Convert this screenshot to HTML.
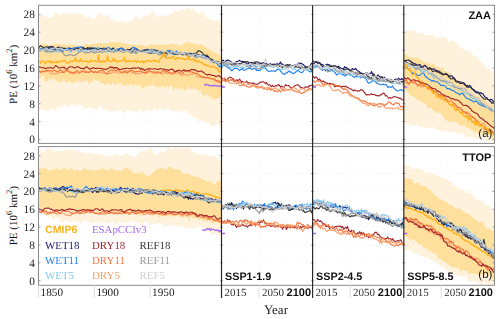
<!DOCTYPE html>
<html><head><meta charset="utf-8"><style>
html,body{margin:0;padding:0;background:#fff;width:500px;height:319px;overflow:hidden}
svg{display:block}
text{text-rendering:geometricPrecision;will-change:transform}
text.yl{will-change:auto}

</style></head><body>
<svg width="500" height="319" viewBox="0 0 500 319">
<rect width="500" height="319" fill="#fff"/>
<defs><clipPath id="c0"><rect x="38.5" y="5.3" width="456.0" height="138.1"/></clipPath><clipPath id="c1"><rect x="38.5" y="146.60000000000002" width="456.0" height="138.7"/></clipPath></defs>
<g clip-path="url(#c0)">
<line x1="38.5" y1="139.40" x2="494.5" y2="139.40" stroke="#f0f0f0" stroke-width="0.7" stroke-dasharray="1,1.5"/>
<line x1="38.5" y1="121.54" x2="494.5" y2="121.54" stroke="#f0f0f0" stroke-width="0.7" stroke-dasharray="1,1.5"/>
<line x1="38.5" y1="103.67" x2="494.5" y2="103.67" stroke="#f0f0f0" stroke-width="0.7" stroke-dasharray="1,1.5"/>
<line x1="38.5" y1="85.81" x2="494.5" y2="85.81" stroke="#f0f0f0" stroke-width="0.7" stroke-dasharray="1,1.5"/>
<line x1="38.5" y1="67.94" x2="494.5" y2="67.94" stroke="#f0f0f0" stroke-width="0.7" stroke-dasharray="1,1.5"/>
<line x1="38.5" y1="50.08" x2="494.5" y2="50.08" stroke="#f0f0f0" stroke-width="0.7" stroke-dasharray="1,1.5"/>
<line x1="38.5" y1="32.22" x2="494.5" y2="32.22" stroke="#f0f0f0" stroke-width="0.7" stroke-dasharray="1,1.5"/>
<line x1="38.5" y1="14.35" x2="494.5" y2="14.35" stroke="#f0f0f0" stroke-width="0.7" stroke-dasharray="1,1.5"/>
<line x1="94.29" y1="5.3" x2="94.29" y2="143.4" stroke="#f0f0f0" stroke-width="0.7" stroke-dasharray="1,1.5"/>
<line x1="150.09" y1="5.3" x2="150.09" y2="143.4" stroke="#f0f0f0" stroke-width="0.7" stroke-dasharray="1,1.5"/>
<line x1="259.01" y1="5.3" x2="259.01" y2="143.4" stroke="#f0f0f0" stroke-width="0.7" stroke-dasharray="1,1.5"/>
<line x1="350.15" y1="5.3" x2="350.15" y2="143.4" stroke="#f0f0f0" stroke-width="0.7" stroke-dasharray="1,1.5"/>
<line x1="441.15" y1="5.3" x2="441.15" y2="143.4" stroke="#f0f0f0" stroke-width="0.7" stroke-dasharray="1,1.5"/>
<polygon points="38.5,15.1 39.5,14.5 40.5,14.0 41.5,13.6 42.5,14.7 43.5,16.5 44.5,17.2 45.5,16.8 46.5,16.2 47.5,17.2 48.5,18.1 49.5,17.0 50.5,16.6 51.5,17.0 52.5,16.5 53.5,15.9 54.5,13.4 55.5,13.3 56.5,11.9 57.5,13.3 58.5,13.1 59.5,14.9 60.5,15.1 61.5,16.0 62.5,13.3 63.5,12.5 64.5,12.4 65.5,14.7 66.5,13.7 67.5,13.1 68.5,12.0 69.5,12.5 70.5,13.8 71.5,13.8 72.5,14.3 73.5,14.0 74.5,14.1 75.5,13.9 76.5,13.0 77.5,13.4 78.5,12.5 79.5,12.8 80.5,14.3 81.5,14.3 82.5,15.3 83.5,14.5 84.5,15.6 85.5,17.0 86.5,17.9 87.5,17.7 88.5,16.2 89.5,16.3 90.5,17.6 91.5,18.4 92.5,18.1 93.5,18.8 94.5,19.0 95.5,17.9 96.5,16.9 97.5,14.7 98.5,14.9 99.5,13.1 100.5,12.9 101.5,13.0 102.5,15.3 103.5,17.2 104.5,16.6 105.5,15.4 106.5,15.3 107.5,15.1 108.5,15.8 109.5,15.4 110.5,18.9 111.5,20.4 112.5,20.6 113.5,19.6 114.5,19.1 115.5,21.3 116.5,21.7 117.5,22.1 118.5,21.5 119.5,22.2 120.5,22.4 121.5,20.9 122.5,20.8 123.5,20.4 124.5,22.3 125.5,22.7 126.5,22.9 127.5,22.3 128.5,21.2 129.5,22.0 130.5,21.1 131.5,21.7 132.5,19.3 133.5,19.4 134.5,17.1 135.5,16.1 136.5,15.3 137.5,15.8 138.5,17.5 139.5,19.7 140.5,19.5 141.5,18.4 142.5,16.1 143.5,16.9 144.5,16.9 145.5,16.1 146.5,15.9 147.5,16.1 148.5,14.9 149.5,13.8 150.5,12.9 151.5,12.4 152.5,12.3 153.5,11.1 154.5,13.4 155.5,14.8 156.5,17.1 157.5,17.0 158.5,17.4 159.5,15.5 160.5,15.0 161.5,15.4 162.5,15.3 163.5,17.1 164.5,15.2 165.5,17.5 166.5,15.1 167.5,16.6 168.5,15.3 169.5,13.8 170.5,13.4 171.5,13.8 172.5,14.2 173.5,12.0 174.5,10.3 175.5,9.9 176.5,11.7 177.5,11.8 178.5,12.6 179.5,10.3 180.5,9.7 181.5,8.1 182.5,9.4 183.5,9.3 184.5,10.9 185.5,9.6 186.5,9.3 187.5,8.3 188.5,7.9 189.5,8.8 190.5,8.9 191.5,9.4 192.5,8.3 193.5,8.1 194.5,10.4 195.5,11.7 196.5,12.2 197.5,11.7 198.5,13.9 199.5,13.5 200.5,12.9 201.5,10.9 202.5,11.1 203.5,12.9 204.5,14.5 205.5,17.2 206.5,16.8 207.5,18.1 208.5,18.2 209.5,19.5 210.5,18.8 211.5,18.9 212.5,20.4 213.5,20.3 214.5,21.1 215.5,19.6 216.5,20.0 217.5,19.5 218.5,20.4 219.5,20.8 220.5,21.5 221.5,21.2 221.5,126.4 220.5,128.1 219.5,126.8 218.5,124.5 217.5,123.9 216.5,123.4 215.5,124.6 214.5,124.5 213.5,126.8 212.5,126.9 211.5,126.1 210.5,124.5 209.5,123.8 208.5,123.3 207.5,123.0 206.5,122.9 205.5,122.6 204.5,122.2 203.5,121.3 202.5,120.5 201.5,119.2 200.5,120.0 199.5,121.4 198.5,121.7 197.5,119.7 196.5,117.8 195.5,116.8 194.5,117.9 193.5,117.5 192.5,116.6 191.5,115.0 190.5,114.7 189.5,113.7 188.5,113.4 187.5,111.6 186.5,111.3 185.5,110.4 184.5,110.3 183.5,111.0 182.5,110.5 181.5,112.6 180.5,113.0 179.5,112.3 178.5,110.7 177.5,110.4 176.5,110.6 175.5,110.2 174.5,111.1 173.5,111.9 172.5,111.4 171.5,110.8 170.5,109.7 169.5,110.0 168.5,108.0 167.5,108.6 166.5,108.5 165.5,109.4 164.5,109.0 163.5,109.7 162.5,109.7 161.5,109.0 160.5,108.0 159.5,108.0 158.5,109.2 157.5,110.8 156.5,110.3 155.5,109.6 154.5,108.5 153.5,109.5 152.5,111.1 151.5,111.3 150.5,110.8 149.5,109.6 148.5,109.8 147.5,110.1 146.5,110.9 145.5,111.5 144.5,112.3 143.5,113.0 142.5,111.1 141.5,110.2 140.5,108.7 139.5,111.3 138.5,111.6 137.5,112.4 136.5,112.2 135.5,112.2 134.5,111.8 133.5,110.2 132.5,110.5 131.5,110.8 130.5,111.9 129.5,109.9 128.5,110.1 127.5,110.5 126.5,112.0 125.5,112.8 124.5,113.4 123.5,112.7 122.5,111.6 121.5,110.1 120.5,110.1 119.5,110.9 118.5,110.4 117.5,111.7 116.5,110.0 115.5,110.6 114.5,110.6 113.5,111.9 112.5,111.8 111.5,111.2 110.5,110.6 109.5,110.7 108.5,111.5 107.5,110.7 106.5,109.6 105.5,108.8 104.5,110.4 103.5,110.8 102.5,108.3 101.5,105.8 100.5,105.6 99.5,106.3 98.5,107.6 97.5,108.8 96.5,110.0 95.5,109.9 94.5,108.8 93.5,109.4 92.5,108.8 91.5,107.7 90.5,106.9 89.5,107.0 88.5,108.6 87.5,107.4 86.5,108.8 85.5,108.2 84.5,109.3 83.5,107.1 82.5,106.8 81.5,105.7 80.5,105.3 79.5,104.5 78.5,104.3 77.5,105.2 76.5,105.6 75.5,106.8 74.5,105.4 73.5,104.8 72.5,104.4 71.5,104.6 70.5,104.8 69.5,105.0 68.5,106.1 67.5,106.9 66.5,107.1 65.5,105.8 64.5,104.7 63.5,105.2 62.5,106.9 61.5,107.4 60.5,107.5 59.5,106.4 58.5,106.4 57.5,107.0 56.5,109.8 55.5,111.4 54.5,110.7 53.5,110.1 52.5,108.6 51.5,109.5 50.5,108.6 49.5,110.3 48.5,109.9 47.5,110.9 46.5,110.7 45.5,110.1 44.5,110.4 43.5,110.8 42.5,109.9 41.5,108.9 40.5,108.6 39.5,110.2 38.5,111.6" fill="#fff2dd"/>
<polygon points="38.5,45.2 39.5,45.1 40.5,44.9 41.5,44.7 42.5,43.9 43.5,43.4 44.5,43.7 45.5,43.7 46.5,44.2 47.5,44.6 48.5,45.4 49.5,45.2 50.5,45.8 51.5,45.4 52.5,44.9 53.5,44.4 54.5,44.1 55.5,43.4 56.5,43.8 57.5,43.9 58.5,44.1 59.5,44.9 60.5,44.8 61.5,44.3 62.5,44.4 63.5,44.5 64.5,44.0 65.5,45.0 66.5,45.3 67.5,44.9 68.5,44.4 69.5,44.8 70.5,44.7 71.5,43.9 72.5,44.8 73.5,45.4 74.5,45.6 75.5,45.3 76.5,45.9 77.5,45.0 78.5,45.7 79.5,45.2 80.5,45.9 81.5,45.7 82.5,46.1 83.5,44.6 84.5,44.5 85.5,44.2 86.5,44.0 87.5,44.3 88.5,44.9 89.5,44.7 90.5,44.1 91.5,44.3 92.5,43.9 93.5,43.6 94.5,43.6 95.5,43.6 96.5,43.4 97.5,42.9 98.5,43.0 99.5,43.6 100.5,43.1 101.5,43.4 102.5,43.6 103.5,43.3 104.5,43.2 105.5,43.4 106.5,43.5 107.5,43.1 108.5,43.2 109.5,42.5 110.5,42.0 111.5,41.6 112.5,41.9 113.5,42.0 114.5,42.2 115.5,42.2 116.5,42.0 117.5,42.2 118.5,42.4 119.5,42.3 120.5,43.0 121.5,42.7 122.5,43.2 123.5,42.8 124.5,42.9 125.5,43.2 126.5,44.5 127.5,44.0 128.5,44.3 129.5,45.0 130.5,44.8 131.5,44.5 132.5,44.8 133.5,44.9 134.5,45.3 135.5,45.4 136.5,45.4 137.5,45.3 138.5,45.1 139.5,44.2 140.5,45.1 141.5,44.8 142.5,45.2 143.5,45.6 144.5,46.3 145.5,45.6 146.5,46.4 147.5,45.9 148.5,45.4 149.5,44.9 150.5,44.4 151.5,44.0 152.5,44.6 153.5,44.8 154.5,44.6 155.5,45.0 156.5,45.2 157.5,43.9 158.5,44.4 159.5,44.4 160.5,44.9 161.5,44.0 162.5,44.9 163.5,44.1 164.5,44.2 165.5,44.3 166.5,44.9 167.5,44.8 168.5,45.0 169.5,44.7 170.5,44.0 171.5,43.7 172.5,43.8 173.5,44.0 174.5,44.2 175.5,44.3 176.5,44.3 177.5,44.7 178.5,45.3 179.5,45.7 180.5,45.4 181.5,45.3 182.5,44.6 183.5,43.4 184.5,43.0 185.5,42.4 186.5,42.1 187.5,41.8 188.5,42.1 189.5,42.6 190.5,43.2 191.5,43.2 192.5,43.6 193.5,43.7 194.5,44.0 195.5,44.4 196.5,44.5 197.5,44.8 198.5,44.7 199.5,44.6 200.5,44.7 201.5,44.6 202.5,44.8 203.5,45.5 204.5,46.2 205.5,46.8 206.5,48.0 207.5,48.2 208.5,48.7 209.5,49.1 210.5,49.9 211.5,50.2 212.5,51.2 213.5,51.9 214.5,52.5 215.5,52.7 216.5,53.8 217.5,53.6 218.5,54.2 219.5,54.8 220.5,55.5 221.5,55.9 221.5,98.0 220.5,95.6 219.5,97.5 218.5,97.8 217.5,98.7 216.5,98.5 215.5,99.0 214.5,99.8 213.5,97.3 212.5,100.0 211.5,95.9 210.5,98.4 209.5,97.0 208.5,95.3 207.5,95.2 206.5,93.2 205.5,95.4 204.5,97.8 203.5,95.8 202.5,94.0 201.5,94.8 200.5,88.9 199.5,91.3 198.5,90.4 197.5,90.2 196.5,89.0 195.5,90.1 194.5,86.4 193.5,88.2 192.5,89.7 191.5,89.2 190.5,88.2 189.5,89.4 188.5,85.3 187.5,89.4 186.5,89.1 185.5,90.8 184.5,91.1 183.5,87.3 182.5,89.1 181.5,88.7 180.5,89.8 179.5,87.3 178.5,87.4 177.5,90.9 176.5,88.8 175.5,87.5 174.5,89.0 173.5,91.4 172.5,86.9 171.5,85.8 170.5,84.9 169.5,88.3 168.5,86.9 167.5,86.6 166.5,86.0 165.5,87.0 164.5,88.7 163.5,85.4 162.5,86.3 161.5,85.5 160.5,87.5 159.5,86.2 158.5,87.6 157.5,86.9 156.5,86.3 155.5,85.3 154.5,87.4 153.5,84.2 152.5,83.8 151.5,85.0 150.5,86.9 149.5,86.3 148.5,84.6 147.5,85.8 146.5,88.3 145.5,86.2 144.5,85.9 143.5,88.8 142.5,89.1 141.5,87.5 140.5,84.9 139.5,84.6 138.5,86.9 137.5,84.9 136.5,85.5 135.5,83.9 134.5,85.7 133.5,86.2 132.5,84.1 131.5,85.4 130.5,83.7 129.5,83.6 128.5,86.6 127.5,84.5 126.5,86.3 125.5,84.0 124.5,85.4 123.5,85.3 122.5,86.1 121.5,82.1 120.5,83.3 119.5,84.8 118.5,82.8 117.5,81.8 116.5,85.7 115.5,85.2 114.5,83.6 113.5,83.6 112.5,82.3 111.5,86.0 110.5,83.6 109.5,85.6 108.5,83.8 107.5,83.4 106.5,83.1 105.5,86.3 104.5,84.6 103.5,83.1 102.5,82.3 101.5,84.2 100.5,82.7 99.5,81.2 98.5,80.9 97.5,81.3 96.5,80.3 95.5,80.7 94.5,80.2 93.5,76.8 92.5,82.7 91.5,82.1 90.5,81.8 89.5,83.5 88.5,84.3 87.5,82.3 86.5,79.3 85.5,81.4 84.5,81.7 83.5,82.0 82.5,79.9 81.5,82.9 80.5,82.3 79.5,83.2 78.5,79.7 77.5,80.6 76.5,82.7 75.5,81.6 74.5,82.6 73.5,83.5 72.5,82.7 71.5,82.9 70.5,81.6 69.5,80.5 68.5,83.1 67.5,81.7 66.5,82.0 65.5,82.0 64.5,80.2 63.5,79.3 62.5,80.8 61.5,80.9 60.5,83.5 59.5,83.6 58.5,81.3 57.5,80.3 56.5,82.7 55.5,79.7 54.5,78.7 53.5,78.3 52.5,81.1 51.5,76.6 50.5,80.1 49.5,81.7 48.5,77.9 47.5,80.5 46.5,81.6 45.5,81.8 44.5,80.0 43.5,75.2 42.5,76.1 41.5,76.3 40.5,77.9 39.5,77.9 38.5,78.6" fill="#ffdf9c"/>
<polygon points="403.8,32.0 404.8,31.6 405.8,30.3 406.8,30.6 407.8,30.4 408.8,31.0 409.8,30.2 410.8,30.5 411.8,30.6 412.8,30.9 413.8,30.5 414.8,30.8 415.8,32.4 416.8,33.2 417.8,33.6 418.8,32.8 419.8,33.5 420.8,33.2 421.8,33.0 422.8,33.4 423.8,34.4 424.8,34.9 425.8,35.5 426.8,35.2 427.8,35.4 428.8,34.4 429.8,35.9 430.8,35.0 431.8,35.2 432.8,34.2 433.8,36.0 434.8,37.0 435.8,38.3 436.8,37.3 437.8,37.6 438.8,36.9 439.8,37.6 440.8,37.8 441.8,37.6 442.8,37.1 443.8,36.8 444.8,36.7 445.8,37.8 446.8,38.4 447.8,39.7 448.8,41.3 449.8,41.5 450.8,41.0 451.8,40.2 452.8,40.4 453.8,41.1 454.8,42.4 455.8,43.2 456.8,43.3 457.8,44.1 458.8,45.0 459.8,46.9 460.8,47.2 461.8,48.2 462.8,48.6 463.8,49.9 464.8,50.3 465.8,51.1 466.8,51.2 467.8,50.7 468.8,51.0 469.8,51.2 470.8,52.8 471.8,52.9 472.8,54.9 473.8,55.8 474.8,56.8 475.8,55.7 476.8,56.4 477.8,58.0 478.8,59.5 479.8,60.6 480.8,61.2 481.8,62.8 482.8,63.3 483.8,64.5 484.8,65.7 485.8,68.5 486.8,68.8 487.8,68.9 488.8,67.8 489.8,69.8 490.8,70.3 491.8,71.4 492.8,71.8 493.8,73.7 494.5,74.9 494.5,142.0 493.8,142.9 492.8,141.8 491.8,142.0 490.8,140.7 489.8,141.2 488.8,141.5 487.8,141.6 486.8,141.1 485.8,141.4 484.8,139.7 483.8,138.7 482.8,138.2 481.8,139.3 480.8,139.8 479.8,139.4 478.8,138.7 477.8,138.2 476.8,138.6 475.8,138.7 474.8,139.0 473.8,137.1 472.8,137.8 471.8,137.0 470.8,137.6 469.8,136.8 468.8,136.4 467.8,137.3 466.8,138.0 465.8,138.6 464.8,136.5 463.8,134.9 462.8,133.3 461.8,134.1 460.8,133.6 459.8,133.4 458.8,133.3 457.8,133.2 456.8,132.8 455.8,131.9 454.8,131.8 453.8,132.0 452.8,132.1 451.8,131.5 450.8,131.8 449.8,131.7 448.8,131.6 447.8,130.4 446.8,131.1 445.8,131.0 444.8,131.6 443.8,130.8 442.8,131.8 441.8,132.0 440.8,130.7 439.8,129.7 438.8,129.2 437.8,130.5 436.8,129.9 435.8,129.5 434.8,128.4 433.8,127.0 432.8,126.6 431.8,127.3 430.8,128.4 429.8,128.4 428.8,127.2 427.8,127.3 426.8,128.7 425.8,128.7 424.8,127.7 423.8,126.7 422.8,126.4 421.8,127.4 420.8,126.8 419.8,127.9 418.8,126.6 417.8,125.6 416.8,124.3 415.8,125.1 414.8,125.1 413.8,125.3 412.8,125.2 411.8,126.1 410.8,125.8 409.8,124.2 408.8,123.5 407.8,123.8 406.8,124.5 405.8,123.7 404.8,122.2 403.8,122.0" fill="#fff2dd"/>
<polygon points="403.8,54.4 404.8,54.6 405.8,54.1 406.8,54.9 407.8,56.6 408.8,56.9 409.8,56.9 410.8,57.0 411.8,57.2 412.8,57.4 413.8,57.3 414.8,57.7 415.8,57.5 416.8,57.9 417.8,58.5 418.8,58.8 419.8,58.8 420.8,59.8 421.8,60.5 422.8,61.5 423.8,61.9 424.8,62.4 425.8,63.6 426.8,62.8 427.8,63.4 428.8,62.3 429.8,64.2 430.8,65.1 431.8,64.6 432.8,63.4 433.8,63.3 434.8,65.2 435.8,66.5 436.8,66.5 437.8,66.7 438.8,67.1 439.8,67.5 440.8,68.5 441.8,67.6 442.8,68.8 443.8,68.4 444.8,70.9 445.8,71.2 446.8,72.0 447.8,72.4 448.8,72.8 449.8,73.5 450.8,73.2 451.8,74.5 452.8,76.0 453.8,78.2 454.8,78.9 455.8,79.9 456.8,80.1 457.8,80.9 458.8,81.4 459.8,82.7 460.8,83.3 461.8,83.6 462.8,83.7 463.8,84.7 464.8,85.1 465.8,86.5 466.8,87.0 467.8,88.5 468.8,88.2 469.8,89.4 470.8,90.1 471.8,91.1 472.8,92.7 473.8,93.5 474.8,95.5 475.8,95.6 476.8,95.8 477.8,95.4 478.8,95.8 479.8,97.0 480.8,98.0 481.8,98.3 482.8,98.1 483.8,98.7 484.8,98.3 485.8,100.3 486.8,100.8 487.8,102.4 488.8,102.8 489.8,104.1 490.8,104.4 491.8,104.4 492.8,104.4 493.8,104.8 494.5,105.7 494.5,139.0 493.8,138.9 492.8,138.9 491.8,138.2 490.8,137.1 489.8,136.0 488.8,135.1 487.8,135.0 486.8,134.4 485.8,135.1 484.8,134.7 483.8,134.4 482.8,133.3 481.8,133.1 480.8,132.9 479.8,133.3 478.8,134.5 477.8,134.1 476.8,132.5 475.8,132.0 474.8,132.6 473.8,132.6 472.8,131.1 471.8,130.0 470.8,129.7 469.8,128.6 468.8,127.9 467.8,127.9 466.8,127.6 465.8,127.1 464.8,125.4 463.8,126.1 462.8,125.6 461.8,126.6 460.8,125.7 459.8,125.3 458.8,124.6 457.8,123.5 456.8,121.8 455.8,122.4 454.8,121.8 453.8,122.7 452.8,120.9 451.8,121.0 450.8,121.4 449.8,122.0 448.8,121.4 447.8,120.7 446.8,120.6 445.8,120.9 444.8,119.1 443.8,117.8 442.8,115.6 441.8,114.9 440.8,112.9 439.8,112.8 438.8,112.3 437.8,113.0 436.8,113.5 435.8,112.6 434.8,111.0 433.8,110.4 432.8,109.9 431.8,109.2 430.8,107.3 429.8,107.5 428.8,108.7 427.8,108.7 426.8,106.6 425.8,104.4 424.8,103.2 423.8,103.0 422.8,103.0 421.8,102.5 420.8,100.9 419.8,100.6 418.8,100.1 417.8,101.0 416.8,99.1 415.8,98.7 414.8,97.0 413.8,96.5 412.8,95.5 411.8,96.4 410.8,95.9 409.8,95.0 408.8,93.1 407.8,92.2 406.8,90.8 405.8,90.6 404.8,89.1 403.8,90.1" fill="#ffdf9c"/>
<polyline points="38.5,48.7 39.5,48.2 40.5,49.0 41.5,48.7 42.5,48.9 43.5,48.0 44.5,47.7 45.5,48.1 46.5,48.0 47.5,48.9 48.5,48.5 49.5,47.7 50.5,46.8 51.5,46.3 52.5,47.4 53.5,48.3 54.5,49.6 55.5,49.0 56.5,48.1 57.5,48.7 58.5,49.5 59.5,49.9 60.5,49.5 61.5,50.6 62.5,51.3 63.5,50.8 64.5,49.8 65.5,49.5 66.5,49.1 67.5,48.5 68.5,48.2 69.5,48.1 70.5,48.6 71.5,48.6 72.5,50.2 73.5,49.9 74.5,49.8 75.5,48.6 76.5,49.2 77.5,49.8 78.5,49.6 79.5,49.0 80.5,47.7 81.5,47.5 82.5,48.2 83.5,49.1 84.5,49.0 85.5,48.6 86.5,48.6 87.5,49.4 88.5,49.3 89.5,49.2 90.5,48.0 91.5,47.8 92.5,48.7 93.5,48.6 94.5,49.0 95.5,48.3 96.5,49.2 97.5,49.0 98.5,48.9 99.5,49.1 100.5,49.4 101.5,48.6 102.5,48.5 103.5,48.2 104.5,48.8 105.5,49.0 106.5,49.8 107.5,50.5 108.5,50.2 109.5,50.3 110.5,50.5 111.5,51.3 112.5,51.5 113.5,50.9 114.5,50.3 115.5,50.0 116.5,49.4 117.5,49.6 118.5,49.0 119.5,49.5 120.5,48.5 121.5,48.4 122.5,48.6 123.5,49.9 124.5,50.8 125.5,50.8 126.5,50.3 127.5,49.4 128.5,49.7 129.5,49.7 130.5,50.4 131.5,51.2 132.5,51.3 133.5,50.4 134.5,49.2 135.5,48.5 136.5,48.8 137.5,49.9 138.5,50.8 139.5,50.7 140.5,50.5 141.5,51.1 142.5,51.7 143.5,51.1 144.5,50.4 145.5,50.8 146.5,51.5 147.5,52.4 148.5,52.9 149.5,53.2 150.5,53.4 151.5,53.2 152.5,52.0 153.5,51.3 154.5,51.2 155.5,51.8 156.5,52.4 157.5,52.2 158.5,52.0 159.5,52.3 160.5,52.9 161.5,53.5 162.5,53.4 163.5,53.6 164.5,53.8 165.5,52.2 166.5,51.4 167.5,51.1 168.5,51.9 169.5,52.4 170.5,53.3 171.5,53.6 172.5,53.0 173.5,53.5 174.5,53.6 175.5,53.6 176.5,52.8 177.5,53.3 178.5,53.6 179.5,54.0 180.5,53.6 181.5,53.5 182.5,53.3 183.5,54.0 184.5,54.2 185.5,54.3 186.5,54.0 187.5,55.7 188.5,55.3 189.5,56.1 190.5,54.7 191.5,55.1 192.5,54.8 193.5,55.3 194.5,56.1 195.5,55.9 196.5,55.3 197.5,54.4 198.5,54.6 199.5,55.2 200.5,56.4 201.5,56.8 202.5,57.5 203.5,58.0 204.5,58.3 205.5,57.5 206.5,56.6 207.5,56.2 208.5,58.1 209.5,58.6 210.5,60.3 211.5,60.2 212.5,61.8 213.5,62.1 214.5,62.1 215.5,61.6 216.5,61.5 217.5,62.0 218.5,62.2 219.5,62.6 220.5,63.6 221.5,63.4" fill="none" stroke="#18186f" stroke-width="1.15" stroke-linejoin="round" stroke-opacity="1.0"/>
<polyline points="38.5,48.3 39.5,48.6 40.5,48.9 41.5,49.2 42.5,48.1 43.5,48.7 44.5,48.0 45.5,49.0 46.5,48.6 47.5,47.8 48.5,47.1 49.5,47.2 50.5,49.0 51.5,49.5 52.5,49.5 53.5,48.2 54.5,48.7 55.5,49.4 56.5,50.1 57.5,49.3 58.5,47.8 59.5,48.2 60.5,49.5 61.5,50.6 62.5,50.7 63.5,49.8 64.5,49.0 65.5,49.0 66.5,48.3 67.5,48.6 68.5,48.1 69.5,49.1 70.5,49.4 71.5,49.4 72.5,48.7 73.5,47.9 74.5,47.8 75.5,47.8 76.5,47.8 77.5,47.2 78.5,47.4 79.5,47.1 80.5,47.1 81.5,46.6 82.5,47.5 83.5,48.3 84.5,49.9 85.5,49.2 86.5,48.7 87.5,48.2 88.5,48.8 89.5,48.9 90.5,49.3 91.5,49.3 92.5,48.9 93.5,47.5 94.5,47.9 95.5,48.5 96.5,48.5 97.5,47.9 98.5,48.0 99.5,48.9 100.5,49.0 101.5,49.1 102.5,49.1 103.5,48.6 104.5,48.2 105.5,48.1 106.5,48.7 107.5,47.9 108.5,47.5 109.5,48.1 110.5,49.8 111.5,49.0 112.5,49.8 113.5,48.6 114.5,50.0 115.5,49.4 116.5,50.3 117.5,50.0 118.5,48.9 119.5,48.8 120.5,48.4 121.5,47.8 122.5,48.8 123.5,49.4 124.5,51.4 125.5,49.7 126.5,50.0 127.5,49.9 128.5,51.1 129.5,50.4 130.5,49.2 131.5,48.5 132.5,47.6 133.5,47.4 134.5,47.6 135.5,48.3 136.5,49.0 137.5,49.0 138.5,50.4 139.5,51.1 140.5,51.2 141.5,51.0 142.5,50.1 143.5,50.1 144.5,50.0 145.5,49.9 146.5,50.0 147.5,49.1 148.5,49.7 149.5,50.7 150.5,51.0 151.5,51.1 152.5,50.1 153.5,50.0 154.5,49.4 155.5,50.5 156.5,52.2 157.5,53.0 158.5,52.1 159.5,51.5 160.5,51.2 161.5,51.9 162.5,51.8 163.5,52.2 164.5,52.2 165.5,51.8 166.5,51.6 167.5,50.6 168.5,50.8 169.5,50.4 170.5,51.2 171.5,51.0 172.5,51.8 173.5,52.1 174.5,52.0 175.5,51.7 176.5,51.1 177.5,52.2 178.5,53.4 179.5,54.3 180.5,54.0 181.5,54.0 182.5,53.0 183.5,53.9 184.5,53.1 185.5,52.6 186.5,53.2 187.5,54.3 188.5,55.2 189.5,54.2 190.5,53.5 191.5,54.1 192.5,53.5 193.5,53.4 194.5,53.7 195.5,54.5 196.5,55.5 197.5,55.4 198.5,56.5 199.5,55.7 200.5,56.1 201.5,54.8 202.5,55.1 203.5,56.2 204.5,57.2 205.5,58.6 206.5,58.5 207.5,59.0 208.5,59.0 209.5,59.3 210.5,60.0 211.5,60.9 212.5,61.9 213.5,62.3 214.5,62.0 215.5,62.3 216.5,62.9 217.5,64.2 218.5,65.8 219.5,66.6 220.5,66.6 221.5,65.8" fill="none" stroke="#1f7ff0" stroke-width="1.15" stroke-linejoin="round" stroke-opacity="1.0"/>
<polyline points="38.5,48.5 39.5,48.8 40.5,49.0 41.5,50.0 42.5,50.0 43.5,50.1 44.5,49.1 45.5,50.2 46.5,50.6 47.5,52.2 48.5,51.8 49.5,52.3 50.5,51.2 51.5,51.2 52.5,51.9 53.5,51.4 54.5,51.6 55.5,51.1 56.5,52.0 57.5,51.8 58.5,51.6 59.5,51.0 60.5,50.8 61.5,49.6 62.5,49.6 63.5,49.1 64.5,49.5 65.5,50.0 66.5,50.6 67.5,49.9 68.5,50.9 69.5,51.3 70.5,52.5 71.5,51.2 72.5,50.5 73.5,50.4 74.5,50.9 75.5,50.0 76.5,50.1 77.5,51.5 78.5,51.4 79.5,51.6 80.5,50.2 81.5,51.2 82.5,51.4 83.5,50.5 84.5,50.7 85.5,50.8 86.5,51.3 87.5,51.0 88.5,50.3 89.5,50.1 90.5,51.2 91.5,50.7 92.5,51.4 93.5,49.9 94.5,50.8 95.5,50.2 96.5,49.5 97.5,49.1 98.5,48.6 99.5,49.8 100.5,50.7 101.5,50.7 102.5,50.3 103.5,50.3 104.5,51.0 105.5,52.5 106.5,51.8 107.5,51.3 108.5,50.4 109.5,50.9 110.5,52.0 111.5,52.0 112.5,51.4 113.5,50.8 114.5,50.5 115.5,51.5 116.5,51.6 117.5,51.3 118.5,50.0 119.5,50.4 120.5,51.4 121.5,51.6 122.5,50.8 123.5,50.5 124.5,49.6 125.5,49.3 126.5,49.8 127.5,50.4 128.5,51.4 129.5,51.6 130.5,52.3 131.5,52.1 132.5,52.7 133.5,52.8 134.5,52.7 135.5,51.9 136.5,51.9 137.5,51.6 138.5,51.3 139.5,51.1 140.5,50.5 141.5,50.5 142.5,50.5 143.5,51.4 144.5,50.6 145.5,50.7 146.5,50.9 147.5,52.0 148.5,51.6 149.5,52.0 150.5,51.4 151.5,52.0 152.5,52.4 153.5,52.7 154.5,52.7 155.5,52.6 156.5,52.8 157.5,53.0 158.5,52.6 159.5,53.5 160.5,52.5 161.5,52.0 162.5,50.9 163.5,51.6 164.5,51.6 165.5,51.8 166.5,52.6 167.5,52.7 168.5,53.3 169.5,53.4 170.5,53.5 171.5,53.6 172.5,54.3 173.5,55.0 174.5,54.6 175.5,53.8 176.5,53.1 177.5,53.7 178.5,54.3 179.5,54.5 180.5,54.3 181.5,54.5 182.5,54.8 183.5,55.1 184.5,54.0 185.5,53.9 186.5,53.6 187.5,55.4 188.5,55.7 189.5,55.8 190.5,54.4 191.5,54.6 192.5,55.3 193.5,55.8 194.5,57.1 195.5,57.0 196.5,57.7 197.5,56.8 198.5,57.1 199.5,55.7 200.5,55.7 201.5,55.8 202.5,56.8 203.5,56.2 204.5,57.1 205.5,57.5 206.5,58.8 207.5,58.6 208.5,59.1 209.5,60.0 210.5,59.9 211.5,59.9 212.5,60.2 213.5,61.4 214.5,62.1 215.5,62.1 216.5,62.0 217.5,62.6 218.5,63.9 219.5,64.2 220.5,65.5 221.5,65.7" fill="none" stroke="#84c8ec" stroke-width="1.15" stroke-linejoin="round" stroke-opacity="1.0"/>
<polyline points="38.5,47.4 39.5,46.8 40.5,45.7 41.5,46.3 42.5,47.0 43.5,47.5 44.5,47.8 45.5,46.8 46.5,47.4 47.5,46.6 48.5,47.4 49.5,46.9 50.5,47.1 51.5,46.8 52.5,46.5 53.5,47.1 54.5,48.1 55.5,49.0 56.5,48.5 57.5,47.8 58.5,47.0 59.5,47.8 60.5,47.2 61.5,48.3 62.5,47.9 63.5,48.5 64.5,48.1 65.5,48.9 66.5,49.5 67.5,49.9 68.5,49.5 69.5,49.9 70.5,50.1 71.5,50.0 72.5,50.1 73.5,49.6 74.5,49.7 75.5,48.5 76.5,48.3 77.5,48.6 78.5,48.5 79.5,49.0 80.5,48.8 81.5,49.6 82.5,48.1 83.5,47.9 84.5,48.1 85.5,48.9 86.5,49.0 87.5,47.5 88.5,48.3 89.5,47.9 90.5,49.6 91.5,48.3 92.5,49.0 93.5,48.5 94.5,49.9 95.5,49.1 96.5,48.9 97.5,49.7 98.5,49.7 99.5,49.7 100.5,48.4 101.5,48.3 102.5,49.3 103.5,50.4 104.5,50.6 105.5,49.1 106.5,48.8 107.5,49.8 108.5,51.2 109.5,51.2 110.5,50.2 111.5,49.7 112.5,48.4 113.5,48.1 114.5,48.7 115.5,49.1 116.5,51.1 117.5,50.6 118.5,50.6 119.5,49.9 120.5,50.8 121.5,51.4 122.5,50.4 123.5,49.7 124.5,50.2 125.5,50.6 126.5,50.0 127.5,49.8 128.5,50.2 129.5,50.0 130.5,49.3 131.5,48.9 132.5,49.7 133.5,50.0 134.5,51.1 135.5,51.4 136.5,50.6 137.5,50.3 138.5,50.4 139.5,51.5 140.5,51.9 141.5,51.2 142.5,50.6 143.5,50.6 144.5,50.4 145.5,49.8 146.5,49.9 147.5,50.2 148.5,51.2 149.5,50.0 150.5,49.8 151.5,49.4 152.5,50.0 153.5,50.9 154.5,50.4 155.5,51.0 156.5,50.3 157.5,51.0 158.5,51.0 159.5,51.7 160.5,51.5 161.5,52.2 162.5,51.8 163.5,52.8 164.5,52.0 165.5,53.3 166.5,53.0 167.5,53.5 168.5,52.4 169.5,53.3 170.5,52.4 171.5,52.7 172.5,53.2 173.5,53.8 174.5,54.1 175.5,54.4 176.5,54.5 177.5,54.1 178.5,53.4 179.5,52.8 180.5,53.9 181.5,54.2 182.5,54.7 183.5,53.9 184.5,53.5 185.5,53.9 186.5,53.8 187.5,54.1 188.5,53.2 189.5,53.6 190.5,53.2 191.5,54.2 192.5,54.7 193.5,54.1 194.5,54.1 195.5,53.3 196.5,53.1 197.5,51.6 198.5,50.6 199.5,51.0 200.5,51.4 201.5,52.2 202.5,52.8 203.5,54.0 204.5,55.3 205.5,55.4 206.5,55.1 207.5,55.6 208.5,56.7 209.5,58.5 210.5,58.5 211.5,59.4 212.5,59.8 213.5,60.6 214.5,60.7 215.5,61.0 216.5,61.2 217.5,61.5 218.5,62.3 219.5,62.4 220.5,63.7 221.5,63.6" fill="none" stroke="#353535" stroke-width="1.15" stroke-linejoin="round" stroke-opacity="1.0"/>
<polyline points="38.5,50.4 39.5,51.0 40.5,50.9 41.5,50.4 42.5,48.9 43.5,49.0 44.5,50.9 45.5,51.5 46.5,52.2 47.5,50.5 48.5,50.6 49.5,50.5 50.5,52.1 51.5,51.6 52.5,51.6 53.5,50.8 54.5,50.7 55.5,50.4 56.5,50.1 57.5,49.4 58.5,49.8 59.5,50.3 60.5,51.7 61.5,51.2 62.5,52.3 63.5,53.3 64.5,55.2 65.5,55.7 66.5,55.6 67.5,55.5 68.5,54.7 69.5,55.0 70.5,54.5 71.5,54.7 72.5,55.4 73.5,55.6 74.5,55.5 75.5,54.8 76.5,54.6 77.5,53.5 78.5,52.7 79.5,51.9 80.5,51.4 81.5,50.9 82.5,50.3 83.5,51.7 84.5,52.6 85.5,53.2 86.5,52.1 87.5,52.6 88.5,52.5 89.5,52.5 90.5,51.5 91.5,51.5 92.5,52.3 93.5,52.2 94.5,53.2 95.5,51.9 96.5,52.4 97.5,50.7 98.5,52.2 99.5,51.6 100.5,52.2 101.5,51.7 102.5,52.6 103.5,52.0 104.5,51.4 105.5,49.9 106.5,50.6 107.5,50.8 108.5,51.4 109.5,50.9 110.5,50.8 111.5,50.6 112.5,51.3 113.5,52.4 114.5,51.7 115.5,51.4 116.5,50.3 117.5,51.7 118.5,51.3 119.5,51.4 120.5,50.6 121.5,51.6 122.5,51.7 123.5,52.2 124.5,52.1 125.5,51.9 126.5,51.1 127.5,51.3 128.5,51.6 129.5,52.4 130.5,52.6 131.5,53.2 132.5,52.7 133.5,51.8 134.5,52.0 135.5,53.4 136.5,53.5 137.5,52.0 138.5,50.9 139.5,51.0 140.5,50.8 141.5,51.2 142.5,50.8 143.5,51.1 144.5,51.6 145.5,52.0 146.5,52.6 147.5,52.5 148.5,53.4 149.5,53.3 150.5,53.0 151.5,52.1 152.5,53.3 153.5,53.7 154.5,53.5 155.5,52.6 156.5,52.7 157.5,53.6 158.5,54.6 159.5,55.0 160.5,54.7 161.5,54.0 162.5,52.9 163.5,53.8 164.5,54.3 165.5,56.5 166.5,56.0 167.5,54.4 168.5,52.1 169.5,51.7 170.5,52.1 171.5,52.1 172.5,52.0 173.5,53.1 174.5,53.6 175.5,53.5 176.5,53.9 177.5,53.8 178.5,54.1 179.5,52.9 180.5,52.9 181.5,53.6 182.5,53.6 183.5,54.0 184.5,54.2 185.5,54.9 186.5,55.2 187.5,54.3 188.5,55.3 189.5,55.8 190.5,56.7 191.5,55.1 192.5,53.9 193.5,54.4 194.5,56.5 195.5,57.3 196.5,57.5 197.5,56.3 198.5,56.1 199.5,55.5 200.5,56.3 201.5,56.0 202.5,57.0 203.5,57.9 204.5,58.5 205.5,57.7 206.5,57.6 207.5,58.3 208.5,58.1 209.5,58.8 210.5,59.7 211.5,61.1 212.5,62.3 213.5,62.7 214.5,62.9 215.5,62.2 216.5,62.0 217.5,62.4 218.5,63.0 219.5,63.7 220.5,64.2 221.5,65.4" fill="none" stroke="#9a9a9a" stroke-width="1.15" stroke-linejoin="round" stroke-opacity="1.0"/>
<polyline points="38.5,50.1 39.5,50.0 40.5,50.3 41.5,50.0 42.5,50.8 43.5,49.5 44.5,49.4 45.5,47.8 46.5,48.1 47.5,48.5 48.5,50.0 49.5,49.9 50.5,49.6 51.5,48.7 52.5,48.7 53.5,48.1 54.5,48.3 55.5,47.8 56.5,48.5 57.5,48.5 58.5,49.1 59.5,48.5 60.5,47.8 61.5,49.1 62.5,49.0 63.5,50.5 64.5,49.9 65.5,50.4 66.5,49.0 67.5,49.2 68.5,50.3 69.5,50.5 70.5,49.8 71.5,49.5 72.5,50.1 73.5,51.3 74.5,50.5 75.5,50.6 76.5,49.0 77.5,50.4 78.5,49.7 79.5,49.2 80.5,48.1 81.5,48.4 82.5,50.6 83.5,50.5 84.5,50.6 85.5,49.9 86.5,50.9 87.5,50.9 88.5,51.1 89.5,50.6 90.5,50.5 91.5,50.0 92.5,49.8 93.5,49.5 94.5,50.1 95.5,49.4 96.5,50.5 97.5,50.3 98.5,51.0 99.5,50.1 100.5,49.5 101.5,49.8 102.5,50.6 103.5,50.8 104.5,51.1 105.5,50.5 106.5,50.5 107.5,49.2 108.5,49.9 109.5,49.8 110.5,50.4 111.5,50.7 112.5,51.0 113.5,49.7 114.5,49.2 115.5,48.1 116.5,50.1 117.5,51.4 118.5,51.9 119.5,51.4 120.5,50.0 121.5,50.5 122.5,50.8 123.5,51.6 124.5,50.9 125.5,51.4 126.5,50.3 127.5,50.9 128.5,50.7 129.5,51.6 130.5,51.0 131.5,50.1 132.5,49.6 133.5,50.1 134.5,51.1 135.5,50.7 136.5,51.0 137.5,50.8 138.5,51.8 139.5,51.9 140.5,52.4 141.5,52.4 142.5,52.6 143.5,52.2 144.5,52.9 145.5,51.6 146.5,52.0 147.5,51.0 148.5,51.9 149.5,50.8 150.5,50.0 151.5,50.0 152.5,50.2 153.5,51.5 154.5,51.0 155.5,52.1 156.5,52.1 157.5,52.7 158.5,51.7 159.5,51.2 160.5,50.8 161.5,50.9 162.5,51.4 163.5,52.0 164.5,51.6 165.5,51.5 166.5,51.2 167.5,52.0 168.5,53.2 169.5,54.0 170.5,53.8 171.5,52.1 172.5,51.1 173.5,50.4 174.5,51.7 175.5,52.1 176.5,53.1 177.5,52.5 178.5,53.0 179.5,53.8 180.5,53.9 181.5,53.8 182.5,52.7 183.5,53.6 184.5,53.4 185.5,53.3 186.5,52.3 187.5,52.2 188.5,53.1 189.5,55.2 190.5,55.6 191.5,55.9 192.5,54.8 193.5,54.9 194.5,54.3 195.5,54.2 196.5,54.5 197.5,55.8 198.5,55.0 199.5,55.7 200.5,55.1 201.5,56.3 202.5,56.7 203.5,57.5 204.5,58.4 205.5,59.0 206.5,59.4 207.5,58.7 208.5,59.6 209.5,60.7 210.5,62.6 211.5,62.7 212.5,61.2 213.5,61.0 214.5,60.4 215.5,61.2 216.5,62.1 217.5,62.4 218.5,63.0 219.5,61.9 220.5,62.5 221.5,63.0" fill="none" stroke="#d0d0d0" stroke-width="1.15" stroke-linejoin="round" stroke-opacity="1.0"/>
<polyline points="38.5,61.2 39.5,61.2 40.5,63.3 41.5,60.8 42.5,60.9 43.5,61.1 44.5,62.7 45.5,63.5 46.5,62.0 47.5,61.1 48.5,61.4 49.5,62.6 50.5,60.9 51.5,62.9 52.5,62.9 53.5,61.7 54.5,62.2 55.5,62.3 56.5,62.9 57.5,60.8 58.5,62.6 59.5,61.3 60.5,61.0 61.5,61.7 62.5,61.4 63.5,60.8 64.5,60.2 65.5,60.8 66.5,62.8 67.5,63.2 68.5,62.1 69.5,62.5 70.5,61.1 71.5,61.4 72.5,61.7 73.5,60.6 74.5,60.7 75.5,57.6 76.5,61.2 77.5,60.6 78.5,61.8 79.5,61.2 80.5,58.8 81.5,61.4 82.5,61.2 83.5,61.5 84.5,61.3 85.5,60.8 86.5,61.0 87.5,62.0 88.5,61.9 89.5,62.4 90.5,59.9 91.5,61.0 92.5,61.0 93.5,61.5 94.5,60.9 95.5,60.9 96.5,61.9 97.5,61.4 98.5,54.8 99.5,62.4 100.5,62.1 101.5,60.8 102.5,61.9 103.5,60.6 104.5,62.2 105.5,61.0 106.5,60.5 107.5,55.9 108.5,60.6 109.5,61.3 110.5,61.3 111.5,61.2 112.5,60.7 113.5,58.1 114.5,61.2 115.5,59.5 116.5,61.3 117.5,62.0 118.5,61.3 119.5,60.8 120.5,60.9 121.5,61.0 122.5,60.6 123.5,60.6 124.5,57.3 125.5,62.0 126.5,61.0 127.5,61.8 128.5,60.8 129.5,61.1 130.5,60.9 131.5,61.4 132.5,61.7 133.5,61.3 134.5,60.5 135.5,60.5 136.5,62.5 137.5,60.9 138.5,60.9 139.5,62.4 140.5,62.1 141.5,61.7 142.5,60.9 143.5,63.2 144.5,61.6 145.5,61.8 146.5,61.2 147.5,60.2 148.5,60.3 149.5,61.7 150.5,61.7 151.5,61.2 152.5,60.5 153.5,60.3 154.5,61.2 155.5,60.0 156.5,61.5 157.5,61.2 158.5,62.1 159.5,60.0 160.5,58.3 161.5,57.5 162.5,54.9 163.5,56.8 164.5,52.9 165.5,57.9 166.5,57.7 167.5,57.8 168.5,57.6 169.5,58.0 170.5,58.7 171.5,56.7 172.5,57.3 173.5,56.6 174.5,59.2 175.5,59.0 176.5,58.7 177.5,57.2 178.5,58.4 179.5,58.2 180.5,58.6 181.5,58.5 182.5,59.2 183.5,58.5 184.5,59.7 185.5,59.3 186.5,58.9 187.5,59.2 188.5,56.0 189.5,60.2 190.5,59.4 191.5,60.0 192.5,59.5 193.5,58.7 194.5,61.0 195.5,59.8 196.5,61.6 197.5,61.8 198.5,60.6 199.5,61.6 200.5,62.4 201.5,62.5 202.5,62.7 203.5,64.7 204.5,64.3 205.5,65.2 206.5,65.0 207.5,66.0 208.5,65.5 209.5,66.3 210.5,67.1 211.5,66.9 212.5,66.7 213.5,66.4 214.5,67.7 215.5,68.1 216.5,67.8 217.5,68.2 218.5,70.1 219.5,72.5 220.5,70.9 221.5,72.3" fill="none" stroke="#ffb21c" stroke-width="1.3" stroke-linejoin="round" stroke-opacity="1.0"/>
<polyline points="38.5,70.9 39.5,70.4 40.5,72.4 41.5,72.2 42.5,72.2 43.5,71.4 44.5,71.6 45.5,71.7 46.5,71.8 47.5,71.0 48.5,71.2 49.5,71.6 50.5,73.4 51.5,73.9 52.5,73.6 53.5,73.2 54.5,73.4 55.5,74.1 56.5,74.0 57.5,73.5 58.5,72.7 59.5,72.3 60.5,72.5 61.5,72.5 62.5,72.0 63.5,70.8 64.5,70.3 65.5,69.7 66.5,70.8 67.5,71.2 68.5,71.3 69.5,71.7 70.5,72.1 71.5,73.0 72.5,73.5 73.5,74.1 74.5,73.4 75.5,73.1 76.5,72.3 77.5,73.2 78.5,73.1 79.5,72.6 80.5,72.0 81.5,71.1 82.5,71.1 83.5,71.4 84.5,71.1 85.5,70.9 86.5,71.3 87.5,72.0 88.5,72.7 89.5,71.5 90.5,71.1 91.5,70.6 92.5,71.6 93.5,71.7 94.5,72.5 95.5,72.5 96.5,72.8 97.5,72.3 98.5,72.7 99.5,72.5 100.5,73.0 101.5,72.9 102.5,73.2 103.5,72.7 104.5,72.7 105.5,73.2 106.5,73.7 107.5,73.6 108.5,73.5 109.5,73.1 110.5,73.6 111.5,73.1 112.5,72.0 113.5,72.0 114.5,72.1 115.5,72.6 116.5,71.8 117.5,71.3 118.5,73.0 119.5,73.3 120.5,73.0 121.5,72.2 122.5,71.7 123.5,73.5 124.5,72.7 125.5,71.8 126.5,70.8 127.5,71.2 128.5,72.1 129.5,71.0 130.5,71.4 131.5,72.5 132.5,72.7 133.5,73.1 134.5,71.9 135.5,74.2 136.5,73.8 137.5,74.0 138.5,73.4 139.5,73.5 140.5,73.3 141.5,73.1 142.5,72.6 143.5,72.0 144.5,72.7 145.5,72.8 146.5,73.4 147.5,72.6 148.5,72.0 149.5,71.6 150.5,71.2 151.5,71.8 152.5,72.5 153.5,73.4 154.5,73.4 155.5,73.7 156.5,73.4 157.5,73.1 158.5,73.0 159.5,72.3 160.5,73.4 161.5,73.5 162.5,74.1 163.5,72.8 164.5,72.7 165.5,72.3 166.5,73.4 167.5,73.3 168.5,73.3 169.5,73.4 170.5,73.9 171.5,74.0 172.5,74.2 173.5,73.7 174.5,73.8 175.5,73.3 176.5,73.1 177.5,73.1 178.5,72.9 179.5,74.1 180.5,75.2 181.5,75.1 182.5,75.2 183.5,74.4 184.5,74.8 185.5,74.4 186.5,74.6 187.5,75.7 188.5,75.4 189.5,74.6 190.5,74.1 191.5,73.8 192.5,74.3 193.5,72.1 194.5,73.0 195.5,73.9 196.5,76.2 197.5,76.5 198.5,77.3 199.5,77.2 200.5,77.5 201.5,76.5 202.5,76.7 203.5,77.1 204.5,78.0 205.5,77.8 206.5,77.8 207.5,77.8 208.5,78.4 209.5,78.8 210.5,79.0 211.5,78.9 212.5,78.5 213.5,79.9 214.5,80.3 215.5,81.3 216.5,81.0 217.5,82.5 218.5,82.0 219.5,81.9 220.5,81.9 221.5,83.3" fill="none" stroke="#f7a26e" stroke-width="1.15" stroke-linejoin="round" stroke-opacity="1.0"/>
<polyline points="38.5,70.6 39.5,71.5 40.5,72.3 41.5,71.5 42.5,71.1 43.5,71.0 44.5,71.7 45.5,70.9 46.5,70.9 47.5,70.4 48.5,70.5 49.5,70.5 50.5,70.6 51.5,71.0 52.5,71.1 53.5,70.4 54.5,70.6 55.5,70.6 56.5,71.4 57.5,72.0 58.5,71.2 59.5,70.3 60.5,69.9 61.5,70.7 62.5,72.5 63.5,72.7 64.5,72.1 65.5,71.4 66.5,70.7 67.5,70.4 68.5,71.3 69.5,71.9 70.5,73.0 71.5,72.0 72.5,72.7 73.5,72.5 74.5,72.9 75.5,71.4 76.5,70.6 77.5,70.7 78.5,72.0 79.5,72.9 80.5,72.3 81.5,71.7 82.5,71.1 83.5,71.8 84.5,72.0 85.5,72.6 86.5,72.0 87.5,72.2 88.5,72.2 89.5,72.4 90.5,71.3 91.5,71.3 92.5,72.1 93.5,72.4 94.5,72.1 95.5,71.4 96.5,72.2 97.5,72.6 98.5,71.3 99.5,71.1 100.5,70.2 101.5,70.6 102.5,70.6 103.5,71.1 104.5,71.9 105.5,73.2 106.5,73.7 107.5,73.7 108.5,71.7 109.5,71.0 110.5,70.1 111.5,70.3 112.5,70.1 113.5,70.3 114.5,70.4 115.5,70.5 116.5,70.1 117.5,69.5 118.5,70.3 119.5,71.0 120.5,72.2 121.5,72.5 122.5,72.3 123.5,72.2 124.5,70.9 125.5,72.2 126.5,72.5 127.5,73.1 128.5,71.4 129.5,71.0 130.5,70.2 131.5,70.4 132.5,70.6 133.5,71.6 134.5,71.8 135.5,71.9 136.5,71.4 137.5,71.8 138.5,71.1 139.5,71.2 140.5,71.3 141.5,71.1 142.5,72.5 143.5,72.0 144.5,73.5 145.5,72.0 146.5,72.6 147.5,71.1 148.5,71.0 149.5,70.8 150.5,71.7 151.5,71.8 152.5,72.3 153.5,71.6 154.5,72.3 155.5,72.0 156.5,72.7 157.5,71.7 158.5,72.4 159.5,72.4 160.5,73.1 161.5,71.8 162.5,70.7 163.5,70.2 164.5,71.1 165.5,71.8 166.5,71.9 167.5,71.4 168.5,72.4 169.5,72.8 170.5,72.8 171.5,72.7 172.5,73.1 173.5,73.4 174.5,72.5 175.5,71.5 176.5,70.9 177.5,71.0 178.5,71.7 179.5,72.5 180.5,73.0 181.5,73.3 182.5,73.2 183.5,72.5 184.5,71.3 185.5,71.0 186.5,71.0 187.5,71.8 188.5,71.9 189.5,71.8 190.5,71.6 191.5,71.7 192.5,72.4 193.5,72.7 194.5,73.1 195.5,73.3 196.5,73.4 197.5,73.5 198.5,74.8 199.5,75.3 200.5,76.2 201.5,76.3 202.5,77.6 203.5,77.0 204.5,77.6 205.5,77.2 206.5,77.8 207.5,77.0 208.5,77.5 209.5,78.0 210.5,78.3 211.5,79.0 212.5,78.9 213.5,78.8 214.5,78.9 215.5,79.9 216.5,81.2 217.5,80.6 218.5,81.1 219.5,81.1 220.5,82.9 221.5,82.0" fill="none" stroke="#f5763f" stroke-width="1.15" stroke-linejoin="round" stroke-opacity="1.0"/>
<polyline points="38.5,67.0 39.5,66.7 40.5,67.2 41.5,67.7 42.5,67.7 43.5,67.6 44.5,68.2 45.5,68.9 46.5,68.3 47.5,67.8 48.5,67.9 49.5,67.9 50.5,67.7 51.5,67.6 52.5,68.5 53.5,68.3 54.5,67.0 55.5,65.7 56.5,65.8 57.5,66.8 58.5,67.7 59.5,68.0 60.5,67.8 61.5,67.6 62.5,67.3 63.5,67.6 64.5,67.3 65.5,68.7 66.5,69.1 67.5,69.0 68.5,67.6 69.5,67.0 70.5,66.7 71.5,66.8 72.5,66.7 73.5,67.8 74.5,67.9 75.5,67.9 76.5,67.0 77.5,66.7 78.5,67.0 79.5,67.5 80.5,68.4 81.5,68.2 82.5,68.7 83.5,68.4 84.5,68.6 85.5,67.4 86.5,66.8 87.5,67.1 88.5,68.5 89.5,69.1 90.5,69.1 91.5,68.4 92.5,68.2 93.5,67.6 94.5,68.2 95.5,68.5 96.5,68.6 97.5,68.1 98.5,68.2 99.5,68.5 100.5,68.3 101.5,68.7 102.5,68.7 103.5,69.1 104.5,69.0 105.5,69.3 106.5,69.3 107.5,68.9 108.5,68.1 109.5,67.8 110.5,66.7 111.5,67.7 112.5,67.2 113.5,68.4 114.5,67.5 115.5,67.9 116.5,67.6 117.5,68.0 118.5,68.7 119.5,69.5 120.5,69.5 121.5,69.7 122.5,68.7 123.5,68.8 124.5,68.6 125.5,68.6 126.5,68.3 127.5,68.2 128.5,68.5 129.5,68.7 130.5,68.5 131.5,68.2 132.5,68.4 133.5,67.9 134.5,68.0 135.5,68.4 136.5,68.0 137.5,68.0 138.5,67.7 139.5,68.1 140.5,69.5 141.5,68.2 142.5,69.5 143.5,69.1 144.5,70.5 145.5,69.9 146.5,69.4 147.5,68.7 148.5,69.2 149.5,68.6 150.5,68.9 151.5,69.0 152.5,69.0 153.5,69.0 154.5,68.7 155.5,68.7 156.5,69.3 157.5,69.4 158.5,69.4 159.5,68.9 160.5,68.5 161.5,68.9 162.5,69.0 163.5,69.0 164.5,69.7 165.5,69.4 166.5,70.1 167.5,69.8 168.5,70.4 169.5,69.8 170.5,69.7 171.5,68.9 172.5,69.4 173.5,70.0 174.5,71.4 175.5,71.7 176.5,71.4 177.5,70.5 178.5,70.2 179.5,70.1 180.5,70.8 181.5,71.1 182.5,70.8 183.5,69.9 184.5,70.1 185.5,70.6 186.5,70.9 187.5,70.8 188.5,70.6 189.5,70.6 190.5,69.9 191.5,69.3 192.5,69.8 193.5,69.5 194.5,70.2 195.5,69.8 196.5,70.9 197.5,71.3 198.5,71.8 199.5,71.1 200.5,71.3 201.5,71.0 202.5,72.0 203.5,72.4 204.5,73.2 205.5,74.2 206.5,74.5 207.5,75.0 208.5,74.4 209.5,74.4 210.5,74.8 211.5,75.4 212.5,75.2 213.5,75.5 214.5,75.5 215.5,76.6 216.5,76.6 217.5,76.1 218.5,75.5 219.5,76.3 220.5,77.1 221.5,77.3" fill="none" stroke="#a3282c" stroke-width="1.15" stroke-linejoin="round" stroke-opacity="1.0"/>
<polyline points="204.0,85.1 205.0,85.0 206.0,84.5 207.0,84.4 208.0,84.8 209.0,85.5 210.0,85.5 211.0,85.5 212.0,85.8 213.0,86.0 214.0,85.1 215.0,85.8 216.0,85.7 217.0,85.7 218.0,86.0 219.0,86.2 220.0,86.3 221.0,85.9 221.5,86.3" fill="none" stroke="#a56cf0" stroke-width="1.4" stroke-linejoin="round" stroke-opacity="1.0"/>
<polyline points="221.5,61.1 222.5,60.3 223.5,60.4 224.5,61.9 225.5,61.4 226.5,60.5 227.5,60.1 228.5,60.7 229.5,60.6 230.5,61.4 231.5,62.1 232.5,63.0 233.5,63.2 234.5,63.4 235.5,62.3 236.5,61.6 237.5,61.6 238.5,60.9 239.5,60.3 240.5,61.1 241.5,61.8 242.5,61.2 243.5,62.7 244.5,61.6 245.5,62.2 246.5,63.8 247.5,64.1 248.5,63.5 249.5,65.3 250.5,65.9 251.5,64.1 252.5,64.2 253.5,64.2 254.5,64.2 255.5,63.3 256.5,64.4 257.5,64.2 258.5,64.4 259.5,63.8 260.5,63.4 261.5,63.0 262.5,63.2 263.5,62.5 264.5,63.7 265.5,64.0 266.5,63.4 267.5,64.1 268.5,64.3 269.5,63.7 270.5,63.8 271.5,64.7 272.5,64.2 273.5,64.3 274.5,64.1 275.5,65.2 276.5,63.9 277.5,63.8 278.5,64.4 279.5,63.8 280.5,62.0 281.5,64.3 282.5,64.1 283.5,65.0 284.5,65.9 285.5,66.6 286.5,65.7 287.5,66.3 288.5,65.8 289.5,65.8 290.5,65.8 291.5,65.7 292.5,66.1 293.5,65.9 294.5,65.1 295.5,64.7 296.5,64.8 297.5,63.8 298.5,63.1 299.5,63.2 300.5,63.4 301.5,63.4 302.5,64.3 303.5,64.5 304.5,66.2 305.5,66.3 306.5,67.7 307.5,67.8 308.5,68.0 309.5,66.7 310.5,65.2 311.5,63.4 312.5,63.0 312.6,63.8" fill="none" stroke="#18186f" stroke-width="1.15" stroke-linejoin="round" stroke-opacity="1.0"/>
<polyline points="221.5,65.0 222.5,66.2 223.5,64.9 224.5,65.7 225.5,65.4 226.5,66.6 227.5,67.3 228.5,68.2 229.5,68.3 230.5,69.1 231.5,70.8 232.5,70.3 233.5,69.2 234.5,68.0 235.5,68.4 236.5,68.4 237.5,68.6 238.5,69.4 239.5,70.6 240.5,69.8 241.5,69.0 242.5,68.4 243.5,70.1 244.5,70.2 245.5,69.7 246.5,69.0 247.5,68.9 248.5,67.9 249.5,68.2 250.5,68.4 251.5,69.3 252.5,69.5 253.5,68.2 254.5,68.6 255.5,68.9 256.5,70.5 257.5,70.1 258.5,70.7 259.5,70.4 260.5,70.1 261.5,67.7 262.5,67.6 263.5,67.9 264.5,67.7 265.5,67.9 266.5,69.6 267.5,71.0 268.5,71.2 269.5,71.1 270.5,71.1 271.5,70.9 272.5,71.0 273.5,70.9 274.5,71.3 275.5,71.4 276.5,70.2 277.5,69.0 278.5,69.6 279.5,69.7 280.5,71.0 281.5,72.1 282.5,73.5 283.5,73.9 284.5,74.4 285.5,73.1 286.5,73.0 287.5,72.6 288.5,71.2 289.5,71.0 290.5,72.1 291.5,72.1 292.5,73.3 293.5,73.6 294.5,73.0 295.5,72.0 296.5,71.7 297.5,70.5 298.5,70.6 299.5,71.7 300.5,72.1 301.5,72.8 302.5,72.2 303.5,71.1 304.5,69.8 305.5,68.7 306.5,68.8 307.5,68.8 308.5,70.7 309.5,71.1 310.5,72.1 311.5,71.4 312.5,71.5 312.6,70.8" fill="none" stroke="#1f7ff0" stroke-width="1.15" stroke-linejoin="round" stroke-opacity="1.0"/>
<polyline points="221.5,65.6 222.5,65.1 223.5,65.2 224.5,64.3 225.5,63.6 226.5,63.7 227.5,64.1 228.5,65.4 229.5,67.5 230.5,66.5 231.5,67.1 232.5,67.3 233.5,66.7 234.5,65.7 235.5,66.2 236.5,66.5 237.5,66.6 238.5,66.6 239.5,67.1 240.5,67.6 241.5,67.1 242.5,67.0 243.5,67.8 244.5,67.5 245.5,67.1 246.5,66.5 247.5,66.2 248.5,64.9 249.5,64.7 250.5,65.0 251.5,64.4 252.5,64.7 253.5,65.6 254.5,65.7 255.5,65.1 256.5,66.9 257.5,66.6 258.5,65.7 259.5,65.1 260.5,65.7 261.5,65.6 262.5,66.6 263.5,67.4 264.5,67.4 265.5,67.2 266.5,66.3 267.5,65.7 268.5,64.7 269.5,65.4 270.5,66.2 271.5,66.6 272.5,67.0 273.5,67.5 274.5,66.8 275.5,66.2 276.5,66.9 277.5,67.3 278.5,67.6 279.5,69.0 280.5,69.2 281.5,69.5 282.5,69.2 283.5,69.3 284.5,69.2 285.5,69.0 286.5,67.8 287.5,66.9 288.5,67.3 289.5,67.0 290.5,67.4 291.5,67.7 292.5,69.3 293.5,69.0 294.5,68.7 295.5,69.4 296.5,70.4 297.5,69.9 298.5,69.3 299.5,69.5 300.5,69.2 301.5,68.6 302.5,69.3 303.5,69.5 304.5,70.2 305.5,69.7 306.5,70.4 307.5,69.6 308.5,70.9 309.5,70.3 310.5,70.0 311.5,68.8 312.5,68.6 312.6,67.6" fill="none" stroke="#84c8ec" stroke-width="1.15" stroke-linejoin="round" stroke-opacity="1.0"/>
<polyline points="221.5,79.6 222.5,78.5 223.5,78.7 224.5,78.9 225.5,80.1 226.5,80.1 227.5,79.3 228.5,78.0 229.5,77.2 230.5,77.2 231.5,77.7 232.5,78.7 233.5,79.1 234.5,81.1 235.5,80.4 236.5,79.8 237.5,80.4 238.5,80.3 239.5,79.1 240.5,80.3 241.5,82.3 242.5,81.4 243.5,82.0 244.5,82.5 245.5,82.2 246.5,81.1 247.5,82.2 248.5,83.1 249.5,82.9 250.5,83.0 251.5,83.2 252.5,83.6 253.5,82.8 254.5,83.9 255.5,84.1 256.5,84.3 257.5,84.3 258.5,83.8 259.5,82.6 260.5,82.0 261.5,82.1 262.5,81.7 263.5,81.8 264.5,82.6 265.5,83.7 266.5,82.5 267.5,84.2 268.5,85.0 269.5,84.9 270.5,85.3 271.5,86.7 272.5,85.2 273.5,86.7 274.5,86.2 275.5,85.5 276.5,86.1 277.5,85.8 278.5,84.4 279.5,85.4 280.5,87.2 281.5,86.0 282.5,86.7 283.5,87.3 284.5,87.1 285.5,84.6 286.5,85.5 287.5,85.7 288.5,85.5 289.5,86.3 290.5,87.8 291.5,87.8 292.5,87.9 293.5,86.9 294.5,86.1 295.5,85.5 296.5,85.0 297.5,84.9 298.5,85.1 299.5,86.2 300.5,87.6 301.5,87.6 302.5,87.8 303.5,88.2 304.5,88.0 305.5,86.9 306.5,87.2 307.5,86.8 308.5,87.1 309.5,85.6 310.5,85.7 311.5,85.2 312.5,85.7 312.6,85.7" fill="none" stroke="#a3282c" stroke-width="1.15" stroke-linejoin="round" stroke-opacity="1.0"/>
<polyline points="221.5,81.1 222.5,80.5 223.5,80.8 224.5,80.5 225.5,81.8 226.5,80.4 227.5,81.0 228.5,80.1 229.5,81.0 230.5,79.5 231.5,80.3 232.5,79.3 233.5,81.4 234.5,80.1 235.5,81.6 236.5,82.1 237.5,82.2 238.5,81.2 239.5,82.6 240.5,82.7 241.5,83.8 242.5,84.9 243.5,85.3 244.5,84.9 245.5,85.4 246.5,86.2 247.5,86.8 248.5,87.2 249.5,87.2 250.5,86.7 251.5,86.6 252.5,85.9 253.5,85.4 254.5,85.9 255.5,86.2 256.5,86.7 257.5,86.1 258.5,87.1 259.5,87.7 260.5,87.5 261.5,86.0 262.5,87.9 263.5,88.9 264.5,88.0 265.5,87.9 266.5,89.1 267.5,89.9 268.5,88.9 269.5,88.2 270.5,90.3 271.5,89.7 272.5,89.6 273.5,90.0 274.5,91.3 275.5,90.3 276.5,91.5 277.5,91.8 278.5,90.7 279.5,90.5 280.5,92.0 281.5,90.8 282.5,89.1 283.5,90.4 284.5,90.8 285.5,89.6 286.5,89.5 287.5,90.2 288.5,89.8 289.5,90.1 290.5,89.6 291.5,89.7 292.5,89.8 293.5,90.8 294.5,90.8 295.5,91.2 296.5,91.7 297.5,92.0 298.5,91.8 299.5,91.9 300.5,93.0 301.5,93.5 302.5,93.2 303.5,92.2 304.5,92.4 305.5,91.6 306.5,90.7 307.5,89.8 308.5,88.9 309.5,88.5 310.5,88.7 311.5,89.2 312.5,89.3 312.6,91.0" fill="none" stroke="#f5763f" stroke-width="1.15" stroke-linejoin="round" stroke-opacity="1.0"/>
<polyline points="221.5,80.3 222.5,79.5 223.5,78.9 224.5,77.6 225.5,78.6 226.5,79.2 227.5,81.2 228.5,82.2 229.5,83.1 230.5,83.2 231.5,83.1 232.5,83.1 233.5,83.3 234.5,83.2 235.5,83.2 236.5,83.6 237.5,83.2 238.5,83.8 239.5,85.6 240.5,85.6 241.5,85.5 242.5,84.5 243.5,84.0 244.5,82.8 245.5,81.9 246.5,82.4 247.5,84.4 248.5,84.2 249.5,84.4 250.5,85.3 251.5,85.7 252.5,84.6 253.5,85.0 254.5,86.5 255.5,87.3 256.5,87.3 257.5,88.3 258.5,87.9 259.5,86.7 260.5,87.1 261.5,86.3 262.5,86.7 263.5,88.4 264.5,89.2 265.5,88.1 266.5,88.3 267.5,87.2 268.5,87.2 269.5,87.0 270.5,88.6 271.5,88.8 272.5,89.2 273.5,88.7 274.5,88.5 275.5,87.7 276.5,88.5 277.5,89.7 278.5,90.0 279.5,89.4 280.5,88.6 281.5,88.4 282.5,88.0 283.5,87.7 284.5,88.0 285.5,88.9 286.5,89.5 287.5,89.3 288.5,89.5 289.5,89.2 290.5,89.2 291.5,88.8 292.5,88.2 293.5,87.3 294.5,87.6 295.5,88.8 296.5,88.7 297.5,90.3 298.5,90.9 299.5,90.9 300.5,89.3 301.5,88.7 302.5,88.7 303.5,89.0 304.5,89.6 305.5,90.9 306.5,91.2 307.5,90.1 308.5,90.0 309.5,89.9 310.5,89.7 311.5,90.0 312.5,90.2 312.6,89.6" fill="none" stroke="#f7a26e" stroke-width="1.15" stroke-linejoin="round" stroke-opacity="1.0"/>
<polyline points="221.5,61.1 222.5,62.6 223.5,63.0 224.5,61.9 225.5,63.1 226.5,63.9 227.5,62.6 228.5,63.2 229.5,63.9 230.5,63.7 231.5,64.8 232.5,65.0 233.5,64.4 234.5,64.1 235.5,64.6 236.5,63.2 237.5,63.6 238.5,64.0 239.5,63.5 240.5,63.7 241.5,63.3 242.5,62.8 243.5,62.0 244.5,62.5 245.5,61.9 246.5,62.1 247.5,61.5 248.5,62.4 249.5,62.8 250.5,62.6 251.5,62.4 252.5,62.7 253.5,63.2 254.5,61.9 255.5,62.3 256.5,61.8 257.5,62.1 258.5,62.1 259.5,63.2 260.5,63.5 261.5,64.0 262.5,65.3 263.5,65.4 264.5,66.4 265.5,65.6 266.5,65.6 267.5,65.1 268.5,64.6 269.5,63.9 270.5,64.8 271.5,64.8 272.5,64.7 273.5,64.9 274.5,65.3 275.5,64.8 276.5,65.8 277.5,65.1 278.5,65.6 279.5,66.0 280.5,66.9 281.5,67.0 282.5,67.7 283.5,65.8 284.5,65.7 285.5,65.1 286.5,65.0 287.5,64.5 288.5,65.3 289.5,64.6 290.5,65.1 291.5,65.9 292.5,65.8 293.5,66.1 294.5,67.2 295.5,66.4 296.5,66.8 297.5,67.2 298.5,67.3 299.5,67.1 300.5,68.5 301.5,66.7 302.5,67.5 303.5,67.9 304.5,68.2 305.5,67.2 306.5,67.1 307.5,66.6 308.5,67.3 309.5,67.7 310.5,68.9 311.5,70.1 312.5,69.8 312.6,69.0" fill="none" stroke="#353535" stroke-width="1.15" stroke-linejoin="round" stroke-opacity="1.0"/>
<polyline points="221.5,62.1 222.5,62.3 223.5,64.0 224.5,64.6 225.5,65.7 226.5,65.9 227.5,65.4 228.5,63.8 229.5,62.5 230.5,63.5 231.5,63.6 232.5,63.7 233.5,64.0 234.5,65.5 235.5,65.0 236.5,65.0 237.5,65.2 238.5,64.9 239.5,64.5 240.5,64.8 241.5,64.2 242.5,64.1 243.5,65.1 244.5,64.6 245.5,64.7 246.5,65.3 247.5,66.4 248.5,66.7 249.5,67.6 250.5,67.5 251.5,66.9 252.5,66.2 253.5,65.7 254.5,66.1 255.5,66.5 256.5,68.2 257.5,68.8 258.5,68.6 259.5,68.3 260.5,67.7 261.5,66.5 262.5,65.9 263.5,66.3 264.5,65.3 265.5,65.6 266.5,64.9 267.5,66.1 268.5,65.1 269.5,66.1 270.5,65.1 271.5,65.6 272.5,65.7 273.5,65.9 274.5,65.5 275.5,66.1 276.5,65.2 277.5,64.8 278.5,65.5 279.5,64.9 280.5,65.5 281.5,66.3 282.5,65.7 283.5,65.5 284.5,65.8 285.5,66.7 286.5,66.4 287.5,67.3 288.5,67.9 289.5,67.2 290.5,65.2 291.5,66.3 292.5,65.8 293.5,65.5 294.5,67.1 295.5,67.9 296.5,67.1 297.5,66.0 298.5,65.9 299.5,64.9 300.5,65.3 301.5,66.0 302.5,66.8 303.5,67.6 304.5,68.7 305.5,69.0 306.5,68.3 307.5,68.8 308.5,67.7 309.5,67.0 310.5,66.0 311.5,66.9 312.5,67.3 312.6,67.7" fill="none" stroke="#9a9a9a" stroke-width="1.15" stroke-linejoin="round" stroke-opacity="1.0"/>
<polyline points="221.5,61.7 222.5,62.0 223.5,61.8 224.5,61.6 225.5,63.0 226.5,63.1 227.5,63.5 228.5,62.8 229.5,62.6 230.5,62.4 231.5,63.1 232.5,62.5 233.5,61.9 234.5,62.6 235.5,62.7 236.5,62.6 237.5,63.2 238.5,64.8 239.5,65.1 240.5,65.2 241.5,64.9 242.5,64.1 243.5,64.4 244.5,64.1 245.5,65.2 246.5,65.2 247.5,64.8 248.5,64.8 249.5,64.6 250.5,64.0 251.5,64.2 252.5,65.8 253.5,65.2 254.5,64.4 255.5,64.9 256.5,64.7 257.5,64.1 258.5,64.8 259.5,66.2 260.5,65.5 261.5,64.8 262.5,65.2 263.5,64.6 264.5,62.1 265.5,58.6 266.5,62.2 267.5,63.5 268.5,63.4 269.5,64.0 270.5,65.3 271.5,65.4 272.5,66.3 273.5,66.5 274.5,65.9 275.5,65.3 276.5,66.9 277.5,67.0 278.5,67.2 279.5,67.3 280.5,67.5 281.5,65.4 282.5,65.4 283.5,65.6 284.5,67.1 285.5,67.8 286.5,69.2 287.5,69.3 288.5,68.3 289.5,67.2 290.5,66.9 291.5,66.2 292.5,66.7 293.5,66.6 294.5,65.7 295.5,64.9 296.5,64.5 297.5,63.3 298.5,64.5 299.5,65.4 300.5,66.2 301.5,67.8 302.5,69.3 303.5,68.5 304.5,69.4 305.5,69.5 306.5,69.0 307.5,68.6 308.5,68.1 309.5,67.0 310.5,66.8 311.5,67.2 312.5,66.8 312.6,67.6" fill="none" stroke="#d0d0d0" stroke-width="1.15" stroke-linejoin="round" stroke-opacity="1.0"/>
<polyline points="312.6,64.0 313.6,63.4 314.6,62.9 315.6,62.4 316.6,61.4 317.6,63.0 318.6,63.3 319.6,62.7 320.6,63.4 321.6,65.3 322.6,64.4 323.6,65.6 324.6,66.2 325.6,65.8 326.6,64.3 327.6,64.3 328.6,65.0 329.6,64.7 330.6,66.4 331.6,66.4 332.6,66.6 333.6,66.1 334.6,67.6 335.6,66.9 336.6,66.7 337.6,67.3 338.6,66.2 339.6,67.8 340.6,67.7 341.6,69.2 342.6,68.4 343.6,69.0 344.6,66.6 345.6,67.6 346.6,67.5 347.6,68.9 348.6,69.0 349.6,69.8 350.6,70.2 351.6,69.9 352.6,68.6 353.6,69.5 354.6,69.3 355.6,68.4 356.6,69.9 357.6,70.8 358.6,71.3 359.6,71.9 360.6,73.4 361.6,73.9 362.6,74.4 363.6,73.9 364.6,74.0 365.6,73.3 366.6,73.4 367.6,73.0 368.6,74.0 369.6,73.9 370.6,73.4 371.6,71.6 372.6,74.3 373.6,73.9 374.6,75.2 375.6,75.6 376.6,77.7 377.6,75.1 378.6,75.3 379.6,76.9 380.6,77.3 381.6,76.8 382.6,78.9 383.6,78.6 384.6,77.3 385.6,78.5 386.6,78.8 387.6,78.8 388.6,79.4 389.6,79.8 390.6,79.4 391.6,80.5 392.6,81.0 393.6,81.3 394.6,79.6 395.6,80.3 396.6,80.0 397.6,79.1 398.6,78.2 399.6,79.3 400.6,79.7 401.6,78.6 402.6,79.2 403.6,80.9 403.8,82.6" fill="none" stroke="#18186f" stroke-width="1.15" stroke-linejoin="round" stroke-opacity="1.0"/>
<polyline points="312.6,67.3 313.6,67.5 314.6,67.0 315.6,67.1 316.6,66.6 317.6,65.7 318.6,66.6 319.6,68.1 320.6,69.0 321.6,69.3 322.6,70.4 323.6,69.5 324.6,69.3 325.6,70.9 326.6,70.0 327.6,69.6 328.6,71.1 329.6,71.5 330.6,69.7 331.6,69.9 332.6,70.8 333.6,71.0 334.6,72.3 335.6,73.2 336.6,75.0 337.6,74.2 338.6,73.9 339.6,72.8 340.6,73.2 341.6,73.2 342.6,74.9 343.6,74.4 344.6,75.9 345.6,75.8 346.6,74.8 347.6,74.3 348.6,74.2 349.6,73.7 350.6,74.4 351.6,75.3 352.6,76.0 353.6,77.0 354.6,77.3 355.6,76.4 356.6,76.8 357.6,76.2 358.6,76.3 359.6,76.5 360.6,77.9 361.6,77.0 362.6,76.8 363.6,77.2 364.6,77.8 365.6,78.2 366.6,80.1 367.6,82.3 368.6,83.1 369.6,83.0 370.6,82.3 371.6,81.4 372.6,80.5 373.6,80.6 374.6,81.0 375.6,82.0 376.6,82.8 377.6,83.7 378.6,84.0 379.6,84.3 380.6,84.7 381.6,84.7 382.6,83.9 383.6,84.4 384.6,84.7 385.6,84.6 386.6,85.0 387.6,87.4 388.6,86.9 389.6,86.7 390.6,87.3 391.6,87.1 392.6,85.9 393.6,87.8 394.6,88.9 395.6,89.4 396.6,90.8 397.6,91.0 398.6,90.8 399.6,90.3 400.6,89.9 401.6,89.8 402.6,90.6 403.6,90.4 403.8,91.0" fill="none" stroke="#1f7ff0" stroke-width="1.15" stroke-linejoin="round" stroke-opacity="1.0"/>
<polyline points="312.6,66.3 313.6,67.1 314.6,66.9 315.6,65.4 316.6,65.3 317.6,65.4 318.6,66.5 319.6,67.3 320.6,67.0 321.6,67.0 322.6,67.1 323.6,66.1 324.6,65.3 325.6,66.5 326.6,67.1 327.6,66.9 328.6,68.4 329.6,69.9 330.6,70.6 331.6,70.6 332.6,71.6 333.6,70.6 334.6,70.1 335.6,70.2 336.6,70.5 337.6,72.1 338.6,73.3 339.6,73.4 340.6,74.2 341.6,73.4 342.6,71.7 343.6,71.3 344.6,71.0 345.6,70.8 346.6,71.5 347.6,73.2 348.6,74.4 349.6,75.4 350.6,75.1 351.6,75.8 352.6,75.5 353.6,74.4 354.6,74.4 355.6,75.2 356.6,75.2 357.6,75.8 358.6,77.2 359.6,76.8 360.6,76.7 361.6,76.4 362.6,76.1 363.6,75.2 364.6,76.4 365.6,76.7 366.6,77.9 367.6,77.7 368.6,77.6 369.6,78.3 370.6,78.2 371.6,78.6 372.6,79.2 373.6,80.5 374.6,80.7 375.6,81.2 376.6,81.4 377.6,80.7 378.6,81.0 379.6,80.1 380.6,80.1 381.6,79.6 382.6,80.8 383.6,81.4 384.6,80.8 385.6,81.1 386.6,81.0 387.6,81.6 388.6,80.7 389.6,82.2 390.6,82.1 391.6,83.1 392.6,83.2 393.6,83.5 394.6,83.5 395.6,83.2 396.6,83.2 397.6,83.3 398.6,83.5 399.6,84.2 400.6,84.1 401.6,83.2 402.6,82.3 403.6,82.5 403.8,82.0" fill="none" stroke="#84c8ec" stroke-width="1.15" stroke-linejoin="round" stroke-opacity="1.0"/>
<polyline points="312.6,77.1 313.6,76.8 314.6,78.1 315.6,77.0 316.6,77.4 317.6,79.0 318.6,80.1 319.6,79.0 320.6,80.5 321.6,81.3 322.6,81.4 323.6,81.1 324.6,82.1 325.6,82.6 326.6,83.0 327.6,83.4 328.6,83.9 329.6,83.2 330.6,83.5 331.6,84.2 332.6,84.1 333.6,84.7 334.6,86.8 335.6,86.5 336.6,86.3 337.6,86.1 338.6,86.3 339.6,85.5 340.6,87.0 341.6,86.4 342.6,86.7 343.6,86.3 344.6,86.7 345.6,86.1 346.6,87.1 347.6,87.1 348.6,88.0 349.6,88.6 350.6,89.0 351.6,89.4 352.6,90.4 353.6,90.8 354.6,89.8 355.6,90.7 356.6,90.8 357.6,91.3 358.6,90.8 359.6,91.0 360.6,89.9 361.6,89.7 362.6,90.0 363.6,91.5 364.6,92.6 365.6,94.0 366.6,95.1 367.6,94.6 368.6,94.7 369.6,95.0 370.6,94.1 371.6,93.7 372.6,94.7 373.6,94.5 374.6,94.5 375.6,95.4 376.6,95.6 377.6,95.6 378.6,95.9 379.6,95.6 380.6,94.6 381.6,94.8 382.6,93.5 383.6,92.9 384.6,93.9 385.6,95.9 386.6,95.5 387.6,97.0 388.6,98.2 389.6,97.7 390.6,97.9 391.6,98.2 392.6,97.4 393.6,96.6 394.6,96.7 395.6,96.9 396.6,97.2 397.6,97.4 398.6,97.8 399.6,98.6 400.6,98.2 401.6,99.5 402.6,99.8 403.6,99.9 403.8,99.6" fill="none" stroke="#a3282c" stroke-width="1.15" stroke-linejoin="round" stroke-opacity="1.0"/>
<polyline points="312.6,80.4 313.6,80.7 314.6,82.3 315.6,82.1 316.6,80.7 317.6,80.7 318.6,81.2 319.6,81.0 320.6,81.6 321.6,82.4 322.6,84.1 323.6,84.7 324.6,83.8 325.6,84.2 326.6,84.5 327.6,84.5 328.6,84.1 329.6,84.9 330.6,84.9 331.6,84.0 332.6,83.9 333.6,83.9 334.6,84.9 335.6,84.8 336.6,85.9 337.6,85.6 338.6,85.6 339.6,86.1 340.6,86.9 341.6,88.0 342.6,88.4 343.6,89.7 344.6,88.8 345.6,89.3 346.6,89.3 347.6,90.9 348.6,91.5 349.6,93.0 350.6,94.3 351.6,95.3 352.6,95.8 353.6,96.7 354.6,97.4 355.6,97.2 356.6,97.9 357.6,97.8 358.6,98.2 359.6,99.4 360.6,100.7 361.6,100.8 362.6,100.8 363.6,101.1 364.6,100.9 365.6,101.6 366.6,102.2 367.6,103.1 368.6,103.7 369.6,103.5 370.6,102.9 371.6,104.2 372.6,105.3 373.6,105.3 374.6,105.9 375.6,105.5 376.6,104.8 377.6,104.1 378.6,103.9 379.6,103.5 380.6,104.2 381.6,103.8 382.6,104.0 383.6,104.8 384.6,105.5 385.6,104.5 386.6,104.1 387.6,103.1 388.6,101.8 389.6,102.0 390.6,103.3 391.6,103.6 392.6,104.8 393.6,104.9 394.6,103.8 395.6,102.8 396.6,102.7 397.6,103.5 398.6,103.2 399.6,104.9 400.6,106.7 401.6,107.2 402.6,106.4 403.6,106.9 403.8,106.1" fill="none" stroke="#f5763f" stroke-width="1.15" stroke-linejoin="round" stroke-opacity="1.0"/>
<polyline points="312.6,85.6 313.6,85.6 314.6,85.8 315.6,85.7 316.6,84.7 317.6,84.9 318.6,85.1 319.6,84.8 320.6,86.0 321.6,86.3 322.6,85.9 323.6,86.1 324.6,85.8 325.6,84.4 326.6,84.3 327.6,84.5 328.6,84.5 329.6,85.9 330.6,87.1 331.6,88.6 332.6,90.0 333.6,90.6 334.6,90.4 335.6,90.6 336.6,90.2 337.6,89.4 338.6,90.1 339.6,91.0 340.6,91.0 341.6,92.2 342.6,93.6 343.6,92.5 344.6,92.6 345.6,92.4 346.6,92.6 347.6,92.4 348.6,94.4 349.6,95.3 350.6,96.0 351.6,96.5 352.6,96.8 353.6,96.6 354.6,97.2 355.6,98.3 356.6,97.8 357.6,98.9 358.6,99.7 359.6,100.1 360.6,101.1 361.6,102.0 362.6,103.1 363.6,103.0 364.6,103.5 365.6,103.6 366.6,105.3 367.6,104.9 368.6,105.5 369.6,104.8 370.6,103.9 371.6,103.9 372.6,104.3 373.6,103.4 374.6,103.6 375.6,104.5 376.6,105.1 377.6,105.8 378.6,107.2 379.6,106.8 380.6,106.8 381.6,106.3 382.6,106.0 383.6,105.9 384.6,106.8 385.6,107.9 386.6,108.5 387.6,108.3 388.6,107.6 389.6,109.0 390.6,107.8 391.6,107.7 392.6,108.9 393.6,109.0 394.6,108.1 395.6,108.3 396.6,108.0 397.6,107.2 398.6,108.9 399.6,109.1 400.6,109.4 401.6,109.8 402.6,109.6 403.6,108.4 403.8,109.3" fill="none" stroke="#f7a26e" stroke-width="1.15" stroke-linejoin="round" stroke-opacity="1.0"/>
<polyline points="312.6,60.4 313.6,61.7 314.6,61.7 315.6,61.7 316.6,62.3 317.6,63.1 318.6,62.2 319.6,62.9 320.6,64.7 321.6,65.5 322.6,66.7 323.6,66.7 324.6,66.8 325.6,65.1 326.6,65.3 327.6,65.0 328.6,66.1 329.6,66.3 330.6,66.8 331.6,65.8 332.6,66.5 333.6,65.9 334.6,65.6 335.6,66.0 336.6,66.6 337.6,66.7 338.6,68.2 339.6,69.2 340.6,69.7 341.6,70.3 342.6,70.8 343.6,69.5 344.6,69.8 345.6,69.4 346.6,69.0 347.6,68.7 348.6,69.8 349.6,70.1 350.6,71.4 351.6,71.1 352.6,71.2 353.6,72.7 354.6,73.1 355.6,73.5 356.6,75.1 357.6,74.5 358.6,73.1 359.6,73.2 360.6,73.2 361.6,73.0 362.6,73.8 363.6,74.8 364.6,73.7 365.6,73.2 366.6,74.7 367.6,76.3 368.6,76.3 369.6,78.5 370.6,78.6 371.6,77.5 372.6,75.3 373.6,76.1 374.6,75.2 375.6,76.9 376.6,77.8 377.6,79.3 378.6,78.0 379.6,79.3 380.6,78.0 381.6,78.0 382.6,76.9 383.6,78.6 384.6,78.6 385.6,78.7 386.6,79.0 387.6,80.7 388.6,80.9 389.6,80.7 390.6,82.1 391.6,82.2 392.6,81.9 393.6,81.3 394.6,80.1 395.6,79.0 396.6,79.9 397.6,80.6 398.6,80.6 399.6,82.4 400.6,82.0 401.6,81.5 402.6,81.9 403.6,82.9 403.8,82.3" fill="none" stroke="#353535" stroke-width="1.15" stroke-linejoin="round" stroke-opacity="1.0"/>
<polyline points="312.6,66.7 313.6,65.3 314.6,64.8 315.6,65.3 316.6,65.2 317.6,65.9 318.6,67.1 319.6,67.4 320.6,68.6 321.6,68.5 322.6,68.1 323.6,69.2 324.6,69.3 325.6,69.0 326.6,69.4 327.6,71.9 328.6,71.4 329.6,71.5 330.6,70.3 331.6,70.1 332.6,68.6 333.6,68.7 334.6,68.8 335.6,69.7 336.6,71.2 337.6,71.2 338.6,71.2 339.6,71.3 340.6,71.2 341.6,70.8 342.6,72.0 343.6,72.3 344.6,73.4 345.6,74.4 346.6,74.4 347.6,73.7 348.6,73.1 349.6,71.9 350.6,71.9 351.6,71.7 352.6,72.9 353.6,72.7 354.6,72.6 355.6,72.0 356.6,73.2 357.6,72.6 358.6,73.9 359.6,74.1 360.6,75.9 361.6,75.1 362.6,75.8 363.6,75.1 364.6,76.6 365.6,76.5 366.6,77.3 367.6,78.1 368.6,79.3 369.6,78.8 370.6,79.2 371.6,79.3 372.6,78.7 373.6,79.0 374.6,79.0 375.6,79.2 376.6,79.7 377.6,80.1 378.6,81.3 379.6,81.0 380.6,80.6 381.6,81.3 382.6,81.2 383.6,79.5 384.6,81.3 385.6,82.0 386.6,80.6 387.6,81.4 388.6,82.0 389.6,80.6 390.6,80.4 391.6,81.1 392.6,80.2 393.6,80.8 394.6,81.2 395.6,81.5 396.6,82.0 397.6,83.2 398.6,83.4 399.6,83.4 400.6,82.8 401.6,82.9 402.6,83.6 403.6,84.5 403.8,85.0" fill="none" stroke="#9a9a9a" stroke-width="1.15" stroke-linejoin="round" stroke-opacity="1.0"/>
<polyline points="312.6,64.5 313.6,64.5 314.6,65.2 315.6,65.1 316.6,64.9 317.6,64.8 318.6,65.2 319.6,67.6 320.6,68.0 321.6,68.8 322.6,68.5 323.6,68.7 324.6,66.1 325.6,65.6 326.6,65.9 327.6,66.1 328.6,66.5 329.6,68.1 330.6,68.4 331.6,68.2 332.6,68.4 333.6,67.1 334.6,67.0 335.6,67.8 336.6,68.5 337.6,69.5 338.6,70.1 339.6,70.3 340.6,69.5 341.6,69.6 342.6,70.4 343.6,71.5 344.6,71.3 345.6,72.1 346.6,73.0 347.6,73.4 348.6,72.2 349.6,72.4 350.6,72.9 351.6,73.1 352.6,72.0 353.6,73.3 354.6,73.6 355.6,74.8 356.6,74.7 357.6,75.2 358.6,75.0 359.6,75.9 360.6,75.2 361.6,74.7 362.6,75.1 363.6,74.8 364.6,74.2 365.6,73.4 366.6,73.5 367.6,73.3 368.6,73.7 369.6,74.5 370.6,75.8 371.6,76.5 372.6,76.5 373.6,77.6 374.6,76.6 375.6,75.5 376.6,76.2 377.6,77.3 378.6,77.6 379.6,78.7 380.6,79.2 381.6,78.8 382.6,79.0 383.6,78.4 384.6,78.4 385.6,78.5 386.6,78.4 387.6,78.8 388.6,79.6 389.6,79.6 390.6,80.0 391.6,80.5 392.6,80.5 393.6,80.0 394.6,80.7 395.6,80.4 396.6,80.3 397.6,80.4 398.6,81.6 399.6,81.4 400.6,82.3 401.6,83.5 402.6,83.3 403.6,82.8 403.8,83.7" fill="none" stroke="#d0d0d0" stroke-width="1.15" stroke-linejoin="round" stroke-opacity="1.0"/>
<polyline points="403.8,61.1 404.8,60.9 405.8,60.5 406.8,60.3 407.8,60.2 408.8,60.0 409.8,60.9 410.8,61.1 411.8,62.6 412.8,62.5 413.8,63.7 414.8,63.7 415.8,64.1 416.8,65.3 417.8,65.0 418.8,64.9 419.8,64.4 420.8,66.0 421.8,67.1 422.8,67.0 423.8,66.0 424.8,65.3 425.8,66.2 426.8,66.9 427.8,69.0 428.8,68.3 429.8,69.1 430.8,68.3 431.8,69.4 432.8,69.0 433.8,68.8 434.8,69.6 435.8,70.6 436.8,70.4 437.8,71.5 438.8,71.0 439.8,73.2 440.8,73.0 441.8,74.3 442.8,74.1 443.8,74.8 444.8,74.5 445.8,74.0 446.8,74.1 447.8,74.8 448.8,76.9 449.8,75.9 450.8,75.9 451.8,75.9 452.8,76.9 453.8,77.5 454.8,78.7 455.8,80.9 456.8,81.1 457.8,81.3 458.8,81.7 459.8,83.3 460.8,83.3 461.8,83.3 462.8,82.9 463.8,83.0 464.8,83.8 465.8,85.0 466.8,87.1 467.8,87.1 468.8,86.1 469.8,85.5 470.8,86.4 471.8,88.7 472.8,89.6 473.8,89.5 474.8,90.8 475.8,91.0 476.8,92.5 477.8,92.1 478.8,92.4 479.8,93.4 480.8,92.7 481.8,93.5 482.8,93.5 483.8,95.4 484.8,97.0 485.8,97.3 486.8,97.8 487.8,99.3 488.8,99.8 489.8,100.6 490.8,99.3 491.8,99.6 492.8,100.7 493.8,102.3 494.5,103.2" fill="none" stroke="#18186f" stroke-width="1.15" stroke-linejoin="round" stroke-opacity="1.0"/>
<polyline points="403.8,65.5 404.8,66.4 405.8,66.7 406.8,67.8 407.8,68.7 408.8,69.3 409.8,70.0 410.8,71.2 411.8,72.3 412.8,73.6 413.8,73.1 414.8,73.5 415.8,73.7 416.8,74.6 417.8,75.6 418.8,75.5 419.8,75.4 420.8,74.5 421.8,73.3 422.8,72.8 423.8,73.2 424.8,75.6 425.8,76.4 426.8,77.5 427.8,78.3 428.8,78.9 429.8,79.5 430.8,80.2 431.8,81.2 432.8,80.5 433.8,80.9 434.8,81.1 435.8,81.8 436.8,81.7 437.8,82.0 438.8,83.2 439.8,84.0 440.8,85.4 441.8,85.7 442.8,85.4 443.8,85.2 444.8,85.9 445.8,86.6 446.8,88.6 447.8,88.5 448.8,88.9 449.8,88.6 450.8,89.6 451.8,90.4 452.8,90.3 453.8,90.7 454.8,91.7 455.8,92.7 456.8,92.9 457.8,93.2 458.8,93.8 459.8,94.9 460.8,93.7 461.8,93.4 462.8,93.2 463.8,95.1 464.8,96.2 465.8,97.5 466.8,98.4 467.8,98.7 468.8,98.8 469.8,99.8 470.8,100.1 471.8,100.7 472.8,101.1 473.8,102.1 474.8,101.4 475.8,101.3 476.8,101.4 477.8,102.8 478.8,103.7 479.8,104.6 480.8,105.0 481.8,105.4 482.8,105.8 483.8,106.5 484.8,106.7 485.8,107.1 486.8,107.4 487.8,107.5 488.8,107.9 489.8,108.0 490.8,108.1 491.8,109.2 492.8,110.1 493.8,111.2 494.5,110.8" fill="none" stroke="#1f7ff0" stroke-width="1.15" stroke-linejoin="round" stroke-opacity="1.0"/>
<polyline points="403.8,64.1 404.8,63.9 405.8,64.9 406.8,64.8 407.8,66.3 408.8,64.9 409.8,65.1 410.8,65.4 411.8,66.9 412.8,67.5 413.8,67.5 414.8,67.3 415.8,68.2 416.8,66.9 417.8,67.7 418.8,67.6 419.8,69.7 420.8,70.9 421.8,71.1 422.8,72.2 423.8,71.6 424.8,71.3 425.8,69.3 426.8,71.1 427.8,72.8 428.8,74.4 429.8,73.5 430.8,73.4 431.8,75.1 432.8,76.0 433.8,78.3 434.8,77.8 435.8,76.9 436.8,76.8 437.8,77.2 438.8,79.0 439.8,80.0 440.8,80.6 441.8,81.9 442.8,81.5 443.8,81.7 444.8,81.7 445.8,81.9 446.8,83.6 447.8,84.4 448.8,85.3 449.8,85.4 450.8,85.7 451.8,86.0 452.8,86.6 453.8,86.6 454.8,87.7 455.8,87.1 456.8,87.8 457.8,88.1 458.8,88.7 459.8,88.9 460.8,88.8 461.8,90.3 462.8,90.6 463.8,91.7 464.8,92.7 465.8,94.0 466.8,93.5 467.8,93.3 468.8,94.4 469.8,96.0 470.8,97.3 471.8,97.7 472.8,98.9 473.8,98.8 474.8,98.8 475.8,99.1 476.8,100.0 477.8,101.3 478.8,102.5 479.8,103.0 480.8,103.4 481.8,104.1 482.8,104.0 483.8,104.2 484.8,104.1 485.8,105.7 486.8,106.7 487.8,107.8 488.8,108.1 489.8,109.4 490.8,110.4 491.8,110.7 492.8,111.0 493.8,110.8 494.5,113.4" fill="none" stroke="#84c8ec" stroke-width="1.15" stroke-linejoin="round" stroke-opacity="1.0"/>
<polyline points="403.8,60.6 404.8,61.0 405.8,61.5 406.8,62.7 407.8,63.3 408.8,64.1 409.8,64.2 410.8,63.8 411.8,64.6 412.8,64.6 413.8,66.1 414.8,64.9 415.8,65.3 416.8,65.2 417.8,65.7 418.8,66.9 419.8,67.3 420.8,67.8 421.8,66.9 422.8,67.4 423.8,68.5 424.8,69.0 425.8,69.6 426.8,70.1 427.8,69.4 428.8,68.7 429.8,67.6 430.8,68.8 431.8,70.3 432.8,71.6 433.8,71.3 434.8,70.6 435.8,71.2 436.8,71.8 437.8,72.3 438.8,72.2 439.8,71.8 440.8,72.7 441.8,73.1 442.8,74.9 443.8,74.2 444.8,73.8 445.8,73.5 446.8,74.6 447.8,75.4 448.8,76.2 449.8,77.7 450.8,79.0 451.8,79.0 452.8,78.1 453.8,78.9 454.8,79.7 455.8,81.5 456.8,82.0 457.8,82.4 458.8,82.0 459.8,81.7 460.8,82.0 461.8,82.2 462.8,82.5 463.8,84.0 464.8,84.9 465.8,85.7 466.8,85.5 467.8,85.6 468.8,87.3 469.8,86.8 470.8,87.9 471.8,88.0 472.8,89.2 473.8,90.6 474.8,91.6 475.8,92.6 476.8,93.0 477.8,92.2 478.8,93.7 479.8,94.3 480.8,95.7 481.8,96.9 482.8,97.7 483.8,99.0 484.8,99.3 485.8,98.9 486.8,98.9 487.8,99.5 488.8,99.9 489.8,101.2 490.8,101.6 491.8,103.4 492.8,102.7 493.8,103.3 494.5,103.7" fill="none" stroke="#353535" stroke-width="1.15" stroke-linejoin="round" stroke-opacity="1.0"/>
<polyline points="403.8,62.0 404.8,63.1 405.8,63.0 406.8,63.3 407.8,62.7 408.8,63.2 409.8,64.7 410.8,65.1 411.8,66.0 412.8,65.7 413.8,67.5 414.8,68.0 415.8,69.6 416.8,68.6 417.8,69.0 418.8,68.1 419.8,69.2 420.8,69.6 421.8,69.7 422.8,69.3 423.8,68.9 424.8,69.3 425.8,69.9 426.8,70.5 427.8,71.1 428.8,71.9 429.8,73.1 430.8,73.6 431.8,73.8 432.8,74.1 433.8,75.1 434.8,75.5 435.8,76.4 436.8,77.3 437.8,78.4 438.8,78.5 439.8,79.5 440.8,80.4 441.8,80.9 442.8,80.4 443.8,80.7 444.8,81.0 445.8,81.8 446.8,81.8 447.8,82.3 448.8,82.5 449.8,82.3 450.8,82.8 451.8,82.4 452.8,84.6 453.8,85.9 454.8,87.7 455.8,87.3 456.8,87.5 457.8,88.0 458.8,88.7 459.8,89.1 460.8,88.6 461.8,88.8 462.8,88.6 463.8,88.9 464.8,88.7 465.8,89.8 466.8,91.5 467.8,92.1 468.8,93.5 469.8,94.4 470.8,95.6 471.8,95.3 472.8,95.4 473.8,96.8 474.8,97.5 475.8,97.8 476.8,98.3 477.8,98.3 478.8,99.6 479.8,100.7 480.8,102.5 481.8,103.5 482.8,104.0 483.8,104.9 484.8,105.4 485.8,105.5 486.8,105.9 487.8,106.5 488.8,108.2 489.8,109.7 490.8,110.7 491.8,110.6 492.8,110.3 493.8,110.8 494.5,112.2" fill="none" stroke="#9a9a9a" stroke-width="1.15" stroke-linejoin="round" stroke-opacity="1.0"/>
<polyline points="403.8,61.7 404.8,62.4 405.8,63.0 406.8,63.7 407.8,63.7 408.8,64.8 409.8,65.2 410.8,66.4 411.8,66.5 412.8,67.0 413.8,67.0 414.8,66.6 415.8,66.5 416.8,66.2 417.8,66.2 418.8,67.3 419.8,67.8 420.8,69.0 421.8,69.6 422.8,68.2 423.8,68.5 424.8,67.4 425.8,69.7 426.8,69.5 427.8,71.1 428.8,72.2 429.8,72.3 430.8,72.8 431.8,72.5 432.8,72.9 433.8,73.7 434.8,74.2 435.8,75.5 436.8,75.2 437.8,77.5 438.8,78.0 439.8,78.0 440.8,76.2 441.8,76.7 442.8,78.0 443.8,78.9 444.8,79.1 445.8,80.1 446.8,80.4 447.8,80.7 448.8,80.4 449.8,81.0 450.8,82.6 451.8,83.7 452.8,84.2 453.8,84.2 454.8,84.5 455.8,86.2 456.8,86.3 457.8,86.9 458.8,86.6 459.8,86.9 460.8,87.1 461.8,87.3 462.8,88.0 463.8,88.6 464.8,89.5 465.8,91.1 466.8,91.4 467.8,91.6 468.8,93.0 469.8,93.2 470.8,93.9 471.8,93.8 472.8,95.2 473.8,96.2 474.8,96.5 475.8,97.6 476.8,98.6 477.8,99.1 478.8,99.5 479.8,99.5 480.8,100.1 481.8,100.7 482.8,100.8 483.8,102.2 484.8,103.8 485.8,106.1 486.8,107.1 487.8,106.3 488.8,106.9 489.8,106.6 490.8,107.8 491.8,108.7 492.8,109.2 493.8,110.4 494.5,110.0" fill="none" stroke="#d0d0d0" stroke-width="1.15" stroke-linejoin="round" stroke-opacity="1.0"/>
<polyline points="403.8,81.7 404.8,81.7 405.8,83.0 406.8,83.7 407.8,83.5 408.8,82.8 409.8,82.2 410.8,82.5 411.8,82.4 412.8,82.9 413.8,83.7 414.8,83.6 415.8,83.5 416.8,84.1 417.8,84.6 418.8,84.6 419.8,85.5 420.8,87.1 421.8,87.0 422.8,85.5 423.8,85.2 424.8,85.7 425.8,86.9 426.8,87.1 427.8,88.8 428.8,88.2 429.8,87.8 430.8,87.5 431.8,90.2 432.8,92.0 433.8,92.4 434.8,92.8 435.8,93.9 436.8,95.4 437.8,95.6 438.8,96.1 439.8,97.6 440.8,98.6 441.8,99.3 442.8,99.2 443.8,99.6 444.8,99.4 445.8,100.3 446.8,101.0 447.8,102.0 448.8,103.1 449.8,104.2 450.8,105.4 451.8,104.6 452.8,105.3 453.8,105.1 454.8,106.1 455.8,106.0 456.8,107.6 457.8,109.2 458.8,109.9 459.8,109.2 460.8,109.3 461.8,110.1 462.8,112.3 463.8,112.1 464.8,111.9 465.8,111.5 466.8,113.0 467.8,114.8 468.8,116.1 469.8,117.9 470.8,118.3 471.8,118.3 472.8,116.8 473.8,117.8 474.8,119.3 475.8,120.8 476.8,122.0 477.8,122.2 478.8,123.9 479.8,124.1 480.8,124.2 481.8,123.6 482.8,123.2 483.8,123.5 484.8,124.7 485.8,126.8 486.8,129.5 487.8,130.0 488.8,130.1 489.8,129.0 490.8,130.3 491.8,131.3 492.8,132.3 493.8,132.8 494.5,133.4" fill="none" stroke="#f7a26e" stroke-width="1.15" stroke-linejoin="round" stroke-opacity="1.0"/>
<polyline points="403.8,79.4 404.8,80.6 405.8,80.2 406.8,81.4 407.8,82.8 408.8,84.4 409.8,83.0 410.8,82.0 411.8,81.7 412.8,82.0 413.8,82.2 414.8,80.9 415.8,83.0 416.8,84.3 417.8,85.9 418.8,85.3 419.8,84.7 420.8,84.5 421.8,85.0 422.8,85.1 423.8,86.3 424.8,86.0 425.8,86.4 426.8,87.1 427.8,87.9 428.8,89.4 429.8,89.0 430.8,88.4 431.8,89.0 432.8,89.1 433.8,91.7 434.8,91.1 435.8,91.4 436.8,91.5 437.8,93.3 438.8,95.1 439.8,94.8 440.8,95.7 441.8,95.4 442.8,96.5 443.8,96.1 444.8,97.4 445.8,98.8 446.8,99.5 447.8,100.7 448.8,101.2 449.8,101.3 450.8,101.0 451.8,101.0 452.8,102.4 453.8,103.9 454.8,103.7 455.8,105.1 456.8,106.1 457.8,107.8 458.8,107.3 459.8,107.5 460.8,108.0 461.8,109.8 462.8,110.5 463.8,111.9 464.8,112.0 465.8,113.6 466.8,112.6 467.8,113.0 468.8,113.2 469.8,114.5 470.8,116.3 471.8,116.0 472.8,117.7 473.8,117.5 474.8,118.7 475.8,119.5 476.8,120.8 477.8,121.6 478.8,123.5 479.8,124.3 480.8,124.8 481.8,124.8 482.8,126.0 483.8,128.1 484.8,129.4 485.8,129.1 486.8,129.8 487.8,130.1 488.8,131.4 489.8,131.7 490.8,130.1 491.8,130.5 492.8,132.1 493.8,133.6 494.5,134.2" fill="none" stroke="#f5763f" stroke-width="1.15" stroke-linejoin="round" stroke-opacity="1.0"/>
<polyline points="403.8,64.7 404.8,66.0 405.8,68.4 406.8,64.8 407.8,68.2 408.8,70.2 409.8,68.2 410.8,70.9 411.8,74.4 412.8,74.6 413.8,74.5 414.8,71.4 415.8,75.8 416.8,77.6 417.8,77.7 418.8,79.1 419.8,84.5 420.8,81.1 421.8,81.2 422.8,83.9 423.8,84.3 424.8,85.4 425.8,86.4 426.8,88.3 427.8,88.3 428.8,87.1 429.8,89.2 430.8,90.7 431.8,90.2 432.8,93.1 433.8,93.3 434.8,91.6 435.8,94.1 436.8,97.0 437.8,97.2 438.8,95.7 439.8,97.7 440.8,96.3 441.8,96.0 442.8,99.4 443.8,99.6 444.8,100.7 445.8,100.7 446.8,101.9 447.8,101.5 448.8,103.5 449.8,104.8 450.8,104.4 451.8,106.4 452.8,103.7 453.8,105.8 454.8,109.7 455.8,110.9 456.8,109.7 457.8,110.0 458.8,109.3 459.8,112.3 460.8,113.6 461.8,111.4 462.8,115.0 463.8,115.7 464.8,116.4 465.8,115.0 466.8,117.9 467.8,115.7 468.8,120.4 469.8,119.2 470.8,118.1 471.8,122.1 472.8,122.4 473.8,120.6 474.8,125.1 475.8,121.4 476.8,123.8 477.8,125.6 478.8,121.6 479.8,126.6 480.8,125.8 481.8,126.5 482.8,125.7 483.8,128.2 484.8,126.9 485.8,127.7 486.8,129.1 487.8,128.6 488.8,133.0 489.8,129.8 490.8,131.2 491.8,132.4 492.8,133.4 493.8,135.1 494.5,135.6" fill="none" stroke="#ffb21c" stroke-width="1.3" stroke-linejoin="round" stroke-opacity="1.0"/>
<polyline points="403.8,77.5 404.8,78.1 405.8,78.8 406.8,78.8 407.8,78.0 408.8,78.8 409.8,79.6 410.8,80.6 411.8,80.3 412.8,80.0 413.8,79.9 414.8,80.0 415.8,80.5 416.8,81.0 417.8,80.9 418.8,81.3 419.8,82.1 420.8,82.8 421.8,83.3 422.8,82.7 423.8,83.2 424.8,83.5 425.8,84.3 426.8,84.2 427.8,84.9 428.8,85.6 429.8,86.9 430.8,87.1 431.8,88.1 432.8,88.4 433.8,88.5 434.8,88.8 435.8,89.3 436.8,90.6 437.8,90.9 438.8,91.4 439.8,92.0 440.8,93.1 441.8,94.0 442.8,94.6 443.8,94.9 444.8,95.4 445.8,95.9 446.8,96.4 447.8,96.6 448.8,96.9 449.8,98.1 450.8,98.6 451.8,99.0 452.8,98.5 453.8,99.0 454.8,99.7 455.8,99.9 456.8,99.8 457.8,100.3 458.8,100.6 459.8,101.9 460.8,102.4 461.8,103.9 462.8,104.9 463.8,105.5 464.8,105.4 465.8,105.2 466.8,105.5 467.8,106.5 468.8,107.0 469.8,108.1 470.8,108.9 471.8,110.7 472.8,111.3 473.8,112.2 474.8,112.5 475.8,113.2 476.8,113.3 477.8,114.4 478.8,116.0 479.8,117.4 480.8,118.3 481.8,118.2 482.8,119.5 483.8,119.9 484.8,121.3 485.8,121.6 486.8,122.3 487.8,123.2 488.8,124.0 489.8,125.2 490.8,125.8 491.8,126.6 492.8,127.2 493.8,128.0 494.5,128.4" fill="none" stroke="#a3282c" stroke-width="1.15" stroke-linejoin="round" stroke-opacity="1.0"/>
<line x1="221.5" y1="87" x2="225.0" y2="87" stroke="#a56cf0" stroke-width="1.4"/>
<line x1="312.6" y1="87" x2="316.1" y2="87" stroke="#a56cf0" stroke-width="1.4"/>
<line x1="403.8" y1="87" x2="407.3" y2="87" stroke="#a56cf0" stroke-width="1.4"/>
</g><g clip-path="url(#c1)">
<line x1="38.5" y1="280.70" x2="494.5" y2="280.70" stroke="#f0f0f0" stroke-width="0.7" stroke-dasharray="1,1.5"/>
<line x1="38.5" y1="262.84" x2="494.5" y2="262.84" stroke="#f0f0f0" stroke-width="0.7" stroke-dasharray="1,1.5"/>
<line x1="38.5" y1="244.97" x2="494.5" y2="244.97" stroke="#f0f0f0" stroke-width="0.7" stroke-dasharray="1,1.5"/>
<line x1="38.5" y1="227.11" x2="494.5" y2="227.11" stroke="#f0f0f0" stroke-width="0.7" stroke-dasharray="1,1.5"/>
<line x1="38.5" y1="209.24" x2="494.5" y2="209.24" stroke="#f0f0f0" stroke-width="0.7" stroke-dasharray="1,1.5"/>
<line x1="38.5" y1="191.38" x2="494.5" y2="191.38" stroke="#f0f0f0" stroke-width="0.7" stroke-dasharray="1,1.5"/>
<line x1="38.5" y1="173.52" x2="494.5" y2="173.52" stroke="#f0f0f0" stroke-width="0.7" stroke-dasharray="1,1.5"/>
<line x1="38.5" y1="155.65" x2="494.5" y2="155.65" stroke="#f0f0f0" stroke-width="0.7" stroke-dasharray="1,1.5"/>
<line x1="94.29" y1="146.60000000000002" x2="94.29" y2="285.3" stroke="#f0f0f0" stroke-width="0.7" stroke-dasharray="1,1.5"/>
<line x1="150.09" y1="146.60000000000002" x2="150.09" y2="285.3" stroke="#f0f0f0" stroke-width="0.7" stroke-dasharray="1,1.5"/>
<line x1="259.01" y1="146.60000000000002" x2="259.01" y2="285.3" stroke="#f0f0f0" stroke-width="0.7" stroke-dasharray="1,1.5"/>
<line x1="350.15" y1="146.60000000000002" x2="350.15" y2="285.3" stroke="#f0f0f0" stroke-width="0.7" stroke-dasharray="1,1.5"/>
<line x1="441.15" y1="146.60000000000002" x2="441.15" y2="285.3" stroke="#f0f0f0" stroke-width="0.7" stroke-dasharray="1,1.5"/>
<polygon points="38.5,151.1 39.5,150.5 40.5,150.5 41.5,151.3 42.5,152.3 43.5,151.5 44.5,151.5 45.5,149.3 46.5,149.6 47.5,149.1 48.5,148.9 49.5,148.3 50.5,148.6 51.5,149.9 52.5,150.9 53.5,150.2 54.5,151.4 55.5,151.2 56.5,151.1 57.5,150.7 58.5,151.0 59.5,151.2 60.5,150.9 61.5,150.6 62.5,151.2 63.5,150.6 64.5,149.8 65.5,150.0 66.5,150.0 67.5,150.0 68.5,148.9 69.5,149.4 70.5,149.7 71.5,150.2 72.5,150.0 73.5,150.3 74.5,149.3 75.5,149.3 76.5,149.8 77.5,151.2 78.5,151.8 79.5,151.4 80.5,151.5 81.5,151.7 82.5,151.5 83.5,152.4 84.5,152.7 85.5,153.6 86.5,153.9 87.5,153.5 88.5,152.8 89.5,152.6 90.5,152.5 91.5,153.5 92.5,153.1 93.5,154.0 94.5,154.3 95.5,154.0 96.5,153.7 97.5,154.0 98.5,154.3 99.5,153.9 100.5,153.4 101.5,153.5 102.5,154.1 103.5,155.0 104.5,156.5 105.5,157.1 106.5,157.2 107.5,156.8 108.5,156.9 109.5,156.1 110.5,155.9 111.5,155.3 112.5,155.5 113.5,154.9 114.5,154.5 115.5,154.4 116.5,154.0 117.5,154.7 118.5,154.9 119.5,155.8 120.5,155.7 121.5,156.2 122.5,155.9 123.5,155.6 124.5,154.3 125.5,153.3 126.5,152.3 127.5,154.3 128.5,154.6 129.5,156.1 130.5,155.9 131.5,156.4 132.5,156.7 133.5,156.6 134.5,157.1 135.5,157.2 136.5,156.1 137.5,154.7 138.5,153.2 139.5,152.2 140.5,151.5 141.5,150.0 142.5,151.3 143.5,151.4 144.5,151.9 145.5,149.7 146.5,149.7 147.5,149.2 148.5,149.0 149.5,147.9 150.5,147.3 151.5,147.9 152.5,149.5 153.5,152.3 154.5,154.2 155.5,155.8 156.5,155.6 157.5,155.6 158.5,153.3 159.5,152.5 160.5,150.7 161.5,150.9 162.5,151.3 163.5,152.3 164.5,152.7 165.5,151.0 166.5,149.4 167.5,147.9 168.5,147.4 169.5,148.5 170.5,149.8 171.5,149.6 172.5,148.7 173.5,147.4 174.5,147.7 175.5,147.2 176.5,147.4 177.5,147.9 178.5,148.9 179.5,148.2 180.5,147.9 181.5,146.7 182.5,148.0 183.5,147.5 184.5,148.4 185.5,147.6 186.5,147.9 187.5,147.5 188.5,146.8 189.5,148.4 190.5,149.7 191.5,151.5 192.5,152.2 193.5,152.5 194.5,153.1 195.5,152.3 196.5,153.4 197.5,153.8 198.5,154.3 199.5,153.8 200.5,154.1 201.5,155.0 202.5,154.2 203.5,154.4 204.5,153.8 205.5,155.2 206.5,154.5 207.5,155.6 208.5,155.6 209.5,156.9 210.5,156.3 211.5,156.0 212.5,156.0 213.5,155.3 214.5,155.9 215.5,156.2 216.5,157.4 217.5,158.2 218.5,158.5 219.5,159.9 220.5,160.3 221.5,159.8 221.5,237.8 220.5,237.0 219.5,236.3 218.5,235.7 217.5,234.3 216.5,233.1 215.5,232.5 214.5,234.3 213.5,234.9 212.5,235.0 211.5,233.5 210.5,232.0 209.5,230.6 208.5,230.6 207.5,230.5 206.5,230.5 205.5,229.5 204.5,230.1 203.5,228.3 202.5,228.7 201.5,226.1 200.5,225.8 199.5,225.3 198.5,225.9 197.5,227.1 196.5,227.0 195.5,228.3 194.5,227.5 193.5,228.8 192.5,228.1 191.5,229.3 190.5,227.5 189.5,228.0 188.5,227.5 187.5,228.4 186.5,227.6 185.5,227.8 184.5,225.8 183.5,226.8 182.5,225.5 181.5,226.9 180.5,226.4 179.5,226.9 178.5,226.1 177.5,225.1 176.5,225.3 175.5,226.0 174.5,224.9 173.5,226.3 172.5,225.9 171.5,226.1 170.5,224.3 169.5,225.1 168.5,226.0 167.5,225.4 166.5,225.1 165.5,226.3 164.5,226.1 163.5,226.3 162.5,224.1 161.5,224.8 160.5,223.3 159.5,223.0 158.5,222.7 157.5,223.5 156.5,223.9 155.5,224.0 154.5,223.6 153.5,223.7 152.5,224.1 151.5,225.0 150.5,224.2 149.5,224.1 148.5,222.8 147.5,223.2 146.5,220.5 145.5,221.2 144.5,222.6 143.5,225.7 142.5,225.6 141.5,224.6 140.5,223.3 139.5,222.6 138.5,223.2 137.5,223.2 136.5,223.1 135.5,222.3 134.5,222.3 133.5,220.8 132.5,220.0 131.5,220.6 130.5,221.5 129.5,222.1 128.5,222.9 127.5,223.8 126.5,223.4 125.5,222.1 124.5,222.2 123.5,223.8 122.5,222.8 121.5,222.6 120.5,221.8 119.5,222.9 118.5,223.6 117.5,223.6 116.5,223.9 115.5,224.3 114.5,224.5 113.5,223.8 112.5,221.3 111.5,221.3 110.5,222.2 109.5,224.2 108.5,224.0 107.5,223.5 106.5,222.8 105.5,223.5 104.5,222.7 103.5,222.6 102.5,222.6 101.5,223.3 100.5,223.9 99.5,222.0 98.5,222.9 97.5,221.0 96.5,222.3 95.5,221.3 94.5,222.7 93.5,222.8 92.5,223.0 91.5,223.2 90.5,223.2 89.5,223.0 88.5,222.5 87.5,221.9 86.5,221.3 85.5,220.3 84.5,219.8 83.5,220.3 82.5,221.7 81.5,223.2 80.5,223.4 79.5,223.0 78.5,221.4 77.5,221.8 76.5,222.6 75.5,221.4 74.5,220.8 73.5,219.9 72.5,221.4 71.5,221.8 70.5,222.2 69.5,223.1 68.5,221.2 67.5,220.8 66.5,218.9 65.5,221.8 64.5,221.0 63.5,222.4 62.5,221.4 61.5,222.9 60.5,221.8 59.5,219.4 58.5,217.8 57.5,218.3 56.5,218.0 55.5,218.2 54.5,218.9 53.5,220.6 52.5,220.5 51.5,216.3 50.5,216.0 49.5,215.7 48.5,218.7 47.5,217.3 46.5,216.3 45.5,214.6 44.5,214.4 43.5,215.4 42.5,214.6 41.5,213.7 40.5,211.9 39.5,211.6 38.5,211.2" fill="#fff2dd"/>
<polygon points="38.5,168.9 39.5,167.9 40.5,167.5 41.5,169.0 42.5,168.7 43.5,168.7 44.5,167.8 45.5,168.3 46.5,168.6 47.5,169.9 48.5,170.5 49.5,170.5 50.5,170.1 51.5,169.6 52.5,169.6 53.5,170.5 54.5,168.8 55.5,168.6 56.5,167.8 57.5,170.2 58.5,169.6 59.5,169.6 60.5,169.5 61.5,169.9 62.5,168.5 63.5,167.7 64.5,167.2 65.5,168.9 66.5,168.6 67.5,170.5 68.5,170.2 69.5,170.2 70.5,168.7 71.5,168.0 72.5,168.7 73.5,170.0 74.5,170.6 75.5,171.0 76.5,169.4 77.5,169.8 78.5,170.7 79.5,170.4 80.5,171.0 81.5,170.3 82.5,170.0 83.5,168.3 84.5,166.9 85.5,168.7 86.5,169.4 87.5,169.9 88.5,169.8 89.5,170.1 90.5,170.4 91.5,169.7 92.5,170.4 93.5,169.8 94.5,171.1 95.5,170.1 96.5,170.1 97.5,169.5 98.5,170.0 99.5,169.2 100.5,169.0 101.5,167.8 102.5,168.6 103.5,169.0 104.5,169.3 105.5,170.1 106.5,169.3 107.5,171.1 108.5,170.8 109.5,170.3 110.5,168.4 111.5,167.9 112.5,168.7 113.5,169.5 114.5,170.7 115.5,170.7 116.5,170.8 117.5,170.4 118.5,170.2 119.5,170.3 120.5,170.6 121.5,171.2 122.5,170.7 123.5,169.1 124.5,168.1 125.5,168.6 126.5,168.1 127.5,168.4 128.5,168.5 129.5,169.7 130.5,169.5 131.5,170.6 132.5,172.2 133.5,173.0 134.5,173.0 135.5,173.3 136.5,173.0 137.5,174.2 138.5,173.0 139.5,173.9 140.5,171.7 141.5,172.7 142.5,172.3 143.5,173.3 144.5,174.2 145.5,175.5 146.5,175.6 147.5,176.2 148.5,175.7 149.5,175.8 150.5,174.0 151.5,174.0 152.5,172.7 153.5,172.3 154.5,171.5 155.5,170.3 156.5,169.2 157.5,168.8 158.5,168.9 159.5,168.6 160.5,167.8 161.5,167.4 162.5,168.2 163.5,168.8 164.5,169.4 165.5,169.1 166.5,169.1 167.5,168.2 168.5,166.9 169.5,166.9 170.5,166.8 171.5,168.2 172.5,167.5 173.5,169.1 174.5,169.0 175.5,170.1 176.5,169.5 177.5,169.5 178.5,168.4 179.5,169.2 180.5,170.3 181.5,171.9 182.5,173.3 183.5,173.7 184.5,173.9 185.5,173.1 186.5,173.5 187.5,173.6 188.5,173.6 189.5,175.3 190.5,174.8 191.5,176.0 192.5,175.3 193.5,177.0 194.5,176.5 195.5,176.5 196.5,176.5 197.5,176.7 198.5,177.2 199.5,177.6 200.5,178.3 201.5,179.1 202.5,179.0 203.5,180.0 204.5,179.6 205.5,180.9 206.5,181.1 207.5,182.0 208.5,181.5 209.5,181.4 210.5,181.1 211.5,182.2 212.5,183.6 213.5,185.0 214.5,184.5 215.5,184.1 216.5,182.3 217.5,181.2 218.5,180.5 219.5,181.1 220.5,181.5 221.5,180.9 221.5,223.3 220.5,226.1 219.5,223.7 218.5,223.3 217.5,222.5 216.5,222.1 215.5,222.7 214.5,222.1 213.5,222.8 212.5,223.7 211.5,222.6 210.5,222.5 209.5,219.8 208.5,220.3 207.5,222.3 206.5,221.2 205.5,219.5 204.5,220.8 203.5,221.4 202.5,220.2 201.5,219.0 200.5,218.8 199.5,221.1 198.5,220.0 197.5,218.3 196.5,216.4 195.5,218.6 194.5,217.5 193.5,218.9 192.5,218.6 191.5,216.7 190.5,216.3 189.5,222.0 188.5,218.7 187.5,216.2 186.5,214.9 185.5,216.6 184.5,216.9 183.5,218.7 182.5,216.8 181.5,217.9 180.5,215.9 179.5,217.2 178.5,215.0 177.5,215.4 176.5,215.8 175.5,217.7 174.5,213.9 173.5,215.6 172.5,216.9 171.5,215.4 170.5,216.1 169.5,217.2 168.5,213.8 167.5,214.1 166.5,216.8 165.5,217.8 164.5,214.7 163.5,212.6 162.5,216.6 161.5,214.0 160.5,215.9 159.5,218.4 158.5,216.9 157.5,214.3 156.5,213.0 155.5,215.0 154.5,213.0 153.5,214.3 152.5,216.4 151.5,215.7 150.5,213.8 149.5,214.3 148.5,214.0 147.5,214.3 146.5,213.8 145.5,216.3 144.5,212.9 143.5,213.3 142.5,215.3 141.5,215.2 140.5,213.5 139.5,216.7 138.5,215.5 137.5,213.3 136.5,213.6 135.5,211.0 134.5,212.2 133.5,213.4 132.5,211.0 131.5,214.7 130.5,211.2 129.5,211.8 128.5,213.9 127.5,213.8 126.5,211.5 125.5,211.5 124.5,212.3 123.5,213.6 122.5,213.3 121.5,211.3 120.5,213.9 119.5,213.2 118.5,212.9 117.5,212.5 116.5,210.5 115.5,212.2 114.5,214.4 113.5,211.4 112.5,214.7 111.5,209.8 110.5,214.0 109.5,210.8 108.5,212.1 107.5,212.8 106.5,209.0 105.5,212.3 104.5,213.3 103.5,212.2 102.5,210.6 101.5,212.3 100.5,211.2 99.5,212.4 98.5,210.7 97.5,210.1 96.5,212.7 95.5,209.7 94.5,209.3 93.5,212.0 92.5,212.1 91.5,208.0 90.5,212.9 89.5,211.1 88.5,212.2 87.5,210.5 86.5,210.4 85.5,211.7 84.5,210.1 83.5,208.6 82.5,211.0 81.5,209.8 80.5,212.2 79.5,209.8 78.5,211.5 77.5,210.9 76.5,212.3 75.5,209.8 74.5,210.2 73.5,212.0 72.5,212.7 71.5,213.2 70.5,208.2 69.5,210.8 68.5,208.2 67.5,209.5 66.5,208.7 65.5,209.3 64.5,209.5 63.5,209.7 62.5,209.6 61.5,211.1 60.5,210.2 59.5,209.3 58.5,212.8 57.5,210.3 56.5,211.1 55.5,210.5 54.5,210.0 53.5,208.7 52.5,207.4 51.5,211.5 50.5,208.5 49.5,209.3 48.5,207.7 47.5,207.3 46.5,211.5 45.5,208.3 44.5,210.2 43.5,208.8 42.5,209.4 41.5,212.3 40.5,206.8 39.5,208.0 38.5,209.7" fill="#ffdf9c"/>
<polygon points="403.8,164.0 404.8,164.6 405.8,165.1 406.8,165.0 407.8,165.2 408.8,165.5 409.8,166.3 410.8,167.2 411.8,169.2 412.8,169.2 413.8,169.6 414.8,168.8 415.8,167.5 416.8,167.8 417.8,168.1 418.8,169.8 419.8,169.6 420.8,169.4 421.8,168.5 422.8,169.4 423.8,171.2 424.8,172.1 425.8,172.3 426.8,172.8 427.8,172.8 428.8,172.6 429.8,171.2 430.8,173.1 431.8,174.0 432.8,174.9 433.8,173.2 434.8,173.3 435.8,174.8 436.8,176.2 437.8,176.4 438.8,176.6 439.8,176.3 440.8,177.1 441.8,177.5 442.8,178.2 443.8,178.0 444.8,178.2 445.8,179.1 446.8,179.9 447.8,180.3 448.8,181.0 449.8,181.0 450.8,181.0 451.8,181.8 452.8,183.9 453.8,186.0 454.8,185.6 455.8,186.2 456.8,186.4 457.8,187.6 458.8,187.7 459.8,188.4 460.8,190.3 461.8,189.8 462.8,190.2 463.8,189.4 464.8,190.7 465.8,191.7 466.8,193.0 467.8,193.0 468.8,192.5 469.8,192.7 470.8,193.0 471.8,194.5 472.8,195.0 473.8,196.8 474.8,197.1 475.8,199.1 476.8,199.7 477.8,199.9 478.8,200.5 479.8,200.8 480.8,201.3 481.8,199.7 482.8,201.5 483.8,202.8 484.8,204.8 485.8,204.8 486.8,205.2 487.8,204.9 488.8,204.9 489.8,206.0 490.8,207.3 491.8,209.7 492.8,209.5 493.8,209.8 494.5,208.3 494.5,286.4 493.8,286.3 492.8,285.7 491.8,285.5 490.8,285.7 489.8,286.0 488.8,285.6 487.8,284.5 486.8,283.7 485.8,282.9 484.8,283.0 483.8,282.1 482.8,283.9 481.8,285.0 480.8,285.4 479.8,284.6 478.8,283.4 477.8,282.8 476.8,281.1 475.8,280.9 474.8,280.9 473.8,281.7 472.8,280.8 471.8,281.1 470.8,281.3 469.8,282.2 468.8,282.1 467.8,280.0 466.8,278.6 465.8,276.3 464.8,276.6 463.8,276.3 462.8,276.9 461.8,276.1 460.8,276.2 459.8,276.1 458.8,276.5 457.8,275.7 456.8,274.7 455.8,273.9 454.8,274.1 453.8,273.7 452.8,272.6 451.8,271.8 450.8,272.5 449.8,273.3 448.8,272.5 447.8,271.4 446.8,269.9 445.8,269.2 444.8,268.2 443.8,266.6 442.8,266.2 441.8,265.8 440.8,266.1 439.8,265.7 438.8,264.6 437.8,263.9 436.8,263.3 435.8,263.0 434.8,261.6 433.8,260.5 432.8,259.9 431.8,260.1 430.8,260.4 429.8,259.1 428.8,257.9 427.8,256.7 426.8,256.8 425.8,257.9 424.8,257.4 423.8,257.0 422.8,255.7 421.8,256.9 420.8,256.1 419.8,255.3 418.8,253.4 417.8,252.9 416.8,253.5 415.8,254.0 414.8,253.5 413.8,252.9 412.8,252.1 411.8,251.2 410.8,250.6 409.8,248.9 408.8,249.8 407.8,249.6 406.8,251.2 405.8,250.9 404.8,249.9 403.8,249.5" fill="#fff2dd"/>
<polygon points="403.8,176.7 404.8,177.8 405.8,179.1 406.8,178.5 407.8,178.8 408.8,179.1 409.8,178.8 410.8,178.5 411.8,179.5 412.8,181.7 413.8,183.0 414.8,183.5 415.8,183.9 416.8,182.8 417.8,182.4 418.8,183.0 419.8,184.9 420.8,185.4 421.8,185.5 422.8,185.9 423.8,186.0 424.8,185.9 425.8,186.2 426.8,188.0 427.8,189.4 428.8,189.0 429.8,189.6 430.8,189.9 431.8,192.1 432.8,192.7 433.8,194.2 434.8,194.9 435.8,195.4 436.8,196.4 437.8,197.4 438.8,198.5 439.8,199.5 440.8,199.2 441.8,200.2 442.8,200.3 443.8,200.9 444.8,201.0 445.8,201.3 446.8,202.3 447.8,202.9 448.8,204.3 449.8,204.9 450.8,205.5 451.8,204.8 452.8,205.5 453.8,206.6 454.8,208.3 455.8,209.0 456.8,208.7 457.8,208.4 458.8,208.6 459.8,208.7 460.8,209.2 461.8,210.2 462.8,211.0 463.8,213.1 464.8,212.4 465.8,213.6 466.8,212.7 467.8,214.0 468.8,213.8 469.8,215.1 470.8,215.5 471.8,216.5 472.8,217.3 473.8,218.8 474.8,219.3 475.8,220.2 476.8,220.1 477.8,221.0 478.8,222.3 479.8,221.8 480.8,222.1 481.8,220.7 482.8,222.2 483.8,223.1 484.8,226.5 485.8,227.5 486.8,229.2 487.8,228.5 488.8,228.7 489.8,228.7 490.8,229.5 491.8,230.5 492.8,231.0 493.8,231.0 494.5,230.6 494.5,278.8 493.8,279.1 492.8,280.5 491.8,278.6 490.8,277.0 489.8,276.2 488.8,275.7 487.8,275.5 486.8,274.3 485.8,275.0 484.8,274.3 483.8,274.7 482.8,274.3 481.8,274.8 480.8,275.1 479.8,274.8 478.8,274.9 477.8,275.0 476.8,274.0 475.8,273.8 474.8,273.8 473.8,274.3 472.8,273.2 471.8,273.2 470.8,273.3 469.8,275.1 468.8,273.6 467.8,273.3 466.8,270.4 465.8,271.2 464.8,270.6 463.8,270.3 462.8,269.3 461.8,270.9 460.8,271.5 459.8,269.9 458.8,267.7 457.8,268.7 456.8,267.7 455.8,268.3 454.8,266.6 453.8,268.3 452.8,266.7 451.8,267.4 450.8,266.0 449.8,266.0 448.8,264.5 447.8,264.2 446.8,263.0 445.8,262.6 444.8,262.1 443.8,261.9 442.8,260.5 441.8,260.0 440.8,258.8 439.8,259.0 438.8,258.5 437.8,257.9 436.8,255.8 435.8,253.5 434.8,253.1 433.8,252.4 432.8,253.6 431.8,251.2 430.8,251.0 429.8,250.0 428.8,250.9 427.8,250.4 426.8,247.5 425.8,249.0 424.8,248.3 423.8,248.8 422.8,245.7 421.8,244.6 420.8,245.0 419.8,244.4 418.8,243.9 417.8,243.0 416.8,241.9 415.8,242.1 414.8,240.5 413.8,240.1 412.8,239.4 411.8,239.7 410.8,240.6 409.8,239.8 408.8,239.1 407.8,237.8 406.8,236.7 405.8,236.6 404.8,236.5 403.8,236.0" fill="#ffdf9c"/>
<polyline points="38.5,189.8 39.5,189.7 40.5,190.3 41.5,190.8 42.5,190.6 43.5,189.8 44.5,189.4 45.5,189.8 46.5,190.8 47.5,190.6 48.5,190.3 49.5,189.4 50.5,189.6 51.5,189.7 52.5,190.1 53.5,189.9 54.5,189.3 55.5,189.5 56.5,190.3 57.5,190.9 58.5,190.2 59.5,189.9 60.5,189.9 61.5,189.9 62.5,189.6 63.5,189.4 64.5,190.0 65.5,190.1 66.5,190.5 67.5,190.4 68.5,190.5 69.5,190.1 70.5,189.8 71.5,190.4 72.5,190.7 73.5,190.1 74.5,189.3 75.5,189.5 76.5,190.1 77.5,190.8 78.5,190.5 79.5,191.1 80.5,190.5 81.5,190.8 82.5,189.8 83.5,190.6 84.5,190.7 85.5,190.5 86.5,190.4 87.5,189.7 88.5,190.2 89.5,190.0 90.5,189.7 91.5,189.4 92.5,189.7 93.5,190.5 94.5,190.6 95.5,189.8 96.5,190.4 97.5,191.1 98.5,191.8 99.5,190.5 100.5,189.8 101.5,189.7 102.5,189.8 103.5,190.7 104.5,190.6 105.5,191.2 106.5,190.1 107.5,189.7 108.5,189.2 109.5,189.8 110.5,190.0 111.5,190.2 112.5,190.3 113.5,190.5 114.5,191.2 115.5,191.0 116.5,190.5 117.5,189.9 118.5,190.6 119.5,190.8 120.5,190.8 121.5,190.1 122.5,190.5 123.5,190.5 124.5,190.4 125.5,190.1 126.5,190.4 127.5,191.2 128.5,191.7 129.5,191.6 130.5,191.0 131.5,190.5 132.5,190.6 133.5,190.2 134.5,190.3 135.5,189.2 136.5,189.5 137.5,189.3 138.5,189.5 139.5,189.9 140.5,189.9 141.5,190.2 142.5,189.9 143.5,189.9 144.5,190.6 145.5,190.5 146.5,190.9 147.5,189.8 148.5,189.8 149.5,189.6 150.5,190.0 151.5,190.0 152.5,190.2 153.5,190.9 154.5,191.1 155.5,191.0 156.5,190.2 157.5,191.3 158.5,192.0 159.5,192.4 160.5,191.6 161.5,190.7 162.5,190.4 163.5,190.2 164.5,190.5 165.5,190.3 166.5,189.9 167.5,190.1 168.5,190.6 169.5,190.1 170.5,190.0 171.5,190.4 172.5,191.1 173.5,191.2 174.5,190.1 175.5,190.7 176.5,190.2 177.5,190.3 178.5,189.9 179.5,191.4 180.5,191.7 181.5,191.3 182.5,190.6 183.5,191.0 184.5,192.2 185.5,191.5 186.5,190.8 187.5,190.1 188.5,190.8 189.5,191.6 190.5,192.3 191.5,191.7 192.5,191.4 193.5,191.1 194.5,192.2 195.5,192.9 196.5,193.0 197.5,192.4 198.5,192.8 199.5,193.5 200.5,195.2 201.5,194.9 202.5,195.4 203.5,194.0 204.5,194.0 205.5,193.3 206.5,193.8 207.5,193.8 208.5,194.0 209.5,194.4 210.5,194.7 211.5,195.4 212.5,195.6 213.5,195.9 214.5,196.4 215.5,196.9 216.5,197.4 217.5,197.3 218.5,197.7 219.5,198.3 220.5,198.4 221.5,199.3" fill="none" stroke="#ffb21c" stroke-width="1.3" stroke-linejoin="round" stroke-opacity="1.0"/>
<polyline points="38.5,190.5 39.5,189.0 40.5,188.8 41.5,188.1 42.5,189.3 43.5,190.0 44.5,190.0 45.5,190.3 46.5,189.3 47.5,190.0 48.5,189.9 49.5,189.5 50.5,190.1 51.5,190.0 52.5,189.5 53.5,188.3 54.5,188.3 55.5,188.5 56.5,189.3 57.5,190.3 58.5,189.2 59.5,188.4 60.5,188.0 61.5,187.4 62.5,186.7 63.5,186.5 64.5,188.0 65.5,188.0 66.5,188.2 67.5,188.8 68.5,190.3 69.5,189.7 70.5,190.0 71.5,190.1 72.5,191.2 73.5,191.6 74.5,189.9 75.5,190.5 76.5,189.7 77.5,190.3 78.5,190.2 79.5,190.6 80.5,192.6 81.5,191.9 82.5,191.5 83.5,190.4 84.5,189.4 85.5,190.2 86.5,190.7 87.5,190.4 88.5,190.8 89.5,190.6 90.5,191.1 91.5,191.5 92.5,192.4 93.5,191.8 94.5,189.4 95.5,187.6 96.5,188.0 97.5,188.5 98.5,188.4 99.5,189.3 100.5,188.9 101.5,189.9 102.5,190.6 103.5,190.4 104.5,190.6 105.5,190.9 106.5,191.3 107.5,191.4 108.5,190.3 109.5,190.1 110.5,189.2 111.5,189.8 112.5,190.6 113.5,190.0 114.5,189.8 115.5,188.8 116.5,190.1 117.5,189.7 118.5,190.4 119.5,188.8 120.5,187.4 121.5,188.3 122.5,189.3 123.5,189.4 124.5,188.5 125.5,188.9 126.5,189.0 127.5,189.0 128.5,190.1 129.5,190.4 130.5,190.1 131.5,189.4 132.5,190.3 133.5,192.6 134.5,192.8 135.5,193.7 136.5,193.6 137.5,194.3 138.5,194.0 139.5,193.5 140.5,191.8 141.5,191.4 142.5,191.5 143.5,191.6 144.5,191.0 145.5,189.5 146.5,189.9 147.5,190.8 148.5,190.9 149.5,191.7 150.5,192.5 151.5,193.3 152.5,193.9 153.5,193.4 154.5,193.3 155.5,192.8 156.5,192.8 157.5,193.8 158.5,194.7 159.5,193.6 160.5,192.9 161.5,192.1 162.5,193.8 163.5,195.0 164.5,193.8 165.5,193.0 166.5,192.7 167.5,193.2 168.5,192.9 169.5,193.6 170.5,194.0 171.5,195.2 172.5,193.0 173.5,191.7 174.5,192.3 175.5,191.9 176.5,192.7 177.5,192.4 178.5,193.7 179.5,194.5 180.5,195.1 181.5,194.7 182.5,196.0 183.5,195.1 184.5,196.0 185.5,196.6 186.5,197.3 187.5,196.9 188.5,197.4 189.5,197.0 190.5,198.9 191.5,198.3 192.5,199.0 193.5,199.0 194.5,198.1 195.5,197.4 196.5,195.9 197.5,196.8 198.5,195.8 199.5,195.7 200.5,195.1 201.5,196.1 202.5,196.4 203.5,196.0 204.5,197.6 205.5,199.1 206.5,200.4 207.5,199.1 208.5,198.9 209.5,198.8 210.5,198.6 211.5,199.0 212.5,199.1 213.5,200.0 214.5,199.5 215.5,199.6 216.5,201.7 217.5,202.0 218.5,202.0 219.5,201.6 220.5,201.0 221.5,201.5" fill="none" stroke="#18186f" stroke-width="1.15" stroke-linejoin="round" stroke-opacity="1.0"/>
<polyline points="38.5,188.2 39.5,188.2 40.5,188.8 41.5,189.5 42.5,188.6 43.5,188.2 44.5,187.6 45.5,188.3 46.5,188.9 47.5,188.9 48.5,188.4 49.5,187.7 50.5,188.2 51.5,190.1 52.5,190.3 53.5,190.2 54.5,189.0 55.5,187.9 56.5,188.1 57.5,188.7 58.5,189.8 59.5,189.1 60.5,188.8 61.5,188.2 62.5,188.1 63.5,188.1 64.5,188.4 65.5,187.9 66.5,187.2 67.5,187.2 68.5,187.7 69.5,186.8 70.5,186.8 71.5,185.9 72.5,188.6 73.5,189.5 74.5,191.0 75.5,190.1 76.5,188.8 77.5,188.8 78.5,189.8 79.5,190.2 80.5,189.9 81.5,190.0 82.5,190.2 83.5,189.5 84.5,188.0 85.5,186.9 86.5,186.7 87.5,187.9 88.5,188.7 89.5,189.3 90.5,189.1 91.5,188.1 92.5,188.8 93.5,189.0 94.5,189.0 95.5,189.1 96.5,188.4 97.5,188.1 98.5,188.1 99.5,187.7 100.5,188.5 101.5,188.1 102.5,188.4 103.5,189.9 104.5,189.5 105.5,188.6 106.5,188.8 107.5,188.5 108.5,189.8 109.5,189.9 110.5,190.6 111.5,189.7 112.5,189.1 113.5,189.5 114.5,190.6 115.5,190.2 116.5,189.1 117.5,189.6 118.5,189.7 119.5,188.4 120.5,189.2 121.5,188.9 122.5,190.0 123.5,189.0 124.5,190.3 125.5,190.3 126.5,189.6 127.5,187.7 128.5,188.9 129.5,189.5 130.5,190.5 131.5,189.6 132.5,189.9 133.5,188.9 134.5,190.7 135.5,190.8 136.5,190.0 137.5,189.7 138.5,188.9 139.5,188.7 140.5,189.2 141.5,189.1 142.5,190.3 143.5,189.7 144.5,190.9 145.5,191.2 146.5,192.0 147.5,192.5 148.5,193.4 149.5,192.7 150.5,193.1 151.5,193.3 152.5,191.9 153.5,190.0 154.5,189.9 155.5,190.6 156.5,190.9 157.5,191.4 158.5,192.0 159.5,191.6 160.5,191.5 161.5,190.7 162.5,192.4 163.5,191.5 164.5,191.9 165.5,191.7 166.5,192.1 167.5,193.5 168.5,193.4 169.5,193.7 170.5,192.0 171.5,192.3 172.5,191.8 173.5,192.5 174.5,192.6 175.5,193.4 176.5,194.0 177.5,195.0 178.5,195.4 179.5,195.5 180.5,193.2 181.5,193.0 182.5,193.3 183.5,193.2 184.5,192.7 185.5,192.0 186.5,191.9 187.5,193.5 188.5,192.3 189.5,192.9 190.5,193.3 191.5,193.4 192.5,194.3 193.5,194.1 194.5,194.1 195.5,195.5 196.5,195.0 197.5,196.5 198.5,195.7 199.5,195.9 200.5,196.2 201.5,195.4 202.5,195.5 203.5,195.6 204.5,197.3 205.5,198.4 206.5,199.4 207.5,199.5 208.5,199.0 209.5,198.9 210.5,199.7 211.5,199.9 212.5,200.9 213.5,200.6 214.5,200.3 215.5,199.2 216.5,200.1 217.5,201.0 218.5,201.5 219.5,201.1 220.5,202.7 221.5,203.2" fill="none" stroke="#1f7ff0" stroke-width="1.15" stroke-linejoin="round" stroke-opacity="1.0"/>
<polyline points="38.5,190.1 39.5,190.5 40.5,190.6 41.5,190.9 42.5,190.3 43.5,190.4 44.5,190.4 45.5,191.0 46.5,190.8 47.5,190.9 48.5,191.0 49.5,191.6 50.5,191.5 51.5,190.7 52.5,190.8 53.5,191.1 54.5,191.3 55.5,191.5 56.5,191.3 57.5,191.5 58.5,191.5 59.5,191.7 60.5,191.0 61.5,190.9 62.5,190.6 63.5,190.7 64.5,190.8 65.5,190.8 66.5,190.5 67.5,190.6 68.5,189.8 69.5,190.6 70.5,191.2 71.5,191.7 72.5,191.9 73.5,191.4 74.5,192.5 75.5,192.9 76.5,192.9 77.5,191.4 78.5,190.4 79.5,190.0 80.5,191.1 81.5,191.3 82.5,191.1 83.5,190.5 84.5,190.6 85.5,190.9 86.5,190.1 87.5,190.7 88.5,190.2 89.5,191.4 90.5,191.3 91.5,190.9 92.5,190.2 93.5,190.3 94.5,191.0 95.5,191.5 96.5,190.9 97.5,190.3 98.5,190.5 99.5,190.5 100.5,190.7 101.5,189.4 102.5,188.7 103.5,188.1 104.5,189.4 105.5,189.6 106.5,190.1 107.5,189.4 108.5,190.0 109.5,191.5 110.5,190.7 111.5,189.9 112.5,188.7 113.5,188.2 114.5,189.2 115.5,190.3 116.5,191.6 117.5,192.2 118.5,190.6 119.5,190.4 120.5,190.5 121.5,190.1 122.5,189.2 123.5,189.4 124.5,190.6 125.5,192.6 126.5,191.8 127.5,192.8 128.5,191.8 129.5,192.0 130.5,192.2 131.5,192.8 132.5,191.9 133.5,191.6 134.5,190.5 135.5,189.3 136.5,188.5 137.5,189.6 138.5,190.9 139.5,190.2 140.5,190.2 141.5,190.4 142.5,191.2 143.5,190.2 144.5,190.9 145.5,192.2 146.5,193.5 147.5,191.9 148.5,190.6 149.5,191.1 150.5,192.0 151.5,193.2 152.5,192.7 153.5,192.8 154.5,192.1 155.5,192.7 156.5,192.0 157.5,193.2 158.5,193.1 159.5,194.0 160.5,193.7 161.5,193.6 162.5,193.8 163.5,192.1 164.5,192.5 165.5,192.6 166.5,193.0 167.5,191.9 168.5,192.5 169.5,192.7 170.5,194.4 171.5,193.6 172.5,193.2 173.5,192.4 174.5,193.1 175.5,194.2 176.5,194.2 177.5,194.6 178.5,194.0 179.5,193.8 180.5,192.5 181.5,192.4 182.5,193.3 183.5,194.3 184.5,194.5 185.5,194.9 186.5,193.5 187.5,192.7 188.5,192.3 189.5,193.2 190.5,194.5 191.5,194.3 192.5,194.6 193.5,196.1 194.5,196.6 195.5,196.3 196.5,195.5 197.5,196.9 198.5,197.7 199.5,198.9 200.5,199.0 201.5,199.7 202.5,199.2 203.5,200.0 204.5,200.6 205.5,201.3 206.5,201.2 207.5,200.8 208.5,201.1 209.5,200.7 210.5,201.8 211.5,202.0 212.5,202.1 213.5,201.6 214.5,201.8 215.5,201.9 216.5,202.2 217.5,202.6 218.5,202.9 219.5,202.8 220.5,202.0 221.5,202.5" fill="none" stroke="#84c8ec" stroke-width="1.15" stroke-linejoin="round" stroke-opacity="1.0"/>
<polyline points="38.5,188.6 39.5,187.9 40.5,188.7 41.5,188.8 42.5,189.8 43.5,188.5 44.5,188.6 45.5,188.6 46.5,190.2 47.5,190.1 48.5,190.9 49.5,189.7 50.5,189.7 51.5,189.0 52.5,190.0 53.5,190.1 54.5,190.6 55.5,189.3 56.5,189.3 57.5,190.0 58.5,190.4 59.5,190.3 60.5,189.5 61.5,190.0 62.5,190.7 63.5,189.6 64.5,189.4 65.5,189.9 66.5,191.1 67.5,191.6 68.5,190.3 69.5,190.4 70.5,190.0 71.5,190.3 72.5,189.9 73.5,190.5 74.5,191.4 75.5,191.3 76.5,191.1 77.5,190.2 78.5,191.4 79.5,191.0 80.5,191.7 81.5,191.8 82.5,192.2 83.5,192.7 84.5,191.3 85.5,191.0 86.5,190.5 87.5,190.1 88.5,190.4 89.5,189.5 90.5,189.3 91.5,188.7 92.5,188.8 93.5,189.2 94.5,190.1 95.5,189.9 96.5,192.3 97.5,191.5 98.5,192.4 99.5,190.9 100.5,190.8 101.5,190.6 102.5,191.2 103.5,191.7 104.5,191.7 105.5,190.2 106.5,190.6 107.5,190.8 108.5,190.5 109.5,191.6 110.5,192.0 111.5,193.4 112.5,192.4 113.5,191.6 114.5,191.2 115.5,191.1 116.5,191.6 117.5,192.3 118.5,192.5 119.5,192.0 120.5,191.0 121.5,190.1 122.5,190.5 123.5,190.8 124.5,191.4 125.5,192.1 126.5,191.8 127.5,191.7 128.5,190.3 129.5,190.3 130.5,190.1 131.5,188.7 132.5,188.4 133.5,189.0 134.5,190.9 135.5,190.0 136.5,190.6 137.5,191.3 138.5,191.5 139.5,191.8 140.5,192.6 141.5,193.5 142.5,192.8 143.5,192.2 144.5,192.4 145.5,192.1 146.5,192.1 147.5,191.8 148.5,191.7 149.5,190.9 150.5,190.8 151.5,191.2 152.5,190.2 153.5,190.8 154.5,191.3 155.5,192.7 156.5,193.3 157.5,193.6 158.5,193.6 159.5,194.4 160.5,194.5 161.5,193.7 162.5,193.9 163.5,192.2 164.5,193.2 165.5,192.3 166.5,192.7 167.5,193.0 168.5,193.0 169.5,193.0 170.5,193.0 171.5,193.6 172.5,193.8 173.5,194.1 174.5,192.8 175.5,193.9 176.5,193.7 177.5,194.0 178.5,193.5 179.5,193.6 180.5,194.6 181.5,195.9 182.5,196.5 183.5,197.7 184.5,198.0 185.5,197.4 186.5,197.3 187.5,197.6 188.5,199.3 189.5,197.5 190.5,196.0 191.5,195.2 192.5,196.1 193.5,195.8 194.5,195.7 195.5,195.4 196.5,194.1 197.5,194.3 198.5,195.6 199.5,197.0 200.5,198.2 201.5,198.8 202.5,198.9 203.5,198.5 204.5,197.9 205.5,199.0 206.5,199.8 207.5,200.8 208.5,202.8 209.5,202.6 210.5,201.5 211.5,201.0 212.5,201.3 213.5,201.6 214.5,200.1 215.5,199.9 216.5,201.1 217.5,201.3 218.5,201.1 219.5,200.5 220.5,201.3 221.5,201.6" fill="none" stroke="#353535" stroke-width="1.15" stroke-linejoin="round" stroke-opacity="1.0"/>
<polyline points="38.5,189.5 39.5,189.4 40.5,189.5 41.5,189.1 42.5,188.7 43.5,188.3 44.5,189.2 45.5,189.9 46.5,190.5 47.5,191.6 48.5,191.6 49.5,191.9 50.5,191.7 51.5,192.0 52.5,191.3 53.5,190.3 54.5,190.8 55.5,191.1 56.5,190.4 57.5,191.1 58.5,190.9 59.5,191.8 60.5,191.6 61.5,192.1 62.5,192.5 63.5,193.2 64.5,193.8 65.5,196.0 66.5,196.9 67.5,197.4 68.5,196.5 69.5,196.1 70.5,196.9 71.5,196.6 72.5,196.1 73.5,196.4 74.5,197.3 75.5,196.9 76.5,194.8 77.5,192.8 78.5,192.8 79.5,192.7 80.5,192.3 81.5,190.1 82.5,190.3 83.5,190.5 84.5,191.7 85.5,191.8 86.5,191.5 87.5,191.4 88.5,191.6 89.5,190.6 90.5,190.6 91.5,190.4 92.5,190.4 93.5,190.3 94.5,189.2 95.5,190.2 96.5,189.7 97.5,188.9 98.5,189.9 99.5,190.9 100.5,191.2 101.5,190.2 102.5,190.7 103.5,190.1 104.5,190.1 105.5,190.4 106.5,191.7 107.5,192.6 108.5,192.0 109.5,193.0 110.5,192.5 111.5,192.8 112.5,192.3 113.5,192.0 114.5,192.3 115.5,193.2 116.5,193.4 117.5,192.4 118.5,190.9 119.5,190.6 120.5,191.1 121.5,190.6 122.5,190.5 123.5,190.7 124.5,190.1 125.5,191.0 126.5,189.5 127.5,190.4 128.5,190.8 129.5,191.8 130.5,192.2 131.5,191.8 132.5,192.2 133.5,191.8 134.5,191.2 135.5,190.3 136.5,191.1 137.5,190.2 138.5,190.7 139.5,190.0 140.5,190.5 141.5,190.3 142.5,190.6 143.5,190.3 144.5,190.6 145.5,189.5 146.5,189.9 147.5,189.3 148.5,189.8 149.5,190.1 150.5,190.4 151.5,191.9 152.5,191.4 153.5,193.0 154.5,193.0 155.5,193.9 156.5,192.9 157.5,193.1 158.5,193.5 159.5,194.2 160.5,193.8 161.5,193.9 162.5,193.2 163.5,192.9 164.5,193.3 165.5,193.4 166.5,194.4 167.5,195.3 168.5,195.4 169.5,194.8 170.5,194.2 171.5,195.0 172.5,194.9 173.5,194.0 174.5,193.5 175.5,194.5 176.5,196.2 177.5,196.5 178.5,195.6 179.5,194.9 180.5,195.0 181.5,195.7 182.5,196.6 183.5,196.8 184.5,196.1 185.5,194.9 186.5,194.6 187.5,194.5 188.5,195.5 189.5,195.5 190.5,196.2 191.5,195.7 192.5,196.1 193.5,196.5 194.5,197.4 195.5,198.8 196.5,199.4 197.5,199.0 198.5,198.8 199.5,199.4 200.5,200.0 201.5,199.2 202.5,199.2 203.5,199.8 204.5,199.7 205.5,199.4 206.5,198.5 207.5,198.0 208.5,197.7 209.5,198.6 210.5,199.2 211.5,199.9 212.5,200.0 213.5,200.0 214.5,199.5 215.5,200.4 216.5,201.6 217.5,201.9 218.5,201.0 219.5,200.6 220.5,201.2 221.5,200.2" fill="none" stroke="#9a9a9a" stroke-width="1.15" stroke-linejoin="round" stroke-opacity="1.0"/>
<polyline points="38.5,190.4 39.5,190.5 40.5,190.2 41.5,191.0 42.5,190.0 43.5,190.2 44.5,189.3 45.5,189.1 46.5,188.7 47.5,188.7 48.5,189.0 49.5,188.5 50.5,189.0 51.5,189.4 52.5,189.2 53.5,190.2 54.5,190.2 55.5,190.9 56.5,191.3 57.5,191.5 58.5,191.9 59.5,192.3 60.5,191.7 61.5,191.0 62.5,189.7 63.5,191.1 64.5,191.0 65.5,191.7 66.5,191.2 67.5,190.3 68.5,189.8 69.5,188.3 70.5,188.6 71.5,188.7 72.5,188.1 73.5,189.1 74.5,189.9 75.5,189.4 76.5,189.2 77.5,188.5 78.5,188.8 79.5,189.2 80.5,189.4 81.5,189.5 82.5,188.8 83.5,188.9 84.5,189.3 85.5,189.3 86.5,188.4 87.5,189.5 88.5,189.8 89.5,190.2 90.5,190.3 91.5,190.0 92.5,190.4 93.5,189.6 94.5,189.5 95.5,189.1 96.5,189.2 97.5,188.4 98.5,188.3 99.5,187.4 100.5,186.6 101.5,187.1 102.5,186.5 103.5,187.8 104.5,188.2 105.5,188.2 106.5,186.8 107.5,186.6 108.5,188.1 109.5,189.7 110.5,190.0 111.5,191.1 112.5,192.1 113.5,192.9 114.5,192.7 115.5,192.6 116.5,191.2 117.5,191.3 118.5,190.0 119.5,191.6 120.5,192.1 121.5,193.0 122.5,191.1 123.5,189.6 124.5,189.5 125.5,189.8 126.5,189.9 127.5,190.9 128.5,189.2 129.5,189.0 130.5,187.4 131.5,188.7 132.5,189.2 133.5,189.5 134.5,189.1 135.5,188.7 136.5,188.6 137.5,189.8 138.5,191.8 139.5,192.3 140.5,192.2 141.5,191.5 142.5,191.5 143.5,192.5 144.5,191.8 145.5,192.2 146.5,191.2 147.5,190.9 148.5,190.8 149.5,190.2 150.5,190.1 151.5,190.2 152.5,191.2 153.5,191.3 154.5,191.6 155.5,191.3 156.5,191.3 157.5,192.4 158.5,193.0 159.5,193.3 160.5,192.2 161.5,191.7 162.5,192.2 163.5,192.4 164.5,192.6 165.5,193.6 166.5,193.7 167.5,194.2 168.5,193.0 169.5,192.8 170.5,192.2 171.5,193.8 172.5,195.0 173.5,196.7 174.5,196.3 175.5,196.1 176.5,195.4 177.5,196.0 178.5,194.2 179.5,193.3 180.5,192.9 181.5,194.1 182.5,195.5 183.5,195.5 184.5,195.4 185.5,194.8 186.5,194.9 187.5,194.2 188.5,194.2 189.5,193.6 190.5,194.6 191.5,195.6 192.5,195.7 193.5,196.5 194.5,197.1 195.5,196.4 196.5,197.1 197.5,196.0 198.5,196.8 199.5,196.6 200.5,196.8 201.5,196.6 202.5,197.0 203.5,197.0 204.5,198.1 205.5,199.0 206.5,200.2 207.5,200.0 208.5,200.9 209.5,201.2 210.5,200.9 211.5,201.1 212.5,200.5 213.5,201.1 214.5,201.1 215.5,200.5 216.5,200.4 217.5,200.0 218.5,199.6 219.5,199.9 220.5,199.4 221.5,201.5" fill="none" stroke="#d0d0d0" stroke-width="1.15" stroke-linejoin="round" stroke-opacity="1.0"/>
<polyline points="38.5,213.1 39.5,211.9 40.5,212.1 41.5,211.9 42.5,211.2 43.5,211.9 44.5,212.8 45.5,213.9 46.5,214.5 47.5,214.0 48.5,213.9 49.5,214.0 50.5,213.1 51.5,212.8 52.5,212.7 53.5,212.9 54.5,212.9 55.5,213.1 56.5,214.2 57.5,214.1 58.5,213.1 59.5,212.6 60.5,213.1 61.5,213.1 62.5,213.2 63.5,213.3 64.5,213.7 65.5,214.9 66.5,215.3 67.5,215.7 68.5,214.7 69.5,215.5 70.5,215.7 71.5,214.8 72.5,213.4 73.5,212.9 74.5,213.0 75.5,212.9 76.5,213.0 77.5,213.3 78.5,212.9 79.5,213.2 80.5,212.4 81.5,213.1 82.5,212.7 83.5,213.6 84.5,212.0 85.5,212.9 86.5,211.8 87.5,212.6 88.5,212.1 89.5,212.6 90.5,212.9 91.5,211.4 92.5,211.5 93.5,211.8 94.5,213.3 95.5,213.4 96.5,213.4 97.5,213.3 98.5,213.1 99.5,212.6 100.5,213.3 101.5,213.3 102.5,214.3 103.5,213.3 104.5,214.5 105.5,213.5 106.5,213.8 107.5,213.2 108.5,213.4 109.5,213.3 110.5,212.7 111.5,212.8 112.5,212.4 113.5,213.2 114.5,213.2 115.5,212.7 116.5,212.1 117.5,212.1 118.5,212.4 119.5,213.2 120.5,213.5 121.5,214.4 122.5,213.3 123.5,212.9 124.5,213.0 125.5,212.6 126.5,213.0 127.5,212.6 128.5,213.0 129.5,212.9 130.5,212.3 131.5,212.7 132.5,212.0 133.5,212.0 134.5,212.6 135.5,212.9 136.5,212.5 137.5,212.2 138.5,212.2 139.5,211.5 140.5,211.0 141.5,211.9 142.5,213.9 143.5,214.8 144.5,214.3 145.5,214.5 146.5,213.1 147.5,213.2 148.5,213.7 149.5,214.5 150.5,214.5 151.5,212.8 152.5,212.3 153.5,211.6 154.5,213.0 155.5,212.9 156.5,213.7 157.5,212.8 158.5,214.2 159.5,213.4 160.5,214.0 161.5,214.4 162.5,215.2 163.5,214.6 164.5,213.6 165.5,214.0 166.5,215.0 167.5,213.6 168.5,213.3 169.5,211.7 170.5,213.7 171.5,213.7 172.5,214.6 173.5,213.9 174.5,214.2 175.5,213.8 176.5,214.3 177.5,214.0 178.5,213.7 179.5,213.6 180.5,214.5 181.5,216.1 182.5,215.7 183.5,214.4 184.5,214.3 185.5,215.0 186.5,215.9 187.5,216.2 188.5,214.9 189.5,215.0 190.5,214.8 191.5,214.7 192.5,213.5 193.5,212.9 194.5,214.0 195.5,215.3 196.5,215.8 197.5,215.9 198.5,215.9 199.5,216.3 200.5,216.9 201.5,217.4 202.5,217.6 203.5,217.7 204.5,217.4 205.5,218.1 206.5,217.9 207.5,219.3 208.5,219.1 209.5,219.7 210.5,218.7 211.5,218.8 212.5,219.0 213.5,219.6 214.5,219.7 215.5,219.2 216.5,219.5 217.5,220.1 218.5,221.3 219.5,222.1 220.5,222.1 221.5,221.0" fill="none" stroke="#f7a26e" stroke-width="1.15" stroke-linejoin="round" stroke-opacity="1.0"/>
<polyline points="38.5,210.4 39.5,211.0 40.5,212.3 41.5,212.6 42.5,211.7 43.5,211.4 44.5,210.8 45.5,211.4 46.5,211.3 47.5,213.2 48.5,212.4 49.5,213.1 50.5,211.8 51.5,212.9 52.5,211.8 53.5,212.6 54.5,211.8 55.5,211.9 56.5,211.4 57.5,211.9 58.5,212.6 59.5,213.5 60.5,213.7 61.5,212.1 62.5,211.1 63.5,209.6 64.5,210.8 65.5,211.3 66.5,211.7 67.5,211.3 68.5,211.0 69.5,211.6 70.5,213.0 71.5,213.1 72.5,213.6 73.5,213.7 74.5,213.2 75.5,212.9 76.5,211.5 77.5,211.9 78.5,212.5 79.5,213.7 80.5,213.6 81.5,212.7 82.5,211.5 83.5,210.8 84.5,211.3 85.5,212.4 86.5,211.9 87.5,210.7 88.5,210.7 89.5,211.1 90.5,212.4 91.5,211.0 92.5,212.3 93.5,212.6 94.5,213.3 95.5,213.3 96.5,213.0 97.5,213.2 98.5,213.7 99.5,214.3 100.5,213.6 101.5,212.3 102.5,211.6 103.5,211.8 104.5,212.3 105.5,212.1 106.5,212.5 107.5,212.5 108.5,213.0 109.5,212.7 110.5,213.0 111.5,212.2 112.5,213.0 113.5,212.9 114.5,213.8 115.5,213.3 116.5,213.7 117.5,213.8 118.5,213.6 119.5,213.0 120.5,211.7 121.5,211.7 122.5,211.7 123.5,212.4 124.5,213.5 125.5,212.7 126.5,212.9 127.5,212.3 128.5,213.8 129.5,214.4 130.5,213.1 131.5,212.1 132.5,211.8 133.5,212.3 134.5,213.8 135.5,213.6 136.5,213.9 137.5,213.2 138.5,213.0 139.5,212.9 140.5,212.4 141.5,212.5 142.5,212.2 143.5,212.7 144.5,212.0 145.5,211.5 146.5,211.6 147.5,212.5 148.5,212.8 149.5,212.4 150.5,211.8 151.5,213.4 152.5,212.7 153.5,214.2 154.5,212.7 155.5,213.8 156.5,212.7 157.5,213.0 158.5,213.3 159.5,213.9 160.5,213.9 161.5,213.0 162.5,213.6 163.5,214.6 164.5,215.1 165.5,213.9 166.5,213.3 167.5,213.3 168.5,214.1 169.5,213.5 170.5,213.4 171.5,212.4 172.5,213.6 173.5,214.6 174.5,215.0 175.5,214.6 176.5,214.4 177.5,214.3 178.5,213.5 179.5,213.4 180.5,213.8 181.5,214.2 182.5,214.4 183.5,214.3 184.5,213.5 185.5,212.9 186.5,212.8 187.5,214.7 188.5,214.6 189.5,214.5 190.5,213.9 191.5,214.3 192.5,213.9 193.5,213.9 194.5,213.9 195.5,215.6 196.5,217.0 197.5,216.9 198.5,215.8 199.5,214.4 200.5,214.8 201.5,215.2 202.5,215.9 203.5,217.1 204.5,217.0 205.5,216.4 206.5,215.1 207.5,216.6 208.5,218.4 209.5,218.8 210.5,217.6 211.5,217.2 212.5,218.8 213.5,220.4 214.5,220.7 215.5,220.7 216.5,220.6 217.5,220.4 218.5,221.3 219.5,221.4 220.5,221.3 221.5,220.3" fill="none" stroke="#f5763f" stroke-width="1.15" stroke-linejoin="round" stroke-opacity="1.0"/>
<polyline points="38.5,208.9 39.5,209.1 40.5,209.6 41.5,210.0 42.5,210.7 43.5,209.8 44.5,208.5 45.5,208.3 46.5,208.2 47.5,208.1 48.5,208.1 49.5,208.6 50.5,209.4 51.5,209.0 52.5,209.9 53.5,210.1 54.5,211.0 55.5,210.0 56.5,210.3 57.5,209.8 58.5,210.8 59.5,210.5 60.5,210.3 61.5,209.4 62.5,209.7 63.5,210.6 64.5,210.7 65.5,210.0 66.5,209.7 67.5,209.4 68.5,209.3 69.5,208.9 70.5,209.1 71.5,209.4 72.5,209.3 73.5,209.8 74.5,209.7 75.5,210.4 76.5,210.5 77.5,211.0 78.5,210.9 79.5,210.9 80.5,210.3 81.5,210.3 82.5,209.6 83.5,209.6 84.5,209.7 85.5,210.1 86.5,210.4 87.5,209.6 88.5,210.3 89.5,209.8 90.5,210.5 91.5,209.9 92.5,210.6 93.5,210.2 94.5,209.9 95.5,208.7 96.5,208.7 97.5,208.7 98.5,209.7 99.5,210.5 100.5,210.0 101.5,209.3 102.5,208.8 103.5,210.3 104.5,211.0 105.5,211.0 106.5,210.7 107.5,210.8 108.5,211.4 109.5,211.5 110.5,210.7 111.5,209.9 112.5,209.7 113.5,209.9 114.5,210.0 115.5,209.7 116.5,209.8 117.5,210.2 118.5,210.3 119.5,210.1 120.5,209.5 121.5,209.7 122.5,211.1 123.5,211.5 124.5,212.2 125.5,211.5 126.5,210.5 127.5,210.0 128.5,209.5 129.5,209.8 130.5,209.2 131.5,210.4 132.5,210.3 133.5,210.6 134.5,210.3 135.5,211.3 136.5,210.9 137.5,210.4 138.5,209.9 139.5,210.6 140.5,211.0 141.5,211.0 142.5,211.0 143.5,211.3 144.5,210.8 145.5,210.8 146.5,210.4 147.5,210.7 148.5,210.6 149.5,209.9 150.5,210.5 151.5,210.6 152.5,211.5 153.5,211.9 154.5,212.2 155.5,211.8 156.5,211.5 157.5,211.5 158.5,211.2 159.5,211.6 160.5,211.7 161.5,212.6 162.5,211.6 163.5,211.9 164.5,212.5 165.5,213.3 166.5,212.4 167.5,211.5 168.5,211.3 169.5,212.0 170.5,211.9 171.5,212.2 172.5,211.9 173.5,212.2 174.5,211.7 175.5,212.0 176.5,212.3 177.5,212.5 178.5,212.7 179.5,212.0 180.5,212.0 181.5,211.7 182.5,212.6 183.5,212.5 184.5,213.1 185.5,212.0 186.5,212.3 187.5,212.2 188.5,213.2 189.5,212.8 190.5,212.1 191.5,212.3 192.5,212.4 193.5,213.4 194.5,213.0 195.5,213.8 196.5,214.7 197.5,215.8 198.5,216.4 199.5,215.0 200.5,214.7 201.5,214.6 202.5,215.3 203.5,215.9 204.5,215.4 205.5,215.8 206.5,215.5 207.5,216.1 208.5,216.9 209.5,216.5 210.5,217.0 211.5,216.5 212.5,216.4 213.5,215.9 214.5,215.7 215.5,217.2 216.5,218.4 217.5,219.3 218.5,219.2 219.5,218.1 220.5,218.2 221.5,218.0" fill="none" stroke="#a3282c" stroke-width="1.15" stroke-linejoin="round" stroke-opacity="1.0"/>
<polyline points="202.3,229.6 203.3,229.8 204.3,230.7 205.3,229.6 206.3,229.8 207.3,228.3 208.3,229.4 209.3,228.4 210.3,230.4 211.3,228.7 212.3,229.7 213.3,229.3 214.3,229.7 215.3,230.6 216.3,229.9 217.3,230.7 218.3,229.8 219.3,232.0 220.3,230.4 221.3,231.9 221.5,232.9" fill="none" stroke="#a56cf0" stroke-width="1.2" stroke-linejoin="round" stroke-opacity="1.0"/>
<polyline points="221.5,205.8 222.5,206.2 223.5,206.4 224.5,207.3 225.5,206.4 226.5,205.2 227.5,203.8 228.5,205.1 229.5,205.5 230.5,206.0 231.5,202.6 232.5,203.9 233.5,206.9 234.5,205.2 235.5,206.5 236.5,208.5 237.5,206.3 238.5,207.1 239.5,206.6 240.5,207.4 241.5,207.7 242.5,205.0 243.5,207.2 244.5,204.5 245.5,204.8 246.5,206.7 247.5,205.1 248.5,204.8 249.5,205.1 250.5,205.9 251.5,206.1 252.5,206.3 253.5,208.4 254.5,208.2 255.5,208.5 256.5,206.0 257.5,206.2 258.5,205.2 259.5,206.2 260.5,205.0 261.5,205.3 262.5,205.4 263.5,205.2 264.5,205.9 265.5,205.7 266.5,206.4 267.5,205.9 268.5,206.9 269.5,205.0 270.5,204.2 271.5,203.9 272.5,204.0 273.5,202.8 274.5,202.8 275.5,202.2 276.5,204.4 277.5,202.9 278.5,203.3 279.5,205.7 280.5,206.4 281.5,203.8 282.5,207.1 283.5,205.5 284.5,206.5 285.5,206.2 286.5,208.1 287.5,205.8 288.5,205.0 289.5,204.9 290.5,207.0 291.5,206.3 292.5,206.9 293.5,207.3 294.5,206.0 295.5,206.3 296.5,207.5 297.5,207.3 298.5,207.5 299.5,207.1 300.5,205.1 301.5,204.9 302.5,205.7 303.5,207.2 304.5,208.0 305.5,207.4 306.5,206.6 307.5,207.9 308.5,208.3 309.5,208.6 310.5,207.7 311.5,207.8 312.5,207.4 312.6,207.2" fill="none" stroke="#18186f" stroke-width="1.15" stroke-linejoin="round" stroke-opacity="1.0"/>
<polyline points="221.5,207.0 222.5,208.2 223.5,209.0 224.5,206.6 225.5,206.4 226.5,207.4 227.5,206.3 228.5,208.5 229.5,208.5 230.5,209.1 231.5,207.1 232.5,207.5 233.5,209.8 234.5,207.6 235.5,206.7 236.5,207.4 237.5,205.8 238.5,204.5 239.5,203.4 240.5,204.0 241.5,203.4 242.5,201.1 243.5,202.7 244.5,203.2 245.5,204.6 246.5,203.1 247.5,203.5 248.5,206.3 249.5,205.3 250.5,206.7 251.5,207.0 252.5,206.8 253.5,205.8 254.5,204.3 255.5,207.0 256.5,205.0 257.5,204.9 258.5,206.7 259.5,206.4 260.5,205.2 261.5,205.6 262.5,205.6 263.5,205.1 264.5,203.6 265.5,207.0 266.5,207.9 267.5,207.5 268.5,206.8 269.5,206.6 270.5,207.5 271.5,206.7 272.5,208.1 273.5,208.2 274.5,209.0 275.5,207.4 276.5,206.8 277.5,207.3 278.5,209.1 279.5,206.3 280.5,206.3 281.5,204.9 282.5,206.0 283.5,205.4 284.5,206.1 285.5,206.1 286.5,205.8 287.5,207.5 288.5,207.0 289.5,206.1 290.5,209.7 291.5,208.8 292.5,207.9 293.5,207.9 294.5,205.7 295.5,205.4 296.5,205.3 297.5,206.6 298.5,206.6 299.5,204.8 300.5,206.5 301.5,205.3 302.5,207.4 303.5,207.7 304.5,208.2 305.5,208.4 306.5,209.3 307.5,207.5 308.5,206.5 309.5,207.6 310.5,204.0 311.5,204.6 312.5,205.1 312.6,204.8" fill="none" stroke="#1f7ff0" stroke-width="1.15" stroke-linejoin="round" stroke-opacity="1.0"/>
<polyline points="221.5,205.8 222.5,207.2 223.5,205.4 224.5,207.7 225.5,205.3 226.5,205.1 227.5,204.5 228.5,205.9 229.5,206.1 230.5,205.6 231.5,206.0 232.5,204.1 233.5,205.8 234.5,205.5 235.5,206.0 236.5,205.5 237.5,204.3 238.5,204.2 239.5,204.2 240.5,205.3 241.5,204.3 242.5,204.6 243.5,201.8 244.5,205.3 245.5,202.9 246.5,205.1 247.5,202.4 248.5,204.5 249.5,205.1 250.5,206.3 251.5,205.6 252.5,206.1 253.5,205.1 254.5,205.3 255.5,207.1 256.5,206.3 257.5,206.8 258.5,205.7 259.5,204.5 260.5,206.9 261.5,208.0 262.5,210.3 263.5,208.1 264.5,206.9 265.5,206.4 266.5,205.2 267.5,206.2 268.5,203.5 269.5,205.9 270.5,204.3 271.5,203.5 272.5,202.1 273.5,204.7 274.5,205.7 275.5,205.0 276.5,204.2 277.5,205.3 278.5,205.8 279.5,206.4 280.5,208.1 281.5,206.6 282.5,206.9 283.5,206.6 284.5,206.1 285.5,207.3 286.5,206.7 287.5,207.1 288.5,207.5 289.5,209.6 290.5,208.0 291.5,206.0 292.5,207.6 293.5,209.5 294.5,208.4 295.5,208.5 296.5,207.5 297.5,207.8 298.5,206.5 299.5,206.8 300.5,205.2 301.5,205.1 302.5,203.6 303.5,206.3 304.5,204.4 305.5,204.4 306.5,204.6 307.5,203.4 308.5,205.4 309.5,206.0 310.5,205.6 311.5,204.9 312.5,204.1 312.6,205.6" fill="none" stroke="#84c8ec" stroke-width="1.15" stroke-linejoin="round" stroke-opacity="1.0"/>
<polyline points="221.5,221.7 222.5,221.3 223.5,223.1 224.5,220.8 225.5,222.6 226.5,223.1 227.5,219.7 228.5,222.1 229.5,220.6 230.5,222.6 231.5,224.7 232.5,224.4 233.5,225.0 234.5,224.2 235.5,225.5 236.5,227.4 237.5,225.9 238.5,225.9 239.5,226.2 240.5,226.2 241.5,224.4 242.5,225.3 243.5,224.9 244.5,225.7 245.5,226.2 246.5,225.8 247.5,227.3 248.5,225.8 249.5,225.5 250.5,224.5 251.5,225.6 252.5,225.0 253.5,224.3 254.5,223.9 255.5,224.8 256.5,223.4 257.5,223.4 258.5,221.7 259.5,222.7 260.5,222.5 261.5,220.5 262.5,222.3 263.5,219.9 264.5,222.4 265.5,223.7 266.5,223.7 267.5,225.8 268.5,225.3 269.5,224.6 270.5,226.4 271.5,226.2 272.5,225.7 273.5,225.8 274.5,226.6 275.5,226.7 276.5,226.9 277.5,225.8 278.5,225.4 279.5,225.8 280.5,227.2 281.5,226.6 282.5,229.1 283.5,227.3 284.5,226.9 285.5,226.3 286.5,229.5 287.5,226.6 288.5,227.0 289.5,227.6 290.5,226.7 291.5,226.3 292.5,227.6 293.5,226.0 294.5,227.9 295.5,226.3 296.5,228.3 297.5,228.1 298.5,225.5 299.5,228.4 300.5,226.6 301.5,228.0 302.5,226.5 303.5,226.8 304.5,226.3 305.5,228.2 306.5,227.5 307.5,228.1 308.5,228.0 309.5,227.7 310.5,227.2 311.5,227.8 312.5,228.8 312.6,229.0" fill="none" stroke="#a3282c" stroke-width="1.15" stroke-linejoin="round" stroke-opacity="1.0"/>
<polyline points="221.5,220.4 222.5,223.1 223.5,222.2 224.5,221.1 225.5,223.5 226.5,222.3 227.5,220.9 228.5,221.2 229.5,220.2 230.5,222.7 231.5,221.8 232.5,221.5 233.5,222.4 234.5,221.9 235.5,221.0 236.5,221.1 237.5,222.2 238.5,223.0 239.5,220.9 240.5,220.1 241.5,221.4 242.5,221.5 243.5,220.1 244.5,221.7 245.5,219.6 246.5,220.8 247.5,220.2 248.5,222.7 249.5,222.8 250.5,223.5 251.5,220.7 252.5,223.8 253.5,224.0 254.5,223.3 255.5,226.3 256.5,224.0 257.5,223.0 258.5,225.2 259.5,223.7 260.5,227.5 261.5,226.9 262.5,226.5 263.5,227.1 264.5,226.0 265.5,227.1 266.5,225.0 267.5,223.4 268.5,223.2 269.5,224.4 270.5,223.0 271.5,223.3 272.5,223.8 273.5,223.5 274.5,223.6 275.5,226.5 276.5,225.9 277.5,226.3 278.5,226.9 279.5,225.3 280.5,225.8 281.5,227.8 282.5,225.4 283.5,225.1 284.5,225.5 285.5,225.5 286.5,225.1 287.5,225.7 288.5,226.5 289.5,226.9 290.5,228.2 291.5,227.4 292.5,226.6 293.5,227.6 294.5,226.1 295.5,226.0 296.5,224.7 297.5,222.0 298.5,223.7 299.5,222.9 300.5,223.2 301.5,224.6 302.5,225.2 303.5,224.5 304.5,226.3 305.5,226.7 306.5,227.7 307.5,224.6 308.5,225.4 309.5,226.6 310.5,226.6 311.5,226.7 312.5,228.0 312.6,228.9" fill="none" stroke="#f5763f" stroke-width="1.15" stroke-linejoin="round" stroke-opacity="1.0"/>
<polyline points="221.5,222.6 222.5,221.8 223.5,223.6 224.5,223.1 225.5,221.6 226.5,223.5 227.5,222.4 228.5,222.8 229.5,222.8 230.5,223.6 231.5,223.5 232.5,223.7 233.5,222.5 234.5,224.2 235.5,223.9 236.5,224.2 237.5,225.4 238.5,223.5 239.5,224.8 240.5,225.4 241.5,224.2 242.5,222.9 243.5,222.4 244.5,222.4 245.5,223.0 246.5,224.6 247.5,223.1 248.5,221.2 249.5,222.4 250.5,221.4 251.5,221.3 252.5,225.3 253.5,224.8 254.5,222.1 255.5,222.5 256.5,223.4 257.5,222.2 258.5,221.0 259.5,220.6 260.5,220.5 261.5,220.2 262.5,221.2 263.5,221.6 264.5,220.9 265.5,222.3 266.5,222.4 267.5,225.5 268.5,224.3 269.5,224.7 270.5,224.6 271.5,224.5 272.5,224.0 273.5,225.3 274.5,221.6 275.5,222.1 276.5,222.7 277.5,222.8 278.5,224.3 279.5,226.6 280.5,224.5 281.5,224.7 282.5,224.3 283.5,225.7 284.5,226.4 285.5,226.0 286.5,225.3 287.5,224.2 288.5,224.2 289.5,226.4 290.5,224.7 291.5,227.3 292.5,225.0 293.5,225.9 294.5,226.1 295.5,226.0 296.5,225.7 297.5,229.3 298.5,225.9 299.5,226.7 300.5,229.1 301.5,229.2 302.5,231.4 303.5,230.1 304.5,228.7 305.5,227.3 306.5,228.1 307.5,226.4 308.5,226.4 309.5,226.6 310.5,226.0 311.5,225.8 312.5,226.2 312.6,227.7" fill="none" stroke="#f7a26e" stroke-width="1.15" stroke-linejoin="round" stroke-opacity="1.0"/>
<polyline points="221.5,206.8 222.5,206.5 223.5,206.5 224.5,205.6 225.5,204.7 226.5,205.4 227.5,204.6 228.5,205.0 229.5,203.3 230.5,205.0 231.5,204.5 232.5,204.2 233.5,205.9 234.5,207.0 235.5,204.5 236.5,206.4 237.5,206.8 238.5,205.9 239.5,206.1 240.5,207.2 241.5,207.3 242.5,206.9 243.5,209.1 244.5,206.3 245.5,205.8 246.5,204.6 247.5,206.6 248.5,206.7 249.5,209.2 250.5,207.3 251.5,205.7 252.5,208.0 253.5,208.0 254.5,206.5 255.5,207.8 256.5,207.1 257.5,207.1 258.5,206.2 259.5,207.1 260.5,207.7 261.5,207.6 262.5,206.9 263.5,209.8 264.5,208.0 265.5,209.2 266.5,207.9 267.5,207.9 268.5,209.0 269.5,210.1 270.5,209.3 271.5,208.6 272.5,209.7 273.5,209.9 274.5,209.9 275.5,208.4 276.5,207.9 277.5,206.9 278.5,204.2 279.5,204.1 280.5,206.2 281.5,206.4 282.5,206.2 283.5,206.0 284.5,207.2 285.5,206.9 286.5,205.0 287.5,206.9 288.5,210.0 289.5,210.4 290.5,210.1 291.5,209.1 292.5,209.5 293.5,208.6 294.5,208.3 295.5,207.6 296.5,209.1 297.5,208.5 298.5,208.7 299.5,210.2 300.5,209.7 301.5,209.3 302.5,211.0 303.5,210.1 304.5,212.5 305.5,212.5 306.5,211.8 307.5,211.7 308.5,211.4 309.5,210.7 310.5,210.0 311.5,212.7 312.5,210.5 312.6,211.2" fill="none" stroke="#353535" stroke-width="1.15" stroke-linejoin="round" stroke-opacity="1.0"/>
<polyline points="221.5,209.7 222.5,207.2 223.5,207.3 224.5,207.4 225.5,206.4 226.5,206.6 227.5,208.9 228.5,209.4 229.5,208.2 230.5,209.0 231.5,206.5 232.5,207.2 233.5,208.4 234.5,207.0 235.5,205.8 236.5,203.7 237.5,206.7 238.5,205.9 239.5,205.4 240.5,207.6 241.5,207.6 242.5,207.4 243.5,207.2 244.5,207.6 245.5,206.5 246.5,206.3 247.5,207.3 248.5,205.8 249.5,204.2 250.5,205.3 251.5,206.3 252.5,206.3 253.5,207.5 254.5,208.2 255.5,209.2 256.5,210.3 257.5,211.3 258.5,211.9 259.5,213.6 260.5,210.7 261.5,209.6 262.5,211.5 263.5,211.4 264.5,209.0 265.5,208.7 266.5,207.7 267.5,208.5 268.5,208.3 269.5,207.2 270.5,207.9 271.5,207.6 272.5,207.8 273.5,208.9 274.5,208.4 275.5,208.7 276.5,208.0 277.5,208.7 278.5,209.5 279.5,209.0 280.5,209.2 281.5,208.2 282.5,208.5 283.5,209.3 284.5,207.2 285.5,206.4 286.5,208.8 287.5,207.8 288.5,207.7 289.5,208.5 290.5,207.4 291.5,206.8 292.5,206.9 293.5,207.2 294.5,208.4 295.5,207.6 296.5,208.6 297.5,207.2 298.5,207.4 299.5,207.6 300.5,206.1 301.5,206.6 302.5,208.4 303.5,208.7 304.5,208.1 305.5,208.0 306.5,207.6 307.5,207.7 308.5,208.5 309.5,210.0 310.5,208.2 311.5,207.0 312.5,206.2 312.6,209.5" fill="none" stroke="#9a9a9a" stroke-width="1.15" stroke-linejoin="round" stroke-opacity="1.0"/>
<polyline points="221.5,205.0 222.5,206.1 223.5,206.8 224.5,204.8 225.5,205.7 226.5,206.9 227.5,204.9 228.5,206.8 229.5,206.6 230.5,206.5 231.5,207.6 232.5,207.0 233.5,207.3 234.5,207.7 235.5,207.1 236.5,207.4 237.5,205.8 238.5,206.5 239.5,207.5 240.5,207.1 241.5,206.5 242.5,205.4 243.5,205.2 244.5,205.9 245.5,206.4 246.5,205.1 247.5,205.9 248.5,204.0 249.5,204.8 250.5,203.1 251.5,204.6 252.5,204.1 253.5,206.0 254.5,206.5 255.5,205.3 256.5,206.1 257.5,206.8 258.5,205.9 259.5,206.0 260.5,205.8 261.5,206.9 262.5,207.5 263.5,206.5 264.5,207.0 265.5,207.5 266.5,207.1 267.5,207.8 268.5,209.9 269.5,210.3 270.5,211.0 271.5,210.7 272.5,212.2 273.5,210.2 274.5,210.7 275.5,209.5 276.5,209.5 277.5,209.5 278.5,208.6 279.5,208.9 280.5,208.3 281.5,206.3 282.5,205.3 283.5,208.6 284.5,206.6 285.5,208.5 286.5,206.8 287.5,206.0 288.5,206.3 289.5,206.3 290.5,207.5 291.5,206.3 292.5,206.7 293.5,207.7 294.5,207.3 295.5,209.8 296.5,208.2 297.5,209.2 298.5,207.0 299.5,205.9 300.5,210.4 301.5,210.6 302.5,209.6 303.5,205.7 304.5,207.4 305.5,207.2 306.5,207.1 307.5,207.5 308.5,207.6 309.5,207.8 310.5,206.1 311.5,207.5 312.5,208.3 312.6,206.9" fill="none" stroke="#d0d0d0" stroke-width="1.15" stroke-linejoin="round" stroke-opacity="1.0"/>
<polyline points="312.6,201.8 313.6,201.0 314.6,200.9 315.6,202.3 316.6,201.8 317.6,202.9 318.6,202.5 319.6,203.2 320.6,202.6 321.6,204.0 322.6,204.2 323.6,204.6 324.6,204.0 325.6,205.6 326.6,204.8 327.6,208.5 328.6,206.2 329.6,207.3 330.6,206.9 331.6,206.4 332.6,207.6 333.6,207.2 334.6,205.9 335.6,206.2 336.6,206.9 337.6,206.5 338.6,208.7 339.6,205.7 340.6,206.9 341.6,207.3 342.6,208.7 343.6,207.4 344.6,206.9 345.6,207.9 346.6,208.2 347.6,207.1 348.6,207.8 349.6,209.1 350.6,211.1 351.6,210.5 352.6,211.5 353.6,212.0 354.6,212.8 355.6,214.0 356.6,214.1 357.6,214.0 358.6,213.8 359.6,214.7 360.6,215.8 361.6,215.1 362.6,214.1 363.6,215.3 364.6,215.9 365.6,216.1 366.6,216.4 367.6,217.8 368.6,219.7 369.6,217.1 370.6,216.9 371.6,217.6 372.6,218.5 373.6,217.6 374.6,218.5 375.6,220.1 376.6,220.1 377.6,220.5 378.6,220.1 379.6,219.5 380.6,221.1 381.6,219.5 382.6,220.0 383.6,218.2 384.6,221.0 385.6,221.1 386.6,220.4 387.6,220.3 388.6,220.6 389.6,220.6 390.6,221.6 391.6,221.7 392.6,222.7 393.6,220.8 394.6,222.2 395.6,221.3 396.6,225.7 397.6,224.7 398.6,224.9 399.6,225.2 400.6,225.2 401.6,224.5 402.6,222.3 403.6,222.2 403.8,219.7" fill="none" stroke="#18186f" stroke-width="1.15" stroke-linejoin="round" stroke-opacity="1.0"/>
<polyline points="312.6,202.4 313.6,204.4 314.6,202.1 315.6,201.5 316.6,201.3 317.6,201.8 318.6,201.4 319.6,202.4 320.6,201.7 321.6,202.5 322.6,202.2 323.6,204.9 324.6,204.7 325.6,203.8 326.6,206.3 327.6,206.3 328.6,206.8 329.6,206.4 330.6,205.0 331.6,205.9 332.6,203.8 333.6,205.0 334.6,204.5 335.6,203.7 336.6,207.2 337.6,208.2 338.6,206.4 339.6,209.1 340.6,208.9 341.6,208.8 342.6,208.3 343.6,211.5 344.6,209.8 345.6,210.1 346.6,209.3 347.6,209.4 348.6,210.7 349.6,210.1 350.6,211.0 351.6,211.0 352.6,211.5 353.6,213.3 354.6,212.7 355.6,213.1 356.6,212.0 357.6,213.2 358.6,212.4 359.6,212.7 360.6,213.7 361.6,212.5 362.6,210.8 363.6,211.0 364.6,210.9 365.6,213.3 366.6,213.4 367.6,212.5 368.6,214.3 369.6,214.2 370.6,214.3 371.6,216.2 372.6,216.4 373.6,217.0 374.6,215.5 375.6,217.7 376.6,219.3 377.6,217.1 378.6,220.3 379.6,218.3 380.6,218.1 381.6,218.5 382.6,217.9 383.6,218.7 384.6,218.0 385.6,219.9 386.6,219.7 387.6,220.6 388.6,218.4 389.6,220.2 390.6,221.9 391.6,222.2 392.6,222.3 393.6,222.5 394.6,222.6 395.6,223.7 396.6,224.4 397.6,225.9 398.6,225.5 399.6,225.0 400.6,224.3 401.6,225.4 402.6,225.9 403.6,225.4 403.8,227.8" fill="none" stroke="#1f7ff0" stroke-width="1.15" stroke-linejoin="round" stroke-opacity="1.0"/>
<polyline points="312.6,202.7 313.6,201.0 314.6,205.4 315.6,202.6 316.6,199.8 317.6,199.5 318.6,202.0 319.6,199.9 320.6,201.1 321.6,201.1 322.6,202.8 323.6,199.9 324.6,202.2 325.6,203.2 326.6,203.7 327.6,201.5 328.6,204.3 329.6,202.9 330.6,202.5 331.6,203.5 332.6,205.2 333.6,205.0 334.6,207.0 335.6,208.0 336.6,207.9 337.6,206.8 338.6,206.6 339.6,208.6 340.6,209.7 341.6,207.0 342.6,205.6 343.6,206.8 344.6,206.1 345.6,205.1 346.6,205.6 347.6,205.9 348.6,208.6 349.6,206.1 350.6,210.0 351.6,209.6 352.6,210.5 353.6,211.6 354.6,210.6 355.6,211.4 356.6,210.3 357.6,210.2 358.6,210.3 359.6,211.7 360.6,210.8 361.6,209.2 362.6,211.3 363.6,211.3 364.6,210.7 365.6,210.5 366.6,210.2 367.6,213.7 368.6,212.6 369.6,212.8 370.6,213.7 371.6,215.1 372.6,215.1 373.6,215.4 374.6,215.9 375.6,216.3 376.6,216.4 377.6,215.1 378.6,217.2 379.6,217.4 380.6,216.3 381.6,214.7 382.6,215.3 383.6,214.3 384.6,215.3 385.6,214.8 386.6,216.0 387.6,216.0 388.6,216.5 389.6,218.7 390.6,219.8 391.6,219.9 392.6,221.1 393.6,221.9 394.6,223.5 395.6,221.2 396.6,219.9 397.6,221.0 398.6,218.5 399.6,220.6 400.6,220.5 401.6,220.4 402.6,218.4 403.6,220.6 403.8,220.9" fill="none" stroke="#84c8ec" stroke-width="1.15" stroke-linejoin="round" stroke-opacity="1.0"/>
<polyline points="312.6,219.1 313.6,219.3 314.6,220.2 315.6,221.7 316.6,221.8 317.6,219.4 318.6,220.6 319.6,221.7 320.6,220.6 321.6,221.9 322.6,223.1 323.6,224.0 324.6,224.0 325.6,226.3 326.6,226.5 327.6,226.3 328.6,226.2 329.6,228.7 330.6,227.3 331.6,227.4 332.6,228.0 333.6,228.2 334.6,227.1 335.6,226.6 336.6,226.8 337.6,226.2 338.6,226.1 339.6,226.6 340.6,226.1 341.6,227.6 342.6,226.4 343.6,229.2 344.6,228.5 345.6,227.1 346.6,228.4 347.6,226.4 348.6,230.9 349.6,230.9 350.6,231.8 351.6,230.2 352.6,233.3 353.6,230.6 354.6,232.8 355.6,234.5 356.6,234.0 357.6,232.9 358.6,233.7 359.6,231.7 360.6,233.7 361.6,232.3 362.6,234.8 363.6,232.8 364.6,235.9 365.6,235.0 366.6,236.7 367.6,235.1 368.6,237.6 369.6,236.6 370.6,237.0 371.6,234.9 372.6,235.4 373.6,234.4 374.6,232.8 375.6,232.2 376.6,232.4 377.6,234.8 378.6,234.0 379.6,235.9 380.6,236.9 381.6,237.8 382.6,238.0 383.6,238.2 384.6,239.3 385.6,238.5 386.6,238.6 387.6,237.1 388.6,239.0 389.6,238.8 390.6,238.5 391.6,240.7 392.6,238.7 393.6,240.1 394.6,241.2 395.6,241.6 396.6,241.1 397.6,240.6 398.6,241.2 399.6,240.7 400.6,239.8 401.6,241.5 402.6,244.4 403.6,244.3 403.8,242.9" fill="none" stroke="#a3282c" stroke-width="1.15" stroke-linejoin="round" stroke-opacity="1.0"/>
<polyline points="312.6,221.9 313.6,225.1 314.6,222.8 315.6,222.9 316.6,223.7 317.6,223.3 318.6,226.2 319.6,225.9 320.6,226.3 321.6,225.9 322.6,224.7 323.6,225.3 324.6,223.6 325.6,224.6 326.6,225.1 327.6,226.0 328.6,224.7 329.6,227.0 330.6,227.4 331.6,227.5 332.6,226.1 333.6,228.8 334.6,229.9 335.6,228.7 336.6,228.0 337.6,230.2 338.6,230.8 339.6,228.9 340.6,230.7 341.6,229.3 342.6,231.1 343.6,232.3 344.6,231.2 345.6,231.2 346.6,230.7 347.6,231.8 348.6,234.1 349.6,234.2 350.6,233.0 351.6,233.9 352.6,234.7 353.6,237.4 354.6,235.8 355.6,237.2 356.6,235.6 357.6,234.9 358.6,236.5 359.6,236.0 360.6,235.1 361.6,234.6 362.6,233.8 363.6,234.5 364.6,233.5 365.6,235.3 366.6,234.1 367.6,234.7 368.6,233.5 369.6,234.4 370.6,234.9 371.6,235.8 372.6,235.9 373.6,235.7 374.6,236.2 375.6,236.3 376.6,237.3 377.6,237.5 378.6,237.8 379.6,237.8 380.6,241.0 381.6,239.7 382.6,238.2 383.6,238.6 384.6,238.8 385.6,240.3 386.6,242.5 387.6,241.1 388.6,242.8 389.6,242.2 390.6,244.3 391.6,244.9 392.6,245.0 393.6,245.8 394.6,246.1 395.6,245.5 396.6,244.4 397.6,245.7 398.6,245.6 399.6,244.4 400.6,244.5 401.6,244.1 402.6,243.2 403.6,243.1 403.8,243.3" fill="none" stroke="#f5763f" stroke-width="1.15" stroke-linejoin="round" stroke-opacity="1.0"/>
<polyline points="312.6,226.3 313.6,224.6 314.6,224.4 315.6,225.1 316.6,224.9 317.6,224.9 318.6,226.7 319.6,227.1 320.6,228.6 321.6,226.0 322.6,229.2 323.6,228.2 324.6,228.2 325.6,229.5 326.6,231.5 327.6,230.5 328.6,230.1 329.6,230.6 330.6,229.5 331.6,230.2 332.6,230.4 333.6,230.7 334.6,229.8 335.6,231.5 336.6,232.0 337.6,232.7 338.6,233.5 339.6,232.7 340.6,233.9 341.6,234.7 342.6,232.0 343.6,233.5 344.6,232.7 345.6,233.1 346.6,234.5 347.6,233.0 348.6,232.6 349.6,233.5 350.6,232.6 351.6,234.5 352.6,231.4 353.6,232.1 354.6,234.2 355.6,234.2 356.6,237.3 357.6,235.0 358.6,235.9 359.6,237.2 360.6,237.7 361.6,238.5 362.6,237.5 363.6,237.6 364.6,237.2 365.6,235.1 366.6,236.0 367.6,235.2 368.6,235.9 369.6,235.4 370.6,236.9 371.6,237.7 372.6,236.3 373.6,238.9 374.6,238.3 375.6,239.3 376.6,239.4 377.6,240.4 378.6,240.2 379.6,242.9 380.6,241.0 381.6,243.5 382.6,241.3 383.6,241.1 384.6,241.9 385.6,240.8 386.6,240.6 387.6,241.9 388.6,241.2 389.6,243.2 390.6,239.9 391.6,241.4 392.6,242.5 393.6,241.4 394.6,243.2 395.6,242.2 396.6,243.7 397.6,242.3 398.6,242.5 399.6,242.9 400.6,243.5 401.6,242.5 402.6,244.7 403.6,245.9 403.8,245.3" fill="none" stroke="#f7a26e" stroke-width="1.15" stroke-linejoin="round" stroke-opacity="1.0"/>
<polyline points="312.6,207.7 313.6,206.9 314.6,208.5 315.6,208.9 316.6,207.7 317.6,208.3 318.6,208.9 319.6,208.0 320.6,206.0 321.6,206.0 322.6,207.9 323.6,208.1 324.6,208.0 325.6,209.2 326.6,210.3 327.6,209.8 328.6,208.6 329.6,211.1 330.6,211.6 331.6,210.9 332.6,209.0 333.6,210.3 334.6,210.9 335.6,210.8 336.6,211.8 337.6,212.7 338.6,211.8 339.6,212.7 340.6,212.0 341.6,213.6 342.6,212.7 343.6,214.3 344.6,212.8 345.6,213.7 346.6,215.6 347.6,214.6 348.6,215.7 349.6,216.5 350.6,216.9 351.6,215.6 352.6,216.3 353.6,215.9 354.6,215.7 355.6,215.8 356.6,214.7 357.6,215.8 358.6,215.4 359.6,215.3 360.6,215.4 361.6,216.9 362.6,217.2 363.6,217.6 364.6,217.0 365.6,218.0 366.6,218.6 367.6,216.6 368.6,217.9 369.6,217.6 370.6,216.3 371.6,215.0 372.6,215.8 373.6,214.4 374.6,214.3 375.6,215.0 376.6,217.8 377.6,217.7 378.6,217.4 379.6,218.5 380.6,218.9 381.6,220.0 382.6,221.8 383.6,221.8 384.6,219.4 385.6,223.0 386.6,222.3 387.6,222.9 388.6,224.1 389.6,221.7 390.6,220.5 391.6,223.7 392.6,223.8 393.6,221.9 394.6,223.5 395.6,225.1 396.6,223.2 397.6,224.6 398.6,226.5 399.6,225.8 400.6,224.2 401.6,223.6 402.6,224.0 403.6,224.6 403.8,224.7" fill="none" stroke="#353535" stroke-width="1.15" stroke-linejoin="round" stroke-opacity="1.0"/>
<polyline points="312.6,202.9 313.6,202.9 314.6,203.7 315.6,202.3 316.6,203.0 317.6,204.1 318.6,205.6 319.6,204.1 320.6,205.0 321.6,205.6 322.6,205.4 323.6,203.5 324.6,205.0 325.6,207.0 326.6,208.1 327.6,208.6 328.6,208.8 329.6,211.7 330.6,210.7 331.6,211.0 332.6,209.8 333.6,210.3 334.6,209.8 335.6,210.8 336.6,210.6 337.6,211.4 338.6,212.7 339.6,211.0 340.6,210.9 341.6,214.6 342.6,216.6 343.6,215.4 344.6,214.3 345.6,216.8 346.6,214.7 347.6,214.3 348.6,214.8 349.6,214.8 350.6,213.8 351.6,213.0 352.6,213.8 353.6,212.5 354.6,214.0 355.6,214.4 356.6,214.0 357.6,215.2 358.6,214.7 359.6,216.7 360.6,215.0 361.6,216.4 362.6,216.2 363.6,217.5 364.6,216.3 365.6,217.9 366.6,217.1 367.6,217.6 368.6,215.9 369.6,216.1 370.6,217.1 371.6,217.2 372.6,219.1 373.6,218.1 374.6,219.9 375.6,220.2 376.6,220.4 377.6,221.2 378.6,220.0 379.6,221.2 380.6,221.3 381.6,219.6 382.6,219.7 383.6,219.0 384.6,220.0 385.6,221.0 386.6,221.9 387.6,221.7 388.6,223.6 389.6,223.4 390.6,225.1 391.6,225.4 392.6,226.6 393.6,225.3 394.6,224.8 395.6,225.4 396.6,224.1 397.6,224.9 398.6,225.3 399.6,224.2 400.6,226.0 401.6,228.4 402.6,227.2 403.6,226.5 403.8,227.7" fill="none" stroke="#9a9a9a" stroke-width="1.15" stroke-linejoin="round" stroke-opacity="1.0"/>
<polyline points="312.6,198.9 313.6,200.3 314.6,200.8 315.6,201.5 316.6,201.7 317.6,202.3 318.6,202.3 319.6,202.5 320.6,202.5 321.6,204.8 322.6,204.6 323.6,204.6 324.6,201.6 325.6,204.3 326.6,205.7 327.6,206.0 328.6,206.8 329.6,207.4 330.6,206.7 331.6,206.9 332.6,209.1 333.6,210.0 334.6,210.5 335.6,209.0 336.6,208.1 337.6,209.8 338.6,208.2 339.6,208.4 340.6,208.1 341.6,209.0 342.6,209.3 343.6,209.0 344.6,209.3 345.6,208.8 346.6,209.6 347.6,209.7 348.6,210.0 349.6,211.2 350.6,208.4 351.6,208.5 352.6,210.7 353.6,212.2 354.6,213.0 355.6,211.5 356.6,214.5 357.6,215.8 358.6,214.7 359.6,216.8 360.6,214.3 361.6,214.5 362.6,214.4 363.6,214.7 364.6,213.5 365.6,214.0 366.6,210.8 367.6,213.0 368.6,213.1 369.6,214.2 370.6,213.6 371.6,213.0 372.6,213.4 373.6,214.2 374.6,214.2 375.6,217.0 376.6,212.4 377.6,215.6 378.6,214.4 379.6,217.9 380.6,216.3 381.6,218.1 382.6,216.7 383.6,217.5 384.6,217.1 385.6,218.6 386.6,217.4 387.6,215.3 388.6,217.1 389.6,217.2 390.6,220.0 391.6,221.3 392.6,221.4 393.6,222.1 394.6,221.8 395.6,221.3 396.6,223.6 397.6,222.6 398.6,222.1 399.6,221.2 400.6,220.8 401.6,221.0 402.6,220.5 403.6,220.9 403.8,222.4" fill="none" stroke="#d0d0d0" stroke-width="1.15" stroke-linejoin="round" stroke-opacity="1.0"/>
<polyline points="403.8,205.5 404.8,207.3 405.8,207.6 406.8,207.9 407.8,207.8 408.8,208.1 409.8,208.5 410.8,208.7 411.8,208.9 412.8,209.3 413.8,209.6 414.8,210.3 415.8,210.2 416.8,211.1 417.8,211.5 418.8,212.2 419.8,212.3 420.8,212.5 421.8,212.5 422.8,213.0 423.8,213.6 424.8,215.1 425.8,215.5 426.8,215.8 427.8,216.3 428.8,217.3 429.8,217.7 430.8,218.2 431.8,218.7 432.8,219.6 433.8,219.7 434.8,219.7 435.8,220.4 436.8,222.0 437.8,222.9 438.8,223.9 439.8,224.4 440.8,224.8 441.8,224.8 442.8,225.3 443.8,226.6 444.8,227.6 445.8,227.9 446.8,228.4 447.8,228.7 448.8,230.1 449.8,230.3 450.8,230.6 451.8,230.6 452.8,232.0 453.8,233.0 454.8,233.6 455.8,233.5 456.8,234.3 457.8,234.7 458.8,235.3 459.8,235.6 460.8,236.3 461.8,237.8 462.8,238.9 463.8,239.7 464.8,240.5 465.8,241.0 466.8,241.3 467.8,241.4 468.8,241.9 469.8,242.9 470.8,243.8 471.8,244.4 472.8,244.8 473.8,245.6 474.8,246.3 475.8,246.9 476.8,247.1 477.8,248.0 478.8,248.6 479.8,249.6 480.8,250.2 481.8,251.2 482.8,251.2 483.8,252.0 484.8,252.1 485.8,253.2 486.8,253.8 487.8,255.2 488.8,255.2 489.8,255.8 490.8,256.3 491.8,257.3 492.8,257.9 493.8,258.3 494.5,258.4" fill="none" stroke="#ffb21c" stroke-width="1.5" stroke-linejoin="round" stroke-opacity="1.0"/>
<polyline points="403.8,202.6 404.8,201.0 405.8,203.3 406.8,205.0 407.8,204.9 408.8,205.6 409.8,205.0 410.8,205.5 411.8,205.9 412.8,206.6 413.8,206.8 414.8,204.3 415.8,208.4 416.8,208.3 417.8,208.5 418.8,206.6 419.8,208.6 420.8,209.1 421.8,206.6 422.8,206.9 423.8,209.1 424.8,208.8 425.8,209.9 426.8,210.1 427.8,213.2 428.8,210.7 429.8,210.8 430.8,212.5 431.8,213.3 432.8,214.0 433.8,215.2 434.8,215.2 435.8,216.7 436.8,218.4 437.8,218.9 438.8,221.4 439.8,220.9 440.8,220.6 441.8,223.6 442.8,223.7 443.8,224.9 444.8,224.4 445.8,222.8 446.8,224.7 447.8,225.3 448.8,226.0 449.8,225.4 450.8,226.9 451.8,224.5 452.8,225.3 453.8,227.5 454.8,227.4 455.8,227.5 456.8,229.2 457.8,229.2 458.8,228.2 459.8,229.4 460.8,229.2 461.8,231.8 462.8,232.5 463.8,231.6 464.8,235.2 465.8,236.7 466.8,236.2 467.8,237.6 468.8,238.2 469.8,235.9 470.8,237.7 471.8,237.9 472.8,237.3 473.8,237.8 474.8,238.9 475.8,240.6 476.8,240.6 477.8,242.1 478.8,242.8 479.8,242.6 480.8,246.7 481.8,247.4 482.8,247.1 483.8,247.6 484.8,250.1 485.8,248.9 486.8,251.2 487.8,250.8 488.8,253.5 489.8,253.6 490.8,253.6 491.8,253.0 492.8,252.8 493.8,253.7 494.5,256.3" fill="none" stroke="#18186f" stroke-width="1.15" stroke-linejoin="round" stroke-opacity="1.0"/>
<polyline points="403.8,204.9 404.8,202.5 405.8,203.7 406.8,202.9 407.8,203.2 408.8,202.0 409.8,202.9 410.8,203.7 411.8,204.5 412.8,206.7 413.8,204.8 414.8,206.0 415.8,209.6 416.8,207.6 417.8,207.8 418.8,209.1 419.8,209.8 420.8,210.0 421.8,208.5 422.8,209.0 423.8,210.4 424.8,209.0 425.8,208.1 426.8,208.8 427.8,208.7 428.8,210.4 429.8,209.7 430.8,210.7 431.8,211.8 432.8,212.2 433.8,215.0 434.8,215.8 435.8,215.5 436.8,216.7 437.8,217.5 438.8,217.6 439.8,219.0 440.8,219.6 441.8,222.1 442.8,223.5 443.8,222.0 444.8,222.4 445.8,223.7 446.8,226.7 447.8,226.2 448.8,224.0 449.8,225.3 450.8,224.3 451.8,224.7 452.8,224.9 453.8,228.0 454.8,226.9 455.8,228.3 456.8,230.9 457.8,230.2 458.8,228.9 459.8,230.4 460.8,230.5 461.8,229.1 462.8,229.8 463.8,231.3 464.8,229.8 465.8,232.5 466.8,232.0 467.8,232.8 468.8,235.2 469.8,235.2 470.8,235.9 471.8,238.6 472.8,238.4 473.8,237.4 474.8,239.1 475.8,239.2 476.8,238.3 477.8,242.1 478.8,242.7 479.8,239.7 480.8,242.7 481.8,241.4 482.8,246.0 483.8,245.8 484.8,246.2 485.8,248.3 486.8,248.6 487.8,248.6 488.8,251.4 489.8,250.4 490.8,252.3 491.8,251.5 492.8,252.7 493.8,253.7 494.5,255.2" fill="none" stroke="#1f7ff0" stroke-width="1.15" stroke-linejoin="round" stroke-opacity="1.0"/>
<polyline points="403.8,203.5 404.8,201.7 405.8,201.5 406.8,203.8 407.8,202.6 408.8,201.4 409.8,202.6 410.8,204.7 411.8,206.1 412.8,204.6 413.8,206.4 414.8,205.7 415.8,207.8 416.8,205.9 417.8,205.6 418.8,204.9 419.8,205.6 420.8,206.3 421.8,203.3 422.8,207.9 423.8,207.4 424.8,208.4 425.8,209.1 426.8,210.5 427.8,210.6 428.8,209.3 429.8,210.5 430.8,210.5 431.8,211.8 432.8,210.5 433.8,211.8 434.8,211.3 435.8,213.8 436.8,215.8 437.8,215.8 438.8,215.3 439.8,215.6 440.8,215.7 441.8,218.1 442.8,216.9 443.8,218.1 444.8,216.7 445.8,218.9 446.8,220.3 447.8,221.6 448.8,224.0 449.8,222.4 450.8,222.8 451.8,226.0 452.8,225.0 453.8,226.6 454.8,227.6 455.8,226.9 456.8,226.3 457.8,228.8 458.8,229.1 459.8,226.5 460.8,227.1 461.8,228.6 462.8,228.0 463.8,226.9 464.8,228.8 465.8,230.1 466.8,228.7 467.8,230.8 468.8,231.7 469.8,231.8 470.8,233.7 471.8,233.7 472.8,235.7 473.8,236.7 474.8,234.7 475.8,238.4 476.8,239.3 477.8,239.7 478.8,238.9 479.8,241.9 480.8,243.3 481.8,243.2 482.8,246.2 483.8,245.1 484.8,245.2 485.8,247.0 486.8,247.7 487.8,249.1 488.8,249.1 489.8,249.7 490.8,250.7 491.8,251.0 492.8,252.9 493.8,253.9 494.5,253.2" fill="none" stroke="#84c8ec" stroke-width="1.15" stroke-linejoin="round" stroke-opacity="1.0"/>
<polyline points="403.8,207.0 404.8,203.2 405.8,203.1 406.8,204.9 407.8,205.2 408.8,205.8 409.8,205.4 410.8,206.3 411.8,203.7 412.8,206.0 413.8,205.8 414.8,207.5 415.8,207.3 416.8,208.4 417.8,207.1 418.8,208.1 419.8,208.1 420.8,209.7 421.8,209.3 422.8,209.0 423.8,211.2 424.8,210.8 425.8,212.0 426.8,210.6 427.8,210.2 428.8,211.4 429.8,211.5 430.8,213.3 431.8,213.8 432.8,215.2 433.8,216.3 434.8,215.6 435.8,215.4 436.8,215.1 437.8,217.5 438.8,217.2 439.8,217.7 440.8,220.9 441.8,221.3 442.8,222.9 443.8,222.2 444.8,224.5 445.8,223.6 446.8,223.5 447.8,223.3 448.8,223.5 449.8,222.4 450.8,225.4 451.8,223.0 452.8,226.1 453.8,225.4 454.8,226.4 455.8,228.2 456.8,229.8 457.8,231.3 458.8,231.1 459.8,230.9 460.8,230.2 461.8,230.1 462.8,235.1 463.8,233.3 464.8,232.1 465.8,235.2 466.8,232.2 467.8,237.1 468.8,238.0 469.8,237.3 470.8,239.3 471.8,237.8 472.8,238.8 473.8,240.3 474.8,241.1 475.8,242.9 476.8,242.7 477.8,242.3 478.8,241.9 479.8,244.5 480.8,244.1 481.8,243.5 482.8,243.5 483.8,239.3 484.8,243.9 485.8,246.2 486.8,250.1 487.8,249.8 488.8,250.7 489.8,252.3 490.8,252.5 491.8,255.9 492.8,257.1 493.8,258.2 494.5,254.8" fill="none" stroke="#353535" stroke-width="1.15" stroke-linejoin="round" stroke-opacity="1.0"/>
<polyline points="403.8,203.1 404.8,203.4 405.8,206.3 406.8,204.4 407.8,204.3 408.8,205.0 409.8,206.8 410.8,204.5 411.8,205.5 412.8,203.9 413.8,205.0 414.8,204.7 415.8,205.9 416.8,205.3 417.8,207.3 418.8,206.8 419.8,206.2 420.8,206.2 421.8,206.6 422.8,207.0 423.8,207.6 424.8,207.9 425.8,210.2 426.8,210.6 427.8,210.1 428.8,210.2 429.8,211.2 430.8,212.0 431.8,213.0 432.8,210.8 433.8,212.4 434.8,211.5 435.8,214.1 436.8,215.7 437.8,214.5 438.8,216.3 439.8,216.7 440.8,217.2 441.8,221.7 442.8,222.0 443.8,222.2 444.8,222.0 445.8,223.2 446.8,222.9 447.8,224.0 448.8,222.5 449.8,224.7 450.8,225.5 451.8,225.3 452.8,230.2 453.8,229.4 454.8,228.9 455.8,229.7 456.8,231.9 457.8,232.3 458.8,232.9 459.8,231.6 460.8,232.9 461.8,233.5 462.8,234.7 463.8,232.0 464.8,234.0 465.8,232.7 466.8,233.8 467.8,234.9 468.8,235.2 469.8,236.7 470.8,237.5 471.8,237.3 472.8,238.2 473.8,241.5 474.8,242.5 475.8,241.4 476.8,241.3 477.8,243.0 478.8,243.6 479.8,242.6 480.8,246.1 481.8,244.2 482.8,247.0 483.8,245.6 484.8,247.4 485.8,247.8 486.8,249.5 487.8,252.4 488.8,251.3 489.8,252.6 490.8,254.2 491.8,252.9 492.8,256.8 493.8,254.1 494.5,259.2" fill="none" stroke="#9a9a9a" stroke-width="1.15" stroke-linejoin="round" stroke-opacity="1.0"/>
<polyline points="403.8,198.0 404.8,198.8 405.8,198.9 406.8,200.9 407.8,199.8 408.8,202.7 409.8,203.6 410.8,202.8 411.8,202.6 412.8,204.9 413.8,203.7 414.8,204.0 415.8,204.7 416.8,205.4 417.8,204.9 418.8,207.1 419.8,205.6 420.8,205.2 421.8,206.2 422.8,205.9 423.8,207.5 424.8,209.5 425.8,210.8 426.8,208.5 427.8,208.4 428.8,208.2 429.8,208.0 430.8,211.3 431.8,211.5 432.8,212.6 433.8,213.6 434.8,216.3 435.8,217.4 436.8,217.5 437.8,217.6 438.8,219.5 439.8,217.6 440.8,218.8 441.8,216.3 442.8,216.8 443.8,217.2 444.8,216.8 445.8,219.7 446.8,221.3 447.8,221.2 448.8,224.2 449.8,224.7 450.8,225.2 451.8,224.6 452.8,227.6 453.8,228.3 454.8,226.4 455.8,229.7 456.8,228.0 457.8,228.2 458.8,227.7 459.8,226.4 460.8,227.7 461.8,227.4 462.8,231.7 463.8,231.6 464.8,229.4 465.8,232.3 466.8,230.3 467.8,232.8 468.8,234.1 469.8,234.5 470.8,233.5 471.8,234.6 472.8,235.5 473.8,237.0 474.8,238.8 475.8,238.7 476.8,240.6 477.8,238.7 478.8,239.3 479.8,241.0 480.8,242.5 481.8,241.0 482.8,243.4 483.8,247.0 484.8,244.6 485.8,246.0 486.8,247.3 487.8,249.0 488.8,249.5 489.8,248.7 490.8,248.0 491.8,250.8 492.8,249.7 493.8,250.7 494.5,251.5" fill="none" stroke="#d0d0d0" stroke-width="1.15" stroke-linejoin="round" stroke-opacity="1.0"/>
<polyline points="403.8,218.5 404.8,218.4 405.8,219.3 406.8,219.0 407.8,218.9 408.8,219.8 409.8,220.3 410.8,217.6 411.8,219.8 412.8,219.6 413.8,219.7 414.8,222.2 415.8,223.3 416.8,222.2 417.8,222.4 418.8,224.4 419.8,223.6 420.8,224.3 421.8,224.2 422.8,226.0 423.8,228.3 424.8,227.2 425.8,227.8 426.8,229.6 427.8,229.4 428.8,231.5 429.8,231.9 430.8,232.1 431.8,230.8 432.8,231.3 433.8,231.1 434.8,235.1 435.8,234.3 436.8,234.5 437.8,234.7 438.8,234.4 439.8,234.4 440.8,239.1 441.8,238.5 442.8,238.9 443.8,238.8 444.8,240.5 445.8,241.7 446.8,241.6 447.8,243.0 448.8,242.4 449.8,244.1 450.8,245.6 451.8,247.2 452.8,247.3 453.8,248.3 454.8,246.9 455.8,249.3 456.8,248.9 457.8,249.7 458.8,251.1 459.8,250.0 460.8,250.3 461.8,251.8 462.8,252.1 463.8,253.1 464.8,253.4 465.8,255.6 466.8,254.8 467.8,255.8 468.8,256.6 469.8,256.9 470.8,258.0 471.8,258.7 472.8,258.5 473.8,257.9 474.8,258.1 475.8,260.1 476.8,257.6 477.8,259.0 478.8,259.4 479.8,260.8 480.8,260.7 481.8,262.7 482.8,264.5 483.8,264.3 484.8,265.0 485.8,265.8 486.8,267.4 487.8,267.3 488.8,268.7 489.8,269.0 490.8,268.6 491.8,269.8 492.8,270.2 493.8,268.0 494.5,269.1" fill="none" stroke="#f7a26e" stroke-width="1.15" stroke-linejoin="round" stroke-opacity="1.0"/>
<polyline points="403.8,216.5 404.8,218.2 405.8,218.3 406.8,219.8 407.8,219.0 408.8,220.2 409.8,220.0 410.8,219.0 411.8,220.2 412.8,219.0 413.8,219.3 414.8,220.4 415.8,218.6 416.8,220.0 417.8,220.8 418.8,222.7 419.8,222.4 420.8,223.7 421.8,223.3 422.8,224.4 423.8,225.1 424.8,225.9 425.8,225.1 426.8,224.9 427.8,225.3 428.8,226.7 429.8,225.8 430.8,225.9 431.8,226.7 432.8,230.5 433.8,228.6 434.8,229.4 435.8,231.4 436.8,233.1 437.8,231.6 438.8,233.1 439.8,232.8 440.8,234.1 441.8,237.0 442.8,237.1 443.8,237.7 444.8,238.4 445.8,238.9 446.8,238.5 447.8,238.8 448.8,239.8 449.8,242.7 450.8,240.7 451.8,242.9 452.8,242.0 453.8,245.1 454.8,245.4 455.8,245.7 456.8,248.4 457.8,246.0 458.8,247.3 459.8,248.3 460.8,248.1 461.8,249.4 462.8,249.4 463.8,250.8 464.8,253.6 465.8,250.3 466.8,250.9 467.8,252.5 468.8,252.9 469.8,255.8 470.8,256.3 471.8,256.8 472.8,257.4 473.8,260.0 474.8,258.7 475.8,260.3 476.8,261.6 477.8,262.4 478.8,262.1 479.8,261.9 480.8,262.1 481.8,263.6 482.8,264.3 483.8,264.9 484.8,264.8 485.8,267.8 486.8,267.8 487.8,269.9 488.8,268.7 489.8,269.5 490.8,269.2 491.8,269.4 492.8,269.4 493.8,269.7 494.5,267.9" fill="none" stroke="#f5763f" stroke-width="1.15" stroke-linejoin="round" stroke-opacity="1.0"/>
<polyline points="403.8,218.4 404.8,218.4 405.8,217.3 406.8,219.0 407.8,221.2 408.8,222.1 409.8,221.4 410.8,221.3 411.8,222.5 412.8,221.7 413.8,223.0 414.8,224.7 415.8,223.5 416.8,225.1 417.8,225.0 418.8,227.6 419.8,225.9 420.8,227.7 421.8,227.4 422.8,227.1 423.8,225.6 424.8,227.1 425.8,228.9 426.8,229.3 427.8,228.6 428.8,230.8 429.8,229.7 430.8,228.8 431.8,230.7 432.8,232.0 433.8,233.2 434.8,231.7 435.8,232.4 436.8,234.3 437.8,234.3 438.8,235.0 439.8,234.2 440.8,236.1 441.8,234.6 442.8,238.1 443.8,241.2 444.8,241.8 445.8,242.4 446.8,243.3 447.8,246.0 448.8,245.7 449.8,246.5 450.8,246.7 451.8,247.6 452.8,247.9 453.8,248.8 454.8,248.5 455.8,250.1 456.8,251.1 457.8,251.5 458.8,252.3 459.8,250.4 460.8,252.4 461.8,253.4 462.8,254.0 463.8,252.8 464.8,253.4 465.8,255.7 466.8,255.1 467.8,256.2 468.8,256.7 469.8,257.5 470.8,256.4 471.8,258.3 472.8,259.0 473.8,259.9 474.8,259.6 475.8,261.3 476.8,261.8 477.8,262.8 478.8,264.7 479.8,265.1 480.8,265.4 481.8,266.3 482.8,263.9 483.8,265.7 484.8,265.9 485.8,265.9 486.8,265.6 487.8,267.3 488.8,266.8 489.8,267.2 490.8,267.5 491.8,269.2 492.8,271.1 493.8,272.4 494.5,272.6" fill="none" stroke="#a3282c" stroke-width="1.15" stroke-linejoin="round" stroke-opacity="1.0"/>
<line x1="221.5" y1="233.5" x2="225.0" y2="233.5" stroke="#a56cf0" stroke-width="1.4"/>
<line x1="312.6" y1="233.5" x2="316.1" y2="233.5" stroke="#a56cf0" stroke-width="1.4"/>
<line x1="403.8" y1="233.5" x2="407.3" y2="233.5" stroke="#a56cf0" stroke-width="1.4"/>
</g>
<rect x="38.5" y="5.3" width="456.0" height="138.1" fill="none" stroke="#8a8a8a" stroke-width="1"/>
<line x1="38.5" y1="139.40" x2="40.5" y2="139.40" stroke="#8a8a8a" stroke-width="0.8"/>
<line x1="220.0" y1="139.40" x2="223.0" y2="139.40" stroke="#888" stroke-width="0.7"/>
<line x1="311.1" y1="139.40" x2="314.1" y2="139.40" stroke="#888" stroke-width="0.7"/>
<line x1="402.3" y1="139.40" x2="405.3" y2="139.40" stroke="#888" stroke-width="0.7"/>
<line x1="492.5" y1="139.40" x2="494.5" y2="139.40" stroke="#8a8a8a" stroke-width="0.8"/>
<line x1="38.5" y1="121.54" x2="40.5" y2="121.54" stroke="#8a8a8a" stroke-width="0.8"/>
<line x1="220.0" y1="121.54" x2="223.0" y2="121.54" stroke="#888" stroke-width="0.7"/>
<line x1="311.1" y1="121.54" x2="314.1" y2="121.54" stroke="#888" stroke-width="0.7"/>
<line x1="402.3" y1="121.54" x2="405.3" y2="121.54" stroke="#888" stroke-width="0.7"/>
<line x1="492.5" y1="121.54" x2="494.5" y2="121.54" stroke="#8a8a8a" stroke-width="0.8"/>
<line x1="38.5" y1="103.67" x2="40.5" y2="103.67" stroke="#8a8a8a" stroke-width="0.8"/>
<line x1="220.0" y1="103.67" x2="223.0" y2="103.67" stroke="#888" stroke-width="0.7"/>
<line x1="311.1" y1="103.67" x2="314.1" y2="103.67" stroke="#888" stroke-width="0.7"/>
<line x1="402.3" y1="103.67" x2="405.3" y2="103.67" stroke="#888" stroke-width="0.7"/>
<line x1="492.5" y1="103.67" x2="494.5" y2="103.67" stroke="#8a8a8a" stroke-width="0.8"/>
<line x1="38.5" y1="85.81" x2="40.5" y2="85.81" stroke="#8a8a8a" stroke-width="0.8"/>
<line x1="220.0" y1="85.81" x2="223.0" y2="85.81" stroke="#888" stroke-width="0.7"/>
<line x1="311.1" y1="85.81" x2="314.1" y2="85.81" stroke="#888" stroke-width="0.7"/>
<line x1="402.3" y1="85.81" x2="405.3" y2="85.81" stroke="#888" stroke-width="0.7"/>
<line x1="492.5" y1="85.81" x2="494.5" y2="85.81" stroke="#8a8a8a" stroke-width="0.8"/>
<line x1="38.5" y1="67.94" x2="40.5" y2="67.94" stroke="#8a8a8a" stroke-width="0.8"/>
<line x1="220.0" y1="67.94" x2="223.0" y2="67.94" stroke="#888" stroke-width="0.7"/>
<line x1="311.1" y1="67.94" x2="314.1" y2="67.94" stroke="#888" stroke-width="0.7"/>
<line x1="402.3" y1="67.94" x2="405.3" y2="67.94" stroke="#888" stroke-width="0.7"/>
<line x1="492.5" y1="67.94" x2="494.5" y2="67.94" stroke="#8a8a8a" stroke-width="0.8"/>
<line x1="38.5" y1="50.08" x2="40.5" y2="50.08" stroke="#8a8a8a" stroke-width="0.8"/>
<line x1="220.0" y1="50.08" x2="223.0" y2="50.08" stroke="#888" stroke-width="0.7"/>
<line x1="311.1" y1="50.08" x2="314.1" y2="50.08" stroke="#888" stroke-width="0.7"/>
<line x1="402.3" y1="50.08" x2="405.3" y2="50.08" stroke="#888" stroke-width="0.7"/>
<line x1="492.5" y1="50.08" x2="494.5" y2="50.08" stroke="#8a8a8a" stroke-width="0.8"/>
<line x1="38.5" y1="32.22" x2="40.5" y2="32.22" stroke="#8a8a8a" stroke-width="0.8"/>
<line x1="220.0" y1="32.22" x2="223.0" y2="32.22" stroke="#888" stroke-width="0.7"/>
<line x1="311.1" y1="32.22" x2="314.1" y2="32.22" stroke="#888" stroke-width="0.7"/>
<line x1="402.3" y1="32.22" x2="405.3" y2="32.22" stroke="#888" stroke-width="0.7"/>
<line x1="492.5" y1="32.22" x2="494.5" y2="32.22" stroke="#8a8a8a" stroke-width="0.8"/>
<line x1="38.5" y1="14.35" x2="40.5" y2="14.35" stroke="#8a8a8a" stroke-width="0.8"/>
<line x1="220.0" y1="14.35" x2="223.0" y2="14.35" stroke="#888" stroke-width="0.7"/>
<line x1="311.1" y1="14.35" x2="314.1" y2="14.35" stroke="#888" stroke-width="0.7"/>
<line x1="402.3" y1="14.35" x2="405.3" y2="14.35" stroke="#888" stroke-width="0.7"/>
<line x1="492.5" y1="14.35" x2="494.5" y2="14.35" stroke="#8a8a8a" stroke-width="0.8"/>
<rect x="38.5" y="146.60000000000002" width="456.0" height="138.7" fill="none" stroke="#8a8a8a" stroke-width="1"/>
<line x1="38.5" y1="280.70" x2="40.5" y2="280.70" stroke="#8a8a8a" stroke-width="0.8"/>
<line x1="220.0" y1="280.70" x2="223.0" y2="280.70" stroke="#888" stroke-width="0.7"/>
<line x1="311.1" y1="280.70" x2="314.1" y2="280.70" stroke="#888" stroke-width="0.7"/>
<line x1="402.3" y1="280.70" x2="405.3" y2="280.70" stroke="#888" stroke-width="0.7"/>
<line x1="492.5" y1="280.70" x2="494.5" y2="280.70" stroke="#8a8a8a" stroke-width="0.8"/>
<line x1="38.5" y1="262.84" x2="40.5" y2="262.84" stroke="#8a8a8a" stroke-width="0.8"/>
<line x1="220.0" y1="262.84" x2="223.0" y2="262.84" stroke="#888" stroke-width="0.7"/>
<line x1="311.1" y1="262.84" x2="314.1" y2="262.84" stroke="#888" stroke-width="0.7"/>
<line x1="402.3" y1="262.84" x2="405.3" y2="262.84" stroke="#888" stroke-width="0.7"/>
<line x1="492.5" y1="262.84" x2="494.5" y2="262.84" stroke="#8a8a8a" stroke-width="0.8"/>
<line x1="38.5" y1="244.97" x2="40.5" y2="244.97" stroke="#8a8a8a" stroke-width="0.8"/>
<line x1="220.0" y1="244.97" x2="223.0" y2="244.97" stroke="#888" stroke-width="0.7"/>
<line x1="311.1" y1="244.97" x2="314.1" y2="244.97" stroke="#888" stroke-width="0.7"/>
<line x1="402.3" y1="244.97" x2="405.3" y2="244.97" stroke="#888" stroke-width="0.7"/>
<line x1="492.5" y1="244.97" x2="494.5" y2="244.97" stroke="#8a8a8a" stroke-width="0.8"/>
<line x1="38.5" y1="227.11" x2="40.5" y2="227.11" stroke="#8a8a8a" stroke-width="0.8"/>
<line x1="220.0" y1="227.11" x2="223.0" y2="227.11" stroke="#888" stroke-width="0.7"/>
<line x1="311.1" y1="227.11" x2="314.1" y2="227.11" stroke="#888" stroke-width="0.7"/>
<line x1="402.3" y1="227.11" x2="405.3" y2="227.11" stroke="#888" stroke-width="0.7"/>
<line x1="492.5" y1="227.11" x2="494.5" y2="227.11" stroke="#8a8a8a" stroke-width="0.8"/>
<line x1="38.5" y1="209.24" x2="40.5" y2="209.24" stroke="#8a8a8a" stroke-width="0.8"/>
<line x1="220.0" y1="209.24" x2="223.0" y2="209.24" stroke="#888" stroke-width="0.7"/>
<line x1="311.1" y1="209.24" x2="314.1" y2="209.24" stroke="#888" stroke-width="0.7"/>
<line x1="402.3" y1="209.24" x2="405.3" y2="209.24" stroke="#888" stroke-width="0.7"/>
<line x1="492.5" y1="209.24" x2="494.5" y2="209.24" stroke="#8a8a8a" stroke-width="0.8"/>
<line x1="38.5" y1="191.38" x2="40.5" y2="191.38" stroke="#8a8a8a" stroke-width="0.8"/>
<line x1="220.0" y1="191.38" x2="223.0" y2="191.38" stroke="#888" stroke-width="0.7"/>
<line x1="311.1" y1="191.38" x2="314.1" y2="191.38" stroke="#888" stroke-width="0.7"/>
<line x1="402.3" y1="191.38" x2="405.3" y2="191.38" stroke="#888" stroke-width="0.7"/>
<line x1="492.5" y1="191.38" x2="494.5" y2="191.38" stroke="#8a8a8a" stroke-width="0.8"/>
<line x1="38.5" y1="173.52" x2="40.5" y2="173.52" stroke="#8a8a8a" stroke-width="0.8"/>
<line x1="220.0" y1="173.52" x2="223.0" y2="173.52" stroke="#888" stroke-width="0.7"/>
<line x1="311.1" y1="173.52" x2="314.1" y2="173.52" stroke="#888" stroke-width="0.7"/>
<line x1="402.3" y1="173.52" x2="405.3" y2="173.52" stroke="#888" stroke-width="0.7"/>
<line x1="492.5" y1="173.52" x2="494.5" y2="173.52" stroke="#8a8a8a" stroke-width="0.8"/>
<line x1="38.5" y1="155.65" x2="40.5" y2="155.65" stroke="#8a8a8a" stroke-width="0.8"/>
<line x1="220.0" y1="155.65" x2="223.0" y2="155.65" stroke="#888" stroke-width="0.7"/>
<line x1="311.1" y1="155.65" x2="314.1" y2="155.65" stroke="#888" stroke-width="0.7"/>
<line x1="402.3" y1="155.65" x2="405.3" y2="155.65" stroke="#888" stroke-width="0.7"/>
<line x1="492.5" y1="155.65" x2="494.5" y2="155.65" stroke="#8a8a8a" stroke-width="0.8"/>
<line x1="38.50" y1="285.3" x2="38.50" y2="297.5" stroke="#dcdcdc" stroke-width="1"/>
<line x1="94.29" y1="285.3" x2="94.29" y2="297.5" stroke="#dcdcdc" stroke-width="1"/>
<line x1="150.09" y1="285.3" x2="150.09" y2="297.5" stroke="#dcdcdc" stroke-width="1"/>
<line x1="259.01" y1="285.3" x2="259.01" y2="297.5" stroke="#dcdcdc" stroke-width="1"/>
<line x1="350.15" y1="285.3" x2="350.15" y2="297.5" stroke="#dcdcdc" stroke-width="1"/>
<line x1="441.15" y1="285.3" x2="441.15" y2="297.5" stroke="#dcdcdc" stroke-width="1"/>
<line x1="221.5" y1="5.3" x2="221.5" y2="298" stroke="#262626" stroke-width="1.15"/>
<line x1="312.6" y1="5.3" x2="312.6" y2="298" stroke="#262626" stroke-width="1.15"/>
<line x1="403.8" y1="5.3" x2="403.8" y2="298" stroke="#262626" stroke-width="1.15"/>
<text x="34.8" y="143.4" font-family="Liberation Serif" font-size="11.3" fill="#222" font-weight="normal" text-anchor="end" >0</text>
<text x="34.8" y="125.536" font-family="Liberation Serif" font-size="11.3" fill="#222" font-weight="normal" text-anchor="end" >4</text>
<text x="34.8" y="107.672" font-family="Liberation Serif" font-size="11.3" fill="#222" font-weight="normal" text-anchor="end" >8</text>
<text x="34.8" y="89.808" font-family="Liberation Serif" font-size="11.3" fill="#222" font-weight="normal" text-anchor="end" >12</text>
<text x="34.8" y="71.944" font-family="Liberation Serif" font-size="11.3" fill="#222" font-weight="normal" text-anchor="end" >16</text>
<text x="34.8" y="54.08" font-family="Liberation Serif" font-size="11.3" fill="#222" font-weight="normal" text-anchor="end" >20</text>
<text x="34.8" y="36.21600000000001" font-family="Liberation Serif" font-size="11.3" fill="#222" font-weight="normal" text-anchor="end" >24</text>
<text x="34.8" y="18.352000000000004" font-family="Liberation Serif" font-size="11.3" fill="#222" font-weight="normal" text-anchor="end" >28</text>
<text x="34.8" y="284.70000000000005" font-family="Liberation Serif" font-size="11.3" fill="#222" font-weight="normal" text-anchor="end" >0</text>
<text x="34.8" y="266.83600000000007" font-family="Liberation Serif" font-size="11.3" fill="#222" font-weight="normal" text-anchor="end" >4</text>
<text x="34.8" y="248.97200000000004" font-family="Liberation Serif" font-size="11.3" fill="#222" font-weight="normal" text-anchor="end" >8</text>
<text x="34.8" y="231.10800000000006" font-family="Liberation Serif" font-size="11.3" fill="#222" font-weight="normal" text-anchor="end" >12</text>
<text x="34.8" y="213.24400000000003" font-family="Liberation Serif" font-size="11.3" fill="#222" font-weight="normal" text-anchor="end" >16</text>
<text x="34.8" y="195.38000000000005" font-family="Liberation Serif" font-size="11.3" fill="#222" font-weight="normal" text-anchor="end" >20</text>
<text x="34.8" y="177.51600000000005" font-family="Liberation Serif" font-size="11.3" fill="#222" font-weight="normal" text-anchor="end" >24</text>
<text x="34.8" y="159.65200000000004" font-family="Liberation Serif" font-size="11.3" fill="#222" font-weight="normal" text-anchor="end" >28</text>
<text x="491" y="19.2" font-family="Liberation Sans" font-size="11" fill="#111" font-weight="bold" text-anchor="end" >ZAA</text>
<text x="491.3" y="160.5" font-family="Liberation Sans" font-size="11" fill="#111" font-weight="bold" text-anchor="end" >TTOP</text>
<text x="492.4" y="136.7" font-family="Liberation Sans" font-size="11.5" fill="#1a1a1a" font-weight="normal" text-anchor="end" >(a)</text>
<text x="492.4" y="278.0" font-family="Liberation Sans" font-size="11.5" fill="#1a1a1a" font-weight="normal" text-anchor="end" >(b)</text>
<text x="225.0" y="279.6" font-family="Liberation Sans" font-size="10.8" fill="#111" font-weight="bold" text-anchor="start" >SSP1-1.9</text>
<text x="316.1" y="279.6" font-family="Liberation Sans" font-size="10.8" fill="#111" font-weight="bold" text-anchor="start" >SSP2-4.5</text>
<text x="407.3" y="279.6" font-family="Liberation Sans" font-size="10.8" fill="#111" font-weight="bold" text-anchor="start" >SSP5-8.5</text>
<text x="40.6" y="295.8" font-family="Liberation Serif" font-size="11.2" fill="#222" font-weight="normal" text-anchor="start" >1850</text>
<text x="96.39999999999999" y="295.8" font-family="Liberation Serif" font-size="11.2" fill="#222" font-weight="normal" text-anchor="start" >1900</text>
<text x="152.1" y="295.8" font-family="Liberation Serif" font-size="11.2" fill="#222" font-weight="normal" text-anchor="start" >1950</text>
<text x="224.5" y="295.8" font-family="Liberation Serif" font-size="11" fill="#333" font-weight="normal" text-anchor="start" >2015</text>
<text x="262.0" y="295.8" font-family="Liberation Serif" font-size="11" fill="#333" font-weight="normal" text-anchor="start" >2050</text>
<text x="311.1" y="295.8" font-family="Liberation Sans" font-size="11" fill="#111" font-weight="bold" text-anchor="end" >2100</text>
<text x="315.6" y="295.8" font-family="Liberation Serif" font-size="11" fill="#333" font-weight="normal" text-anchor="start" >2015</text>
<text x="353.1" y="295.8" font-family="Liberation Serif" font-size="11" fill="#333" font-weight="normal" text-anchor="start" >2050</text>
<text x="402.3" y="295.8" font-family="Liberation Sans" font-size="11" fill="#111" font-weight="bold" text-anchor="end" >2100</text>
<text x="406.8" y="295.8" font-family="Liberation Serif" font-size="11" fill="#333" font-weight="normal" text-anchor="start" >2015</text>
<text x="444.3" y="295.8" font-family="Liberation Serif" font-size="11" fill="#333" font-weight="normal" text-anchor="start" >2050</text>
<text x="493.0" y="295.8" font-family="Liberation Sans" font-size="11" fill="#111" font-weight="bold" text-anchor="end" >2100</text>
<text x="276" y="313.8" font-family="Liberation Serif" font-size="13" fill="#222" font-weight="normal" text-anchor="middle" >Year</text>
<text x="45" y="233.2" font-family="Liberation Sans" font-size="10.6" fill="#ffb21c" font-weight="bold" text-anchor="start" >CMIP6</text>
<text x="92" y="233.4" font-family="Liberation Serif" font-size="10.8" fill="#a56cf0" font-weight="normal" text-anchor="start" >ESApCCIv3</text>
<text x="45" y="249.2" font-family="Liberation Serif" font-size="10.9" fill="#18186f" font-weight="normal" text-anchor="start" >WET18</text>
<text x="92" y="249.2" font-family="Liberation Serif" font-size="10.9" fill="#a3282c" font-weight="normal" text-anchor="start" >DRY18</text>
<text x="139.5" y="249.2" font-family="Liberation Serif" font-size="10.9" fill="#353535" font-weight="normal" text-anchor="start" >REF18</text>
<text x="45" y="264.2" font-family="Liberation Serif" font-size="10.9" fill="#1f7ff0" font-weight="normal" text-anchor="start" >WET11</text>
<text x="92" y="264.2" font-family="Liberation Serif" font-size="10.9" fill="#f5763f" font-weight="normal" text-anchor="start" >DRY11</text>
<text x="139.5" y="264.2" font-family="Liberation Serif" font-size="10.9" fill="#9a9a9a" font-weight="normal" text-anchor="start" >REF11</text>
<text x="45" y="279.2" font-family="Liberation Serif" font-size="10.9" fill="#84c8ec" font-weight="normal" text-anchor="start" >WET5</text>
<text x="92" y="279.2" font-family="Liberation Serif" font-size="10.9" fill="#f7a26e" font-weight="normal" text-anchor="start" >DRY5</text>
<text x="139.5" y="279.2" font-family="Liberation Serif" font-size="10.9" fill="#d0d0d0" font-weight="normal" text-anchor="start" >REF5</text>
<text class="yl" transform="translate(16.6,74.35) rotate(-90)" font-family="Liberation Serif" font-size="11" fill="#111" text-anchor="middle">PE (10<tspan dy="-4.5" font-size="8.5">6</tspan><tspan dy="4.5"> km</tspan><tspan dy="-4.5" font-size="8.5">2</tspan><tspan dy="4.5">)</tspan></text>
<text class="yl" transform="translate(16.6,215.65) rotate(-90)" font-family="Liberation Serif" font-size="11" fill="#111" text-anchor="middle">PE (10<tspan dy="-4.5" font-size="8.5">6</tspan><tspan dy="4.5"> km</tspan><tspan dy="-4.5" font-size="8.5">2</tspan><tspan dy="4.5">)</tspan></text>
</svg>
</body></html>
